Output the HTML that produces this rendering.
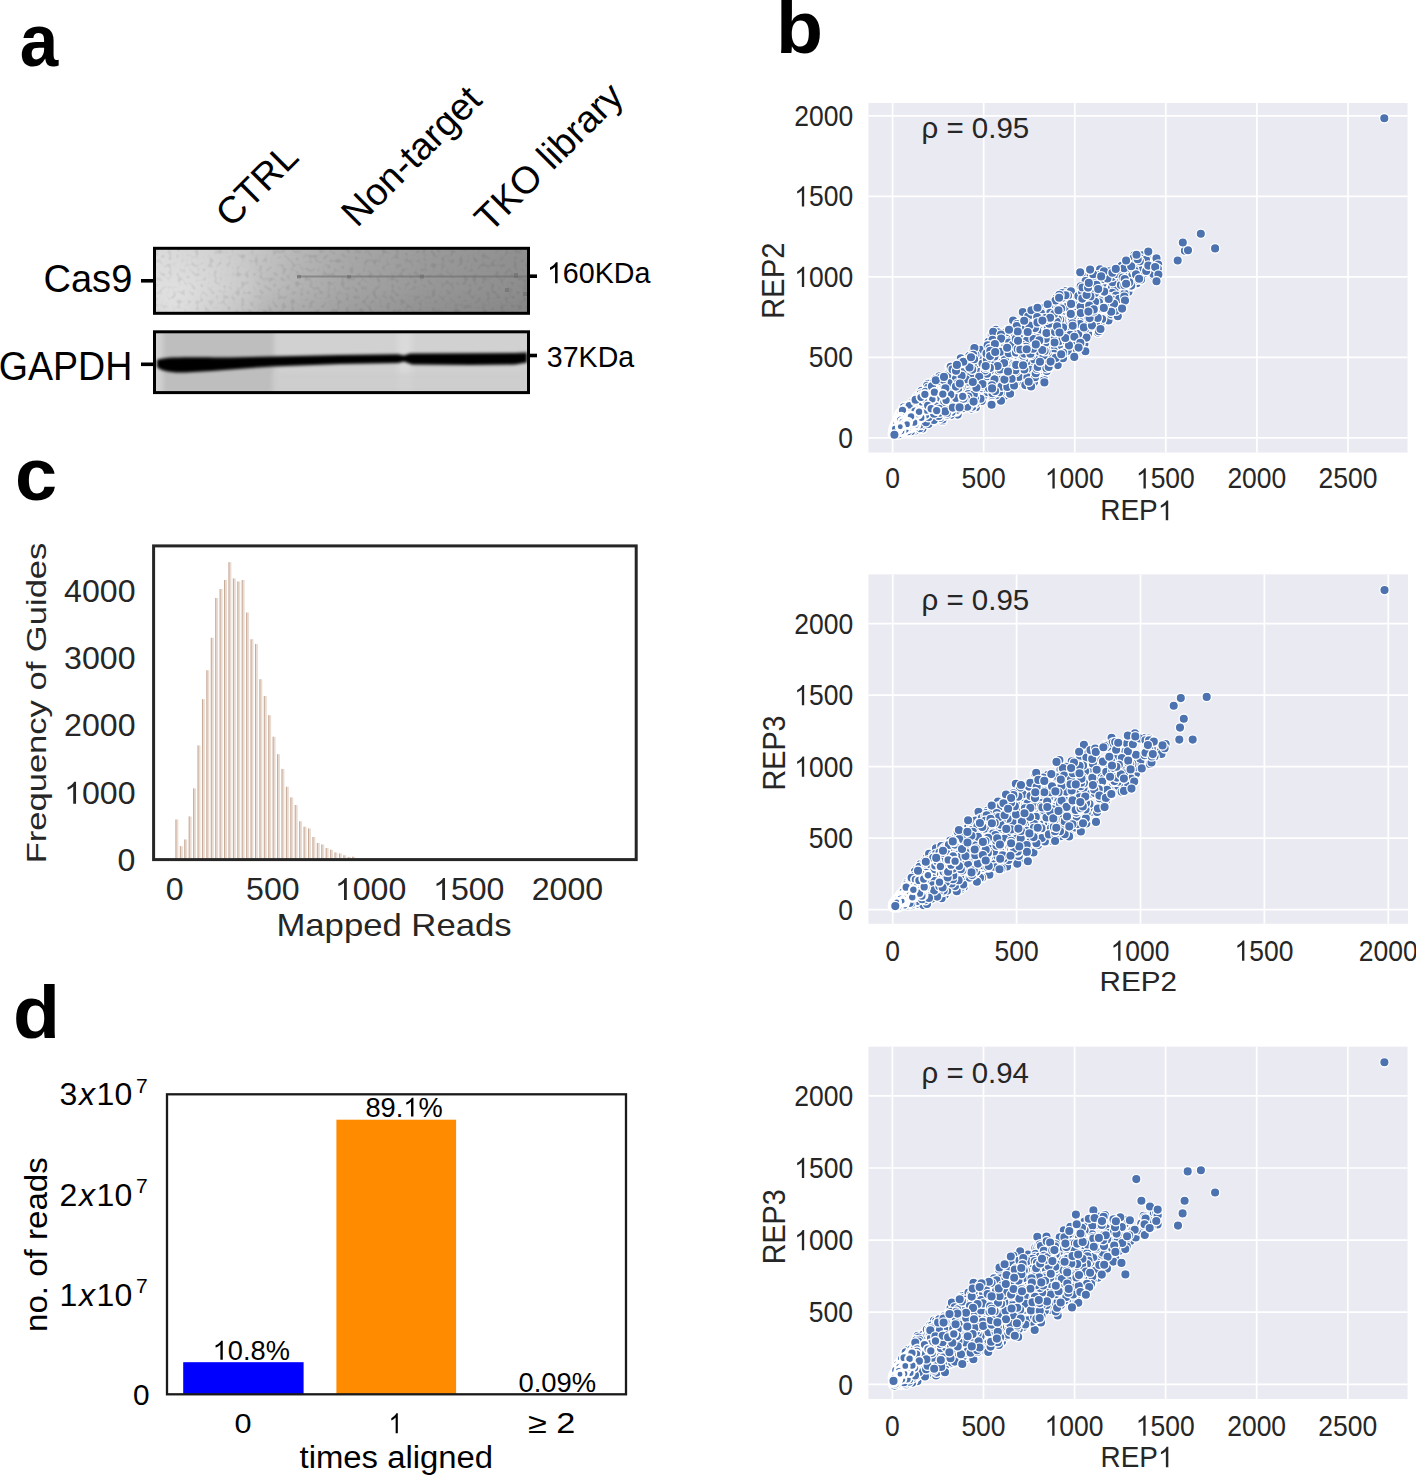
<!DOCTYPE html><html><head><meta charset="utf-8"><style>html,body{margin:0;padding:0;background:#fff;width:1416px;height:1476px;overflow:hidden;}svg{display:block;}text{font-family:"Liberation Sans",sans-serif;}</style></head><body>
<svg width="1416" height="1476" viewBox="0 0 1416 1476" font-family="Liberation Sans, sans-serif">
<rect width="1416" height="1476" fill="#fff"/>
<defs>
<marker id="dot" markerUnits="userSpaceOnUse" markerWidth="12" markerHeight="12" refX="6" refY="6" viewBox="0 0 12 12" overflow="visible"><circle cx="6" cy="6" r="4.700" fill="#4c72b0" stroke="#fff" stroke-width="1.3"/></marker>
<marker id="dot1" markerUnits="userSpaceOnUse" markerWidth="12" markerHeight="12" refX="6" refY="6" viewBox="0 0 12 12" overflow="visible"><circle cx="6" cy="6" r="4.500" fill="#4c72b0" stroke="#fff" stroke-width="1.7"/></marker>
<marker id="dot2" markerUnits="userSpaceOnUse" markerWidth="12" markerHeight="12" refX="6" refY="6" viewBox="0 0 12 12" overflow="visible"><circle cx="6" cy="6" r="4.300" fill="#4c72b0" stroke="#fff" stroke-width="2.1"/></marker>
<marker id="dot3" markerUnits="userSpaceOnUse" markerWidth="12" markerHeight="12" refX="6" refY="6" viewBox="0 0 12 12" overflow="visible"><circle cx="6" cy="6" r="4.100" fill="#4c72b0" stroke="#fff" stroke-width="2.5"/></marker>
<marker id="dot4" markerUnits="userSpaceOnUse" markerWidth="12" markerHeight="12" refX="6" refY="6" viewBox="0 0 12 12" overflow="visible"><circle cx="6" cy="6" r="3.900" fill="#4c72b0" stroke="#fff" stroke-width="2.9"/></marker>
<filter id="blur1" x="-5%" y="-50%" width="110%" height="200%"><feGaussianBlur stdDeviation="1.6"/></filter>
<filter id="blur2" x="-5%" y="-50%" width="110%" height="200%"><feGaussianBlur stdDeviation="3"/></filter>
<linearGradient id="cas9g" x1="0" y1="0" x2="1" y2="0">
 <stop offset="0" stop-color="#d3d3d3"/><stop offset="0.25" stop-color="#c8c8c8"/><stop offset="0.38" stop-color="#b7b7b7"/><stop offset="0.52" stop-color="#a8a8a8"/><stop offset="0.72" stop-color="#9b9b9b"/><stop offset="1" stop-color="#8f8f8f"/>
</linearGradient>
<linearGradient id="cas9v" x1="0" y1="0" x2="0" y2="1"><stop offset="0" stop-color="#000" stop-opacity="0"/><stop offset="0.6" stop-color="#000" stop-opacity="0.02"/><stop offset="1" stop-color="#000" stop-opacity="0.07"/></linearGradient>
<radialGradient id="cas9r" gradientUnits="userSpaceOnUse" cx="175" cy="305" r="90"><stop offset="0" stop-color="#fff" stop-opacity="0.45"/><stop offset="1" stop-color="#fff" stop-opacity="0"/></radialGradient>
<filter id="noise" x="0" y="0" width="100%" height="100%"><feTurbulence type="fractalNoise" baseFrequency="0.22" numOctaves="1" seed="3"/><feColorMatrix type="matrix" values="0 0 0 0 0  0 0 0 0 0  0 0 0 0 0  1.6 0 0 0 -0.8"/></filter>
<filter id="blurG" filterUnits="userSpaceOnUse" x="100" y="300" width="480" height="130"><feGaussianBlur stdDeviation="2.5"/></filter>
<filter id="blurB" filterUnits="userSpaceOnUse" x="100" y="300" width="480" height="130"><feGaussianBlur stdDeviation="1.5"/></filter>
<clipPath id="cas9clip"><rect x="155" y="248.5" width="373" height="64.5"/></clipPath>
<clipPath id="gapclip"><rect x="155" y="332" width="373" height="60.5"/></clipPath>
</defs>
<text x="19.82" y="65.60" font-size="75.00" textLength="38.52" lengthAdjust="spacingAndGlyphs" font-weight="bold" fill="#000">a</text>
<text x="776.11" y="52.70" font-size="75.00" textLength="47.04" lengthAdjust="spacingAndGlyphs" font-weight="bold" fill="#000">b</text>
<text x="14.97" y="499.60" font-size="75.00" textLength="42.12" lengthAdjust="spacingAndGlyphs" font-weight="bold" fill="#000">c</text>
<text x="13.12" y="1038.45" font-size="75.00" textLength="47.04" lengthAdjust="spacingAndGlyphs" font-weight="bold" fill="#000">d</text>
<text transform="translate(231.16,228.67) rotate(-45)" x="0" y="0" font-size="37.63" fill="#000">CTRL</text>
<text transform="translate(357.00,228.56) rotate(-45)" x="0" y="0" font-size="37.96" fill="#000">Non-target</text>
<text transform="translate(490.23,233.63) rotate(-45)" x="0" y="0" font-size="37.78" fill="#000">TKO library</text>
<text x="43.50" y="291.51" font-size="39.30" textLength="88.80" lengthAdjust="spacingAndGlyphs" fill="#000">Cas9</text>
<text x="-1.28" y="379.50" font-size="39.72" textLength="133.54" lengthAdjust="spacingAndGlyphs" fill="#000">GAPDH</text>
<text x="546.91" y="283.20" font-size="30.28" textLength="103.50" lengthAdjust="spacingAndGlyphs" fill="#000"> 60KDa</text>
<text x="546.86" y="366.80" font-size="30.28" textLength="87.27" lengthAdjust="spacingAndGlyphs" fill="#000">37KDa</text>
<g stroke="#000" stroke-width="3.6"><line x1="141" y1="280.8" x2="154" y2="280.8"/><line x1="141" y1="364.3" x2="154" y2="364.3"/><line x1="529" y1="276.2" x2="537" y2="276.2"/><line x1="529" y1="355.5" x2="537" y2="355.5"/></g>
<g clip-path="url(#cas9clip)">
<rect x="155" y="248" width="374" height="66" fill="url(#cas9g)"/>
<rect x="155" y="248" width="374" height="66" fill="url(#cas9v)"/>
<rect x="155" y="248" width="374" height="66" fill="url(#cas9r)"/>
<rect x="155" y="248" width="374" height="66" filter="url(#noise)" opacity="0.16"/>
<path d="M297 276.6 L527 276.6" stroke="#6a6a6a" stroke-width="2.0" opacity="0.55"/>
<g fill="#666" opacity="0.5"><rect x="297" y="275" width="4" height="3.5"/><rect x="347" y="275" width="4" height="3.5"/><rect x="420" y="274.5" width="4" height="4"/><rect x="514" y="273" width="4" height="5"/><rect x="505" y="288" width="4" height="4"/><rect x="523" y="292" width="4" height="4"/></g>
</g>
<rect x="154.5" y="248.3" width="374" height="65" fill="none" stroke="#000" stroke-width="3"/>
<g clip-path="url(#gapclip)">
<rect x="155" y="331" width="374" height="63" fill="#d1d1d1"/>
<rect x="163" y="331" width="111" height="63" fill="#bebebe" filter="url(#blurG)"/>
<rect x="398" y="331" width="14" height="63" fill="#dadada" filter="url(#blurG)"/>
<rect x="272" y="372" width="255" height="22" fill="#cbcbcb" filter="url(#blurG)" opacity="0.6"/>
<path d="M157 360 C 165 356.5, 185 357, 230 357.5 L 272 356.5 L 340 355 L 398 354.2 L 404 355.5 L 410 353.5 L 470 353.2 L 515 353 L 527 352.5 L 527 362.5 L 515 364.5 L 470 365 L 412 364.5 L 404 361.5 L 398 363 L 340 364 L 272 366.5 C 240 368.5, 210 371.5, 185 372.5 C 168 373, 160 370, 157 367 Z" fill="#000" filter="url(#blurB)"/>
</g>
<rect x="154.5" y="331.8" width="374" height="60.8" fill="none" stroke="#000" stroke-width="3"/>
<rect x="868.5" y="103" width="539.0" height="349.5" fill="#eaeaf2"/>
<path d="M892.6 103V452.5M983.7 103V452.5M1074.8 103V452.5M1165.8 103V452.5M1256.9 103V452.5M1348.0 103V452.5M868.5 437.8H1407.5M868.5 357.3H1407.5M868.5 276.8H1407.5M868.5 196.3H1407.5M868.5 115.8H1407.5" stroke="#fff" stroke-width="1.7" fill="none"/>
<svg x="868.5" y="103" width="539.0" height="349.5" viewBox="868.5 103 539.0 349.5" overflow="hidden">
<polyline fill="none" stroke="none" marker-start="url(#dot)" marker-mid="url(#dot)" marker-end="url(#dot)" points="1017.9,375.3 1054.5,347.3 947.6,388.7 967.9,400.0 1058.8,345.7 998.8,341.5 973.9,375.2 916.3,400.9 985.3,351.3 1024.8,320.7 945.4,404.2 924.5,424.7 944.3,413.4 1045.2,345.5 999.9,377.4 1020.8,351.1 1028.0,357.7 990.8,395.4 963.5,394.5 945.0,406.9 1005.6,356.3 1060.2,359.8 936.2,384.6 1112.6,288.3 1024.5,341.8 959.5,371.6 933.7,383.2 922.8,424.9 984.0,385.1 965.8,400.2 1111.7,298.9 925.1,392.2 1005.8,367.4 972.1,401.1 1042.2,372.9 955.9,399.0 1031.3,335.7 1083.5,291.0 974.0,370.9 1139.0,280.1 1044.6,348.4 974.1,401.3 1068.9,329.3 970.5,362.7 986.4,383.3 964.5,392.0 1051.4,358.3 1011.1,383.6 1003.4,385.8 969.3,387.0 1029.1,315.5 1061.8,331.0 973.7,393.9 1001.7,340.8 955.5,379.5 1058.6,359.5 940.6,408.8 1010.4,351.8 1051.3,329.6 937.2,405.5"/>
<polyline fill="none" stroke="none" marker-start="url(#dot1)" marker-mid="url(#dot1)" marker-end="url(#dot1)" points="943.0,403.7 935.2,406.6 931.7,414.6 932.9,393.6 935.7,398.4 937.2,388.6 907.5,410.7 932.9,402.1 930.5,408.0 920.7,415.1 910.4,409.5 951.1,398.5 936.5,407.8 898.7,417.9 905.6,410.8 918.3,404.4 903.9,411.2 938.3,393.8 941.4,398.7"/>
<polyline fill="none" stroke="none" marker-start="url(#dot2)" marker-mid="url(#dot2)" marker-end="url(#dot2)" points="893.8,428.0 928.3,402.8 924.1,399.9 908.1,417.6 922.9,402.9 894.5,429.3"/>
<polyline fill="none" stroke="none" marker-start="url(#dot3)" marker-mid="url(#dot3)" marker-end="url(#dot3)" points="903.3,425.9 903.3,425.9"/>
<polyline fill="none" stroke="none" marker-start="url(#dot)" marker-mid="url(#dot)" marker-end="url(#dot)" points="925.4,423.4 977.7,357.6 1072.7,340.2 988.5,384.3 974.2,407.7 1011.8,387.1 1098.3,305.0 975.2,368.0 973.2,393.4 944.2,383.2 967.9,398.7 982.8,351.1 1072.1,325.6 1086.8,289.3 1025.0,356.7 1026.3,336.8 960.3,403.5 978.7,383.0 955.5,390.2 982.1,382.0 990.6,403.0 1029.9,336.6 960.5,363.5 974.4,376.5 974.4,357.6 976.4,352.2 1062.8,317.9 1039.7,325.9 1011.0,364.9 1080.2,299.2 1002.7,379.7 957.7,376.0 942.6,421.0 966.7,373.0 1028.5,314.1 1075.6,344.7 1072.7,334.5 977.6,360.2 1105.7,308.7 998.5,365.3 980.7,387.3 1037.7,337.4 1067.9,326.0 948.1,401.5 992.8,361.6 924.3,392.9 1015.9,362.7 1034.7,341.8 1029.8,328.7 1031.2,350.5 976.8,370.8 982.6,357.9 949.4,403.5 924.8,420.2 1095.7,308.6 971.9,364.8 960.9,391.6 1004.4,351.9 996.2,339.3 1000.0,381.0 1094.9,305.8 920.7,395.6 949.1,401.7 998.7,385.3 1019.9,340.1 1010.3,369.9 1028.1,354.1 1044.7,353.1 1015.1,380.5 1031.9,319.9 927.3,390.4"/>
<polyline fill="none" stroke="none" marker-start="url(#dot1)" marker-mid="url(#dot1)" marker-end="url(#dot1)" points="935.2,402.0 893.1,433.4 918.9,422.7 912.2,406.8 894.2,432.8 924.3,414.1 915.3,404.9 931.3,415.7"/>
<polyline fill="none" stroke="none" marker-start="url(#dot2)" marker-mid="url(#dot2)" marker-end="url(#dot2)" points="923.3,401.8 894.5,430.4 917.9,419.0 913.0,420.0 920.4,417.3"/>
<polyline fill="none" stroke="none" marker-start="url(#dot3)" marker-mid="url(#dot3)" marker-end="url(#dot3)" points="908.5,419.9 905.2,423.2"/>
<polyline fill="none" stroke="none" marker-start="url(#dot4)" marker-mid="url(#dot4)" marker-end="url(#dot4)" points="897.5,426.6 897.5,426.6"/>
<polyline fill="none" stroke="none" marker-start="url(#dot)" marker-mid="url(#dot)" marker-end="url(#dot)" points="977.1,356.0 1046.7,309.4 1029.4,372.1 1037.5,310.3 940.5,402.9 1037.3,378.0 1043.2,327.7 935.1,379.4 1059.9,302.0 1015.9,360.3 962.3,402.4 1061.4,341.0 1008.5,347.9 965.3,387.7 993.8,347.8 980.6,356.7 986.6,374.8 1084.5,320.4 1079.0,314.9 936.1,386.1 949.2,380.8 1009.9,355.8 955.1,372.1 990.8,373.2 981.9,391.7 954.2,394.9 1083.5,294.1 998.3,346.1 1068.1,302.7 977.0,382.1 1074.7,324.1 963.3,378.9 1108.5,320.4 955.7,367.4 1012.9,362.8 1007.7,352.3 960.1,403.0 1026.1,320.2 962.1,391.3 1074.7,343.8 947.1,378.7 1101.7,284.3 949.5,367.3 1005.8,376.0 1111.3,314.3 1047.2,339.8 1102.4,298.3 911.6,404.0 1019.5,323.1 937.0,386.0 1069.2,329.1 1024.7,336.0 966.0,383.9"/>
<polyline fill="none" stroke="none" marker-start="url(#dot1)" marker-mid="url(#dot1)" marker-end="url(#dot1)" points="913.2,426.4 935.1,388.4 935.2,401.3 925.3,416.0 919.7,404.0 905.2,429.6 941.5,400.1 941.7,400.0 944.0,395.5"/>
<polyline fill="none" stroke="none" marker-start="url(#dot2)" marker-mid="url(#dot2)" marker-end="url(#dot2)" points="908.7,416.0 912.9,422.5 919.9,413.6 933.2,396.3 893.7,430.6 925.8,399.1 899.3,418.9 916.7,420.2 910.3,416.7 904.8,426.9 923.0,414.5 902.5,416.2 910.3,417.0 894.3,429.6 895.2,426.3"/>
<polyline fill="none" stroke="none" marker-start="url(#dot3)" marker-mid="url(#dot3)" marker-end="url(#dot3)" points="897.3,431.6 904.1,416.7 897.2,426.2 894.9,427.9 904.9,422.6 901.5,420.0 905.0,424.2 908.4,422.7 895.8,429.9 905.9,420.8"/>
<polyline fill="none" stroke="none" marker-start="url(#dot)" marker-mid="url(#dot)" marker-end="url(#dot)" points="1047.6,304.8 1107.1,293.6 968.6,394.4 970.9,388.2 1031.9,352.4 1029.4,335.6 982.8,364.7 964.5,407.2 946.3,404.1 917.7,398.5 978.4,372.8 999.8,374.0 950.9,372.6 1013.4,345.1 969.9,376.4 1013.9,384.4 933.2,409.7 999.6,345.8 967.7,371.5 1032.6,348.2 1037.0,331.9 989.8,366.7 1124.9,287.9 1022.0,381.4 1100.0,284.3 911.9,404.1 994.6,391.9 991.2,354.6 972.0,369.2 927.8,389.2 1100.2,297.3 1068.6,328.3 1078.8,296.8 982.8,365.7 1039.9,339.2 994.3,357.0 949.2,396.4 972.7,376.6 1115.4,313.3 1092.5,288.4 1059.8,338.1 948.7,394.1 1137.0,274.6 952.3,408.1 936.1,413.1 1071.6,352.6 928.2,415.0 951.8,371.5 1045.9,312.6 1009.5,329.6 958.3,385.6 993.1,362.4 1015.8,339.6 938.0,414.1 1098.2,296.7 989.9,353.5 950.6,411.8 939.0,416.3 912.0,428.1 1054.4,354.4 1076.1,336.2"/>
<polyline fill="none" stroke="none" marker-start="url(#dot1)" marker-mid="url(#dot1)" marker-end="url(#dot1)" points="912.5,426.9 933.7,410.7 932.4,407.3 893.2,433.2 969.0,399.9 920.1,422.2 922.0,410.3 937.2,397.5 933.7,392.1 914.3,409.6 947.1,384.8 947.4,384.3 935.1,403.8 921.4,417.6 925.1,407.7"/>
<polyline fill="none" stroke="none" marker-start="url(#dot2)" marker-mid="url(#dot2)" marker-end="url(#dot2)" points="927.8,397.5 906.6,412.0 906.5,413.6 894.4,429.0 917.2,422.1 925.8,402.2"/>
<polyline fill="none" stroke="none" marker-start="url(#dot3)" marker-mid="url(#dot3)" marker-end="url(#dot3)" points="914.5,416.8 894.8,427.8 897.5,427.6 895.3,428.8"/>
<polyline fill="none" stroke="none" marker-start="url(#dot)" marker-mid="url(#dot)" marker-end="url(#dot)" points="928.2,383.7 1035.1,311.4 1026.7,337.1 1040.1,338.2 960.0,383.4 979.2,353.3 1007.5,329.9 1039.3,361.2 997.5,338.4 1022.5,347.0 960.9,366.8 981.6,363.3 987.6,359.5 965.9,388.2 1000.3,356.1 1063.3,295.5 1016.2,349.2 1034.5,376.4 948.3,402.4 1016.4,371.0 963.2,387.1 965.9,375.5 1056.3,355.7 1039.8,378.5 962.8,374.0 952.0,403.6 1132.1,285.4 981.4,397.5 1077.3,296.7 944.9,383.0 1045.2,306.3 956.9,385.3 1007.5,330.4 1042.4,312.1 1037.3,365.4 976.5,386.3 954.4,388.8 1107.2,308.1 926.7,391.7 961.0,393.5 962.4,391.5 941.1,391.0 1011.2,373.0 935.9,415.9 948.3,382.0 1052.9,326.4 1004.7,383.2 917.2,400.3 1010.8,364.3 1032.5,364.9 1136.8,283.3 1072.7,329.7 980.2,365.3 963.6,399.4 1126.8,262.1 945.5,379.3 915.3,430.5 1040.3,370.1 951.9,377.5 1048.7,333.3 984.3,355.1 932.1,421.5 993.8,389.8 937.0,413.8"/>
<polyline fill="none" stroke="none" marker-start="url(#dot1)" marker-mid="url(#dot1)" marker-end="url(#dot1)" points="938.9,387.5 893.1,433.4 945.5,397.7 921.8,404.7 919.5,423.1 934.1,397.0 924.4,394.4 926.9,395.9 927.4,394.3 932.1,390.9 937.3,388.7 899.0,415.7 899.9,413.9"/>
<polyline fill="none" stroke="none" marker-start="url(#dot2)" marker-mid="url(#dot2)" marker-end="url(#dot2)" points="898.9,422.0 906.9,414.5 909.6,410.4 913.5,420.4 913.1,412.5"/>
<polyline fill="none" stroke="none" marker-start="url(#dot3)" marker-mid="url(#dot3)" marker-end="url(#dot3)" points="899.3,425.4 901.2,428.0 906.8,421.5 896.6,426.1 897.2,430.2"/>
<polyline fill="none" stroke="none" marker-start="url(#dot)" marker-mid="url(#dot)" marker-end="url(#dot)" points="978.0,395.4 956.4,367.9 1029.8,313.2 1066.1,291.1 1033.8,327.0 1043.7,330.5 975.9,407.3 1045.1,336.3 1005.2,386.6 985.1,396.8 990.4,348.7 1056.1,339.8 989.1,371.6 966.0,403.7 1147.2,257.1 994.5,333.7 982.9,350.4 945.8,384.9 923.0,394.4 966.1,400.7 1070.6,338.0 1087.5,313.3 952.4,407.4 954.6,398.1 958.6,374.3 979.2,398.4 1005.9,362.2 982.1,371.2 908.8,431.6 957.7,414.6 978.9,386.7 969.2,405.7 930.3,414.7 950.7,393.9 920.7,425.3 962.5,381.9 985.5,381.2 998.9,376.7 1012.3,341.5 966.4,359.6 993.8,349.2 1102.4,284.0 1040.1,329.2 1058.0,344.6 919.2,396.9 1143.7,273.2 945.0,378.8 1012.3,354.0 1038.1,352.8 970.0,381.2 1126.8,290.0 1003.7,395.4 954.0,375.4"/>
<polyline fill="none" stroke="none" marker-start="url(#dot1)" marker-mid="url(#dot1)" marker-end="url(#dot1)" points="906.5,411.1 925.4,407.0 937.7,397.2 941.6,398.4 939.7,394.3 908.1,407.3 933.6,392.8 937.7,392.4 948.8,384.8 934.9,405.1 933.6,401.7 931.3,393.5 906.5,410.7 933.3,411.4 932.3,407.3 936.1,400.2 935.2,396.5 934.8,391.3 931.5,402.1"/>
<polyline fill="none" stroke="none" marker-start="url(#dot2)" marker-mid="url(#dot2)" marker-end="url(#dot2)" points="925.0,404.4 908.5,410.6 928.0,404.4 902.0,417.9 929.0,403.1 895.3,431.1 898.1,422.0 926.6,403.0 912.8,424.3 894.0,431.0 921.6,410.9"/>
<polyline fill="none" stroke="none" marker-start="url(#dot3)" marker-mid="url(#dot3)" marker-end="url(#dot3)" points="894.8,428.1 905.2,422.8 896.5,425.3 895.7,426.8"/>
<polyline fill="none" stroke="none" marker-start="url(#dot)" marker-mid="url(#dot)" marker-end="url(#dot)" points="949.9,394.7 1026.0,344.5 1015.1,379.1 950.6,389.1 967.5,373.3 1046.7,347.7 1101.2,278.8 1009.9,365.1 1034.6,332.9 1017.3,362.3 992.0,390.6 1020.8,372.3 942.4,402.6 1000.7,398.6 947.2,395.8 953.1,386.3 962.8,364.3 973.8,382.9 1052.1,330.0 991.3,371.2 913.5,401.8 1119.8,282.9 1006.2,369.5 1124.7,272.7 1010.2,330.6 1047.4,355.2 955.2,384.6 977.8,376.7 952.9,411.3 1033.6,327.6 970.3,366.1 1010.6,380.3 1044.4,349.0 913.4,402.7 913.7,429.4 1036.2,362.6 1027.4,354.6 1039.9,353.6 921.1,424.5 957.5,377.9 1077.5,323.2 987.7,396.3 922.5,428.6 949.0,375.0 1093.4,317.2 966.6,401.8 1005.5,334.8 1005.6,345.6 963.5,401.3 964.8,368.9 1060.3,333.0 1038.7,336.2 960.2,393.3 1050.7,344.0 1100.5,323.5"/>
<polyline fill="none" stroke="none" marker-start="url(#dot1)" marker-mid="url(#dot1)" marker-end="url(#dot1)" points="926.5,396.5 944.5,398.9 937.2,388.5 938.8,396.3 923.8,394.6 939.9,391.2 918.1,423.5 915.3,409.5 924.5,408.0 936.1,399.8 917.2,425.0"/>
<polyline fill="none" stroke="none" marker-start="url(#dot2)" marker-mid="url(#dot2)" marker-end="url(#dot2)" points="928.6,402.6 912.8,412.1 913.6,415.6 905.5,428.2 897.7,424.1 929.8,402.7 928.5,401.8 907.2,417.1 908.3,411.8 896.2,422.9 919.0,416.4"/>
<polyline fill="none" stroke="none" marker-start="url(#dot3)" marker-mid="url(#dot3)" marker-end="url(#dot3)" points="895.1,427.5 902.3,425.4 902.1,426.1 903.9,417.4 909.2,420.0 900.4,429.4 896.1,426.7 900.4,420.7"/>
<polyline fill="none" stroke="none" marker-start="url(#dot4)" marker-mid="url(#dot4)" marker-end="url(#dot4)" points="897.8,428.2 897.8,428.2"/>
<polyline fill="none" stroke="none" marker-start="url(#dot)" marker-mid="url(#dot)" marker-end="url(#dot)" points="1068.0,353.5 965.1,371.5 1088.1,333.7 1087.2,299.4 1017.0,355.6 966.2,404.4 1005.5,349.5 974.1,369.3 968.1,372.1 1000.4,339.9 972.8,395.7 1012.1,367.9 979.3,353.8 1013.6,382.2 1112.9,303.7 974.4,374.8 1052.9,330.9 950.6,412.7 1031.2,378.5 1118.7,298.6 950.3,367.3 953.7,377.7 1112.0,287.5 1014.5,374.4 911.7,402.7 944.5,412.0 1001.6,333.3 994.7,371.5 1005.2,361.3 965.2,364.6 1092.9,313.0 1004.6,369.5 1124.1,283.6 1004.5,395.8 952.5,395.1 1002.1,353.7 966.6,393.5 1100.1,269.3 1046.9,333.7 1039.0,325.3 1004.8,366.4 948.2,405.0 1108.3,273.4 1003.2,362.5 1064.1,343.5 1016.3,332.3 959.6,379.3 1108.8,296.8 1042.6,323.2 978.7,366.1 1018.8,329.7 961.4,374.3 945.3,377.6 1060.9,346.0 962.0,400.4 1149.1,268.3 1026.8,331.4"/>
<polyline fill="none" stroke="none" marker-start="url(#dot1)" marker-mid="url(#dot1)" marker-end="url(#dot1)" points="894.3,433.2 922.7,417.1 939.2,395.8 935.7,396.0 923.9,419.4 919.2,403.8 901.3,413.8 895.4,433.6 926.5,406.1 929.7,401.4 927.6,415.5"/>
<polyline fill="none" stroke="none" marker-start="url(#dot2)" marker-mid="url(#dot2)" marker-end="url(#dot2)" points="896.9,423.6 928.0,399.2 914.8,420.7 898.2,420.8 900.1,419.7 916.7,417.7 918.8,412.8 907.6,424.9 933.4,396.5 927.2,398.2 920.3,413.0 897.2,423.7 901.8,429.2"/>
<polyline fill="none" stroke="none" marker-start="url(#dot3)" marker-mid="url(#dot3)" marker-end="url(#dot3)" points="903.0,420.4 899.0,431.1 899.8,424.8 904.1,425.7 905.8,420.5"/>
<polyline fill="none" stroke="none" marker-start="url(#dot4)" marker-mid="url(#dot4)" marker-end="url(#dot4)" points="903.4,421.0 903.4,421.0"/>
<polyline fill="none" stroke="none" marker-start="url(#dot)" marker-mid="url(#dot)" marker-end="url(#dot)" points="946.5,407.5 1094.0,302.8 1110.8,305.7 986.5,382.9 971.1,403.0 947.0,387.1 954.9,406.7 1151.5,266.5 1045.3,359.3 959.9,396.3 961.0,375.7 1008.9,358.5 1116.0,293.4 959.2,376.7 1013.2,368.6 946.1,394.3 988.4,368.0 965.1,383.8 1076.1,310.7 1109.0,305.7 972.5,402.3 1056.1,306.6 1065.3,330.5 969.8,399.1 1033.1,324.4 971.1,379.9 923.4,421.9 1016.9,357.8 953.6,369.4 990.8,392.0 1134.3,255.1 1096.5,315.3 1128.1,268.0 1027.6,358.8 972.3,382.0 920.4,395.7 985.5,395.8 1058.0,303.0 962.4,373.4 1035.3,326.1 1056.6,298.1 1091.1,326.4 991.4,335.2 989.5,355.7 1019.0,348.1 943.7,410.0 978.8,362.4 971.4,378.2 934.3,385.8 1093.1,295.1 970.4,364.3 1114.9,288.3 967.9,397.7 994.1,345.8 980.0,378.5 911.0,431.3 929.7,388.2 991.6,404.7 958.6,391.7"/>
<polyline fill="none" stroke="none" marker-start="url(#dot1)" marker-mid="url(#dot1)" marker-end="url(#dot1)" points="922.6,406.1 925.7,407.4 903.0,430.3 922.4,408.8 940.3,388.9 927.9,393.6 898.9,416.2 922.7,408.2 929.3,393.2 931.5,410.8 926.1,408.2 931.3,408.3 944.9,398.3 936.0,395.4 895.4,424.2 913.5,410.0 928.0,411.6"/>
<polyline fill="none" stroke="none" marker-start="url(#dot2)" marker-mid="url(#dot2)" marker-end="url(#dot2)" points="917.5,419.6 930.2,399.4 904.3,427.3 895.6,430.7 913.1,420.6 929.7,403.1 915.0,418.1"/>
<polyline fill="none" stroke="none" marker-start="url(#dot3)" marker-mid="url(#dot3)" marker-end="url(#dot3)" points="895.5,427.8 902.4,426.8 903.3,425.6 909.3,421.0"/>
<polyline fill="none" stroke="none" marker-start="url(#dot)" marker-mid="url(#dot)" marker-end="url(#dot)" points="1118.4,310.4 1087.5,279.3 971.9,368.6 1015.3,329.5 959.1,395.9 972.4,378.8 957.2,392.2 955.9,396.6 1087.1,276.8 976.1,372.9 956.4,403.5 1005.6,382.7 950.1,411.9 1014.8,381.3 1101.3,318.8 1133.7,257.9 959.6,406.9 1153.6,276.0 976.4,351.4 1106.6,303.2 1035.4,325.2 945.3,381.8 1021.2,364.3 976.2,396.9 949.2,393.6 963.2,408.2 929.9,418.2 1013.2,342.8 944.3,415.5 1029.2,324.2 1021.5,350.5 1009.6,339.0 1041.5,348.4 1028.0,353.1 953.6,388.1 1145.4,260.1 1012.1,358.0 973.4,360.6 936.8,415.0 918.3,426.2 981.4,369.6 935.0,415.9 1065.3,353.6 1039.9,344.7 995.1,343.9 966.7,370.6 983.3,390.4 1080.1,336.1 1082.4,292.6 1041.8,353.9 976.7,374.6 1014.7,371.1 985.7,375.6 940.4,382.7 942.6,419.5 937.7,414.9 994.3,370.9 989.3,384.9 1026.3,329.5 1109.1,299.7"/>
<polyline fill="none" stroke="none" marker-start="url(#dot1)" marker-mid="url(#dot1)" marker-end="url(#dot1)" points="935.5,399.4 931.9,414.7 923.6,406.4 931.8,390.6 916.4,425.3 904.2,430.4 948.8,389.1 926.2,405.3 918.5,407.9 921.2,414.7 907.0,406.4 927.1,412.2"/>
<polyline fill="none" stroke="none" marker-start="url(#dot2)" marker-mid="url(#dot2)" marker-end="url(#dot2)" points="920.7,411.5 895.7,425.4 899.5,420.5 902.8,427.9 906.9,411.8 929.0,402.8 916.9,415.2 906.1,425.3 928.3,402.1 925.6,404.8"/>
<polyline fill="none" stroke="none" marker-start="url(#dot3)" marker-mid="url(#dot3)" marker-end="url(#dot3)" points="903.5,422.4 902.0,421.2 903.4,417.6 905.6,424.4"/>
<polyline fill="none" stroke="none" marker-start="url(#dot)" marker-mid="url(#dot)" marker-end="url(#dot)" points="993.2,370.5 1020.4,329.6 1126.2,269.4 1014.0,384.9 1049.1,326.1 989.0,353.2 987.1,359.1 990.1,379.6 1052.1,322.8 1036.9,351.2 909.7,405.4 950.0,411.4 1009.0,389.1 1011.3,348.3 959.0,393.6 994.6,388.3 1062.8,297.6 943.5,413.9 1055.9,339.3 981.4,395.2 1033.3,335.3 1022.8,312.0 994.4,395.3 915.4,426.3 988.3,365.3 985.4,373.9 1003.0,366.3 974.2,386.8 1011.6,381.1 1043.4,308.0 990.6,371.6 954.9,390.0 1023.0,361.9 976.6,399.9 955.0,399.9 951.3,408.2 912.5,427.5 1037.2,333.7 1081.2,308.0 1019.5,337.7 1006.2,355.9 976.2,376.9 964.8,380.6 978.5,400.9 1054.2,319.5 1098.9,287.7 957.6,373.0 1085.3,328.8 1010.1,345.9 995.7,351.9 1073.6,320.4 1063.9,320.3 972.2,360.9 956.2,401.9 956.3,411.5 1001.8,347.3 959.9,374.8 1039.4,357.9 935.4,385.5 1102.1,319.1 975.9,356.9"/>
<polyline fill="none" stroke="none" marker-start="url(#dot1)" marker-mid="url(#dot1)" marker-end="url(#dot1)" points="895.6,424.0 909.6,426.9 903.4,411.1 940.5,399.0 922.9,405.6 901.3,430.8 938.4,388.9 924.8,414.0 920.2,421.7 933.2,413.3 941.2,396.3 924.0,416.4"/>
<polyline fill="none" stroke="none" marker-start="url(#dot2)" marker-mid="url(#dot2)" marker-end="url(#dot2)" points="920.2,416.2 894.4,430.0 914.4,419.5 906.7,413.3 905.1,411.6 927.4,398.5 913.8,421.7 897.3,432.9 926.1,403.7"/>
<polyline fill="none" stroke="none" marker-start="url(#dot3)" marker-mid="url(#dot3)" marker-end="url(#dot3)" points="897.2,428.2 897.1,426.9 905.7,422.7 909.6,422.1 895.2,429.6"/>
<polyline fill="none" stroke="none" marker-start="url(#dot)" marker-mid="url(#dot)" marker-end="url(#dot)" points="971.9,357.4 933.9,408.2 908.4,406.6 986.7,349.3 1025.3,347.1 995.9,373.6 971.5,382.9 1109.5,294.4 1017.9,366.1 1103.8,279.1 996.0,386.3 989.1,367.0 963.9,385.8 928.4,418.7 994.4,367.0 924.2,421.1 947.9,390.7 1042.6,338.7 958.2,364.1 960.8,394.0 979.8,352.4 936.6,417.8 992.1,350.2 1075.8,328.9 1112.5,292.9 1030.5,352.5 946.2,403.7 966.9,400.7 1042.9,343.0 1108.9,271.3 996.8,391.1 952.2,396.8 958.7,399.6 1010.2,366.5 926.3,390.1 997.4,357.9 1025.7,323.8 1076.1,308.1 991.5,367.8 1016.0,335.3 977.7,372.7 1081.3,309.8 946.3,401.8 1004.7,339.0 1008.3,344.7 905.0,406.7 970.7,395.8 963.2,401.3 964.1,381.8 945.9,384.9 948.4,385.4 1116.6,270.2 1031.7,351.7 976.5,380.4 1001.5,380.3 1112.3,275.5 972.2,388.0 1058.7,327.0 999.2,389.0 1110.4,297.3 1066.7,348.7 989.9,392.1 961.5,394.7 1024.3,371.1 961.3,398.1 972.2,403.2 962.4,369.1 1013.6,362.4 976.6,381.2 965.7,383.8 1011.6,349.7 973.5,382.3 1076.4,336.0"/>
<polyline fill="none" stroke="none" marker-start="url(#dot1)" marker-mid="url(#dot1)" marker-end="url(#dot1)" points="934.1,390.7 900.0,413.3 920.5,418.7 929.1,395.1 918.0,410.0"/>
<polyline fill="none" stroke="none" marker-start="url(#dot2)" marker-mid="url(#dot2)" marker-end="url(#dot2)" points="923.6,414.9 895.6,425.2 898.4,432.1 905.5,427.4 924.4,405.7 914.0,421.6 904.8,426.8"/>
<polyline fill="none" stroke="none" marker-start="url(#dot3)" marker-mid="url(#dot3)" marker-end="url(#dot3)" points="907.4,419.9 905.8,423.6"/>
<polyline fill="none" stroke="none" marker-start="url(#dot)" marker-mid="url(#dot)" marker-end="url(#dot)" points="982.4,377.7 1098.0,332.6 995.4,389.7 1071.5,322.6 1041.2,311.8 984.9,383.2 955.9,394.7 955.9,396.0 978.8,388.9 1094.1,318.8 978.7,400.2 945.9,409.0 913.0,404.4 954.0,389.5 1138.2,268.1 982.3,392.7 988.3,393.3 924.5,421.0 941.8,413.5 1152.6,272.1 989.1,368.4 955.1,386.0 1015.3,361.1 966.2,371.0 1019.7,338.5 999.5,361.5 1049.1,316.6 990.7,370.4 1053.1,337.6 985.3,365.2 1001.8,364.0 1080.2,272.2 1011.6,354.3 1014.1,326.4 951.7,403.6 972.1,400.7 916.4,400.4 921.6,390.8 1032.8,330.2 1026.2,366.4 1084.2,287.2 1074.3,315.0 1128.5,291.7 953.1,381.9 974.4,376.9 1016.5,353.2 1006.3,349.8 1006.7,364.7 1042.2,342.0 1044.1,379.9 938.9,383.0 1002.3,338.1 943.9,408.5 970.1,382.3 1027.9,338.9 1006.4,345.0 1119.4,281.3 1018.6,325.3 980.2,351.6 971.5,381.8 941.4,404.1 976.9,394.7 1078.2,301.7 965.3,362.2 1022.3,367.8 1068.7,304.8 975.5,394.9"/>
<polyline fill="none" stroke="none" marker-start="url(#dot1)" marker-mid="url(#dot1)" marker-end="url(#dot1)" points="934.2,398.9 915.8,411.6 906.8,410.0 925.0,419.2 926.1,409.9 899.1,418.0 921.8,416.4 917.4,409.6 923.7,416.6 943.8,402.9 928.0,411.9 940.1,404.3 916.6,404.5"/>
<polyline fill="none" stroke="none" marker-start="url(#dot2)" marker-mid="url(#dot2)" marker-end="url(#dot2)" points="902.6,416.8 905.7,426.2 905.2,412.9 904.9,413.9"/>
<polyline fill="none" stroke="none" marker-start="url(#dot3)" marker-mid="url(#dot3)" marker-end="url(#dot3)" points="905.9,419.2 900.0,424.7"/>
<polyline fill="none" stroke="none" marker-start="url(#dot)" marker-mid="url(#dot)" marker-end="url(#dot)" points="1014.1,372.5 962.7,368.3 958.9,383.5 968.4,383.6 1105.5,298.9 1004.9,372.4 963.6,373.2 1090.7,275.2 974.4,392.4 980.6,388.2 1054.0,335.8 995.6,329.7 940.5,382.9 946.3,412.8 1067.1,326.5 994.4,354.5 1029.3,335.2 946.8,406.4 952.2,386.4 973.5,350.5 950.9,376.6 959.8,389.1 948.7,400.6 946.5,408.0 939.2,403.9 1045.6,332.3 1030.7,364.5 962.1,366.1 953.2,395.1 969.4,383.3 1044.3,330.3 1142.2,255.4 996.9,356.9 1131.3,286.5 963.4,390.8 949.0,386.5 956.3,383.3 1031.8,344.7 979.9,363.1 1026.0,331.4 989.6,386.3 949.4,373.0 1039.0,340.9 1063.3,354.1 1058.0,358.4 967.4,390.9 944.0,387.8 1017.5,365.5 955.3,400.2 916.8,396.7 967.2,369.7 939.8,408.0 1136.5,279.6 983.1,398.7 1067.6,292.5 1037.7,369.1 1088.4,319.8 976.1,369.5 1003.8,354.8 918.9,397.3 1002.2,342.7 993.8,363.9 961.2,406.7 960.8,358.4 936.3,406.6"/>
<polyline fill="none" stroke="none" marker-start="url(#dot1)" marker-mid="url(#dot1)" marker-end="url(#dot1)" points="916.1,409.9 928.4,414.4 936.0,391.0 925.4,414.8 928.0,393.1 937.7,397.4 931.4,393.7 912.7,410.8 924.0,412.8 938.8,398.8"/>
<polyline fill="none" stroke="none" marker-start="url(#dot2)" marker-mid="url(#dot2)" marker-end="url(#dot2)" points="909.1,417.6 926.8,398.4 922.6,401.5 912.8,414.5 924.3,403.4 912.8,419.6 910.4,410.7 896.0,431.9 897.4,424.0 910.9,416.6"/>
<polyline fill="none" stroke="none" marker-start="url(#dot3)" marker-mid="url(#dot3)" marker-end="url(#dot3)" points="898.6,431.2 905.8,421.0"/>
<polyline fill="none" stroke="none" marker-start="url(#dot)" marker-mid="url(#dot)" marker-end="url(#dot)" points="1112.9,297.6 954.0,384.3 1058.1,318.3 1112.5,282.2 1058.1,322.6 994.6,352.2 969.8,376.5 1084.4,344.1 983.0,368.6 941.2,388.6 1066.6,311.5 948.3,412.8 1023.8,367.7 977.8,356.6 1059.2,356.8 965.7,378.7 981.8,350.7 984.0,394.4 920.7,393.7 957.8,366.6 935.9,413.4 1013.1,320.5 972.2,373.3 951.8,369.9 1025.7,331.7 1070.9,291.3 1080.1,344.3 977.7,371.3 1018.4,359.8 1003.5,345.2 988.1,372.7 981.8,372.8 983.8,387.1 1002.9,340.2 1022.7,370.3 1022.0,358.9 1008.1,392.6 1035.9,347.5 952.6,370.2 998.2,343.7 960.7,388.2 1023.0,365.9 1015.6,357.6 1123.4,275.9 1032.7,366.7 941.1,407.3 919.0,397.3 1001.0,343.1 950.6,393.0 1005.0,337.5 940.1,405.8 953.0,396.8 1052.9,340.4 978.9,397.7 1083.3,291.0 980.4,392.2 948.1,389.7 957.8,370.8 1052.9,328.6 1091.7,325.2 1036.5,314.2 956.8,408.6 1012.9,344.3 1007.1,343.6 970.4,386.4"/>
<polyline fill="none" stroke="none" marker-start="url(#dot1)" marker-mid="url(#dot1)" marker-end="url(#dot1)" points="917.0,403.6 963.1,396.5 924.2,397.9 894.4,433.3 893.0,434.1 902.2,413.2 932.1,400.9 938.0,395.8 917.6,400.7"/>
<polyline fill="none" stroke="none" marker-start="url(#dot2)" marker-mid="url(#dot2)" marker-end="url(#dot2)" points="914.5,420.0 918.9,413.7 907.3,426.0 914.4,413.1 911.0,418.7 928.3,399.4 911.2,414.1 902.3,416.0 905.6,425.9"/>
<polyline fill="none" stroke="none" marker-start="url(#dot3)" marker-mid="url(#dot3)" marker-end="url(#dot3)" points="896.1,426.0 906.2,418.3 908.0,423.7 896.4,426.8"/>
<polyline fill="none" stroke="none" marker-start="url(#dot)" marker-mid="url(#dot)" marker-end="url(#dot)" points="947.4,397.7 946.1,411.5 1075.0,334.1 969.2,356.1 982.4,375.3 945.6,391.9 972.8,365.6 954.1,375.8 966.5,404.9 1092.3,305.8 999.7,382.5 1034.0,365.6 959.3,389.3 1041.3,371.6 1121.9,302.7 1026.5,333.4 1086.7,320.4 979.4,397.2 956.9,385.3 927.2,390.1 965.3,370.2 1019.3,367.4 1008.8,350.3 1054.5,320.3 967.2,365.6 1010.8,347.6 968.7,376.6 981.7,376.5 1115.8,303.0 1013.4,369.4 944.5,394.3 988.1,365.2 996.6,375.2 1002.8,378.5 986.5,366.2 1080.2,322.2 949.6,414.4 943.4,408.4 934.5,407.2 1021.1,337.4 1087.3,296.3 982.8,384.6 933.3,410.8 1028.1,316.6 1073.0,304.1 994.5,394.1 1096.5,321.3 1017.6,376.4 1013.6,337.6 996.3,353.7 973.5,379.4 996.9,342.7 955.1,410.9 957.8,398.2 990.3,352.2 1079.8,321.9 1008.9,356.2 1009.4,343.3 1085.4,351.2 1060.2,319.7"/>
<polyline fill="none" stroke="none" marker-start="url(#dot1)" marker-mid="url(#dot1)" marker-end="url(#dot1)" points="922.6,398.3 919.3,402.1 900.8,415.1 969.0,400.1 959.8,396.6 971.7,397.8 936.3,386.9 925.3,393.4 907.6,409.9 935.8,397.1 934.4,394.9 931.8,388.4 921.4,401.9 941.5,399.3"/>
<polyline fill="none" stroke="none" marker-start="url(#dot2)" marker-mid="url(#dot2)" marker-end="url(#dot2)" points="894.1,428.8 917.9,414.3 909.1,416.2 918.2,420.4 921.2,418.0 912.1,421.1 898.4,421.8 928.9,400.8 909.5,415.1"/>
<polyline fill="none" stroke="none" marker-start="url(#dot3)" marker-mid="url(#dot3)" marker-end="url(#dot3)" points="900.4,422.5 907.9,424.0 903.9,417.6"/>
<polyline fill="none" stroke="none" marker-start="url(#dot)" marker-mid="url(#dot)" marker-end="url(#dot)" points="965.7,363.2 969.7,367.6 992.8,349.0 957.8,366.0 990.4,346.8 1044.4,382.4 1058.4,307.6 949.1,378.8 1077.7,339.3 949.5,412.3 992.1,353.0 906.2,407.9 1040.9,343.7 962.5,400.5 978.0,382.3 1074.8,319.1 990.8,389.3 1073.2,316.2 929.7,418.3 950.2,410.9 1005.7,334.7 956.8,396.2 939.5,376.3 959.7,365.7 990.8,380.2 955.4,410.0 1048.1,336.4 962.2,380.7 978.0,377.7 1057.8,319.3 1052.4,335.5 958.0,369.2 957.5,392.6 931.6,387.4 966.5,374.8 1080.6,306.9 1065.3,337.2 1112.0,277.0 934.8,410.6 977.8,394.7 975.1,396.6 1029.9,362.2 981.0,356.8 1029.1,357.7 951.2,379.8 1053.1,320.3 1140.3,258.3 969.9,402.7 1015.0,338.5 980.6,386.9 1079.9,324.1 1022.3,376.8 1119.0,304.7 973.9,373.8 1014.2,360.0 988.2,386.5 961.6,365.7"/>
<polyline fill="none" stroke="none" marker-start="url(#dot1)" marker-mid="url(#dot1)" marker-end="url(#dot1)" points="900.6,431.4 895.5,433.4 927.6,405.1 914.8,404.3 936.0,400.6 901.8,412.5 923.4,408.1 929.2,392.9 921.3,404.3 904.9,409.9"/>
<polyline fill="none" stroke="none" marker-start="url(#dot2)" marker-mid="url(#dot2)" marker-end="url(#dot2)" points="929.2,403.7 915.1,416.7 913.7,419.8 923.6,402.1 911.2,415.8 899.7,418.7 909.3,416.6 926.7,402.6 904.2,413.9 896.2,432.2 906.2,414.3"/>
<polyline fill="none" stroke="none" marker-start="url(#dot3)" marker-mid="url(#dot3)" marker-end="url(#dot3)" points="903.5,419.7 901.1,426.5 905.5,415.7 911.3,419.6 903.4,415.3 904.1,426.0 902.1,424.2 902.0,423.7 896.8,431.2"/>
<polyline fill="none" stroke="none" marker-start="url(#dot)" marker-mid="url(#dot)" marker-end="url(#dot)" points="1033.0,372.2 915.6,402.0 959.5,369.7 1153.4,274.0 950.2,405.8 1057.9,331.9 1092.6,321.9 991.6,357.7 959.3,381.6 1006.3,365.4 967.6,359.5 1058.9,345.9 1053.5,350.1 1097.9,325.3 1076.3,344.7 1015.2,348.0 922.5,428.6 956.4,410.7 950.7,377.3 968.5,398.1 945.9,389.3 1043.5,354.2 1017.6,361.7 974.3,370.7 1131.2,269.1 940.9,406.5 944.9,376.9 964.1,366.6 944.2,400.4 985.1,353.6 977.6,392.6 1009.6,363.3 1020.6,347.3 988.6,341.9 997.8,332.4 919.0,398.1 1086.5,337.6 1096.0,297.0 1005.7,347.3 988.0,350.7 952.4,395.4 1048.2,360.6 1012.6,358.4 964.5,406.1 928.1,423.2 982.9,379.9 968.3,395.2 981.7,401.0 968.6,365.4 971.2,375.1 928.7,419.3 1015.3,379.9 1022.2,360.3 1007.9,338.9 975.7,399.1 1120.9,285.0 1053.6,350.5 972.8,394.0 1066.9,308.2"/>
<polyline fill="none" stroke="none" marker-start="url(#dot1)" marker-mid="url(#dot1)" marker-end="url(#dot1)" points="940.9,398.8 905.8,408.4 935.1,406.3 945.9,399.8 946.4,397.2 943.2,387.0 971.4,398.0 929.8,401.0 930.4,397.1 915.8,409.2 932.0,414.8 912.5,425.8 913.2,425.6 917.4,422.3 932.4,399.4 917.7,424.8 913.8,412.3 893.6,433.3 930.7,389.9"/>
<polyline fill="none" stroke="none" marker-start="url(#dot2)" marker-mid="url(#dot2)" marker-end="url(#dot2)" points="917.2,417.1 914.5,418.5 907.2,411.3 911.0,424.5 893.5,430.4"/>
<polyline fill="none" stroke="none" marker-start="url(#dot3)" marker-mid="url(#dot3)" marker-end="url(#dot3)" points="909.7,416.2 896.0,428.2 915.8,416.7 910.6,421.1"/>
<polyline fill="none" stroke="none" marker-start="url(#dot)" marker-mid="url(#dot)" marker-end="url(#dot)" points="1051.5,314.4 952.5,384.6 1062.4,334.0 1026.7,322.6 1067.7,351.0 950.6,391.6 957.2,401.4 1091.0,318.4 1018.4,344.4 1041.1,344.2 933.2,411.6 1060.7,354.3 963.6,361.0 949.9,394.4 963.0,386.7 1034.2,309.1 968.8,387.3 1005.1,354.7 1051.5,327.9 986.4,387.1 1074.3,356.9 987.8,370.5 1030.5,377.4 948.1,409.4 983.4,381.6 945.7,383.3 939.7,387.1 965.8,397.6 971.5,408.6 1121.6,265.8 1001.3,375.1 1095.4,299.1 1063.9,340.4 912.4,404.3 943.8,391.3 968.3,404.7 956.9,368.3 972.9,387.8 937.6,384.9 1009.4,363.4 975.9,383.9 1099.6,274.8 1028.7,364.2 1006.1,332.3 990.0,390.2 977.8,368.5 1031.0,348.5 1033.8,362.0 955.5,410.1 982.5,365.2 984.2,395.0 1000.9,357.6 970.2,373.8 995.8,363.9 980.7,349.8 1005.4,378.4"/>
<polyline fill="none" stroke="none" marker-start="url(#dot1)" marker-mid="url(#dot1)" marker-end="url(#dot1)" points="931.7,412.3 922.4,396.5 930.3,403.7 938.8,394.1 919.5,402.4 928.3,392.5 932.2,400.1 929.4,413.6 929.7,411.5 923.5,398.2 934.1,411.5 924.7,396.9 948.0,384.8 894.9,433.7 927.2,411.1 914.7,424.5"/>
<polyline fill="none" stroke="none" marker-start="url(#dot2)" marker-mid="url(#dot2)" marker-end="url(#dot2)" points="908.6,416.0 915.4,422.9 911.2,424.5 909.1,426.3 924.1,404.2 923.1,402.2 916.4,422.6 913.8,415.3 900.7,418.8"/>
<polyline fill="none" stroke="none" marker-start="url(#dot3)" marker-mid="url(#dot3)" marker-end="url(#dot3)" points="896.9,431.0 897.5,429.9 895.0,429.4 902.9,421.0 905.4,424.4"/>
<polyline fill="none" stroke="none" marker-start="url(#dot)" marker-mid="url(#dot)" marker-end="url(#dot)" points="935.0,417.9 1085.6,281.0 1029.5,369.6 972.4,374.3 995.6,395.7 1107.4,278.4 1039.4,370.9 1018.8,376.9 927.3,388.8 1074.1,340.7 982.0,390.4 988.8,375.5 1024.8,326.6 1008.0,346.4 904.9,432.3 1059.3,341.1 938.3,405.6 1093.5,305.1 983.2,387.6 936.3,381.9 1134.9,264.0 1016.0,371.8 929.8,388.1 1065.7,339.0 1131.2,285.6 948.2,395.9 995.4,350.7 1012.8,363.0 1061.8,293.1 942.5,403.9 921.6,395.9 1068.0,295.8 1031.2,341.1 965.2,391.5 974.8,400.6 1041.3,356.8 1004.7,377.7 949.2,385.5 953.5,378.2 962.8,376.4 916.6,398.2 985.9,381.4 1078.4,296.1 941.0,416.0 1038.7,322.1 996.0,367.3 1087.8,296.9 910.4,405.6 1044.5,331.2 978.4,387.1 1004.8,354.1 1078.2,334.0 934.6,419.5 917.8,398.8 1014.8,346.1 1036.0,326.1 978.9,397.6 1056.6,321.7 919.7,428.3 1127.7,283.6 970.1,360.5 1040.6,330.6"/>
<polyline fill="none" stroke="none" marker-start="url(#dot1)" marker-mid="url(#dot1)" marker-end="url(#dot1)" points="902.8,432.0 945.2,398.6 920.7,419.1 903.2,431.1 919.8,405.8 916.8,413.5 951.2,398.9 927.8,395.1 908.7,408.5 922.2,398.4 936.2,393.0 935.2,390.0 945.3,399.6 949.3,398.3 935.6,395.1 933.7,389.6"/>
<polyline fill="none" stroke="none" marker-start="url(#dot2)" marker-mid="url(#dot2)" marker-end="url(#dot2)" points="912.2,418.9 908.5,412.2 900.3,420.3 923.4,400.4"/>
<polyline fill="none" stroke="none" marker-start="url(#dot3)" marker-mid="url(#dot3)" marker-end="url(#dot3)" points="902.1,425.9 896.8,429.4 909.8,420.3 911.9,420.0"/>
<polyline fill="none" stroke="none" marker-start="url(#dot4)" marker-mid="url(#dot4)" marker-end="url(#dot4)" points="899.8,427.4 899.8,427.4"/>
<polyline fill="none" stroke="none" marker-start="url(#dot)" marker-mid="url(#dot)" marker-end="url(#dot)" points="1034.4,374.9 979.5,383.1 1035.7,354.7 962.3,391.8 1057.7,365.1 978.0,366.2 982.9,383.8 954.6,374.6 959.7,404.8 979.6,392.5 1045.0,344.2 1001.0,400.7 1070.7,317.8 1006.3,367.7 1010.1,393.8 1065.5,295.2 1031.4,310.3 1146.0,259.9 1036.3,372.6 967.2,399.4 974.2,402.6 994.2,346.1 962.5,367.1 950.1,402.1 993.3,391.3 1083.9,327.4 1000.5,369.0 1053.9,330.3 983.9,381.2 956.9,409.8 1031.1,329.7 1021.7,358.4 948.4,401.4 978.3,392.3 938.5,380.1 940.1,414.2 1049.9,341.6 1041.8,354.3 1041.0,313.2 957.8,377.7 988.7,347.4 996.1,395.3 947.8,374.5 996.0,379.2 964.5,388.9 975.5,403.4 976.4,389.6 923.2,392.9 1013.0,348.2 920.5,396.6 962.4,394.0 1037.3,360.2 993.0,385.1 960.1,384.3 949.7,397.6 976.3,366.8 1099.8,300.5 1072.6,333.5 995.6,376.1 1055.5,300.5 933.6,418.9 966.2,405.9 1022.2,337.0 999.3,374.6 985.6,370.4 1004.1,381.5 937.7,413.2 970.5,385.8 941.7,385.4 1091.2,306.1"/>
<polyline fill="none" stroke="none" marker-start="url(#dot1)" marker-mid="url(#dot1)" marker-end="url(#dot1)" points="919.0,403.7 920.6,402.7 914.3,411.1 914.9,410.9 940.2,396.6 927.1,412.9 926.1,407.1"/>
<polyline fill="none" stroke="none" marker-start="url(#dot2)" marker-mid="url(#dot2)" marker-end="url(#dot2)" points="918.1,414.7 894.3,430.3 915.2,415.5 894.9,427.1 910.0,415.6 916.2,420.0"/>
<polyline fill="none" stroke="none" marker-start="url(#dot3)" marker-mid="url(#dot3)" marker-end="url(#dot3)" points="904.4,422.7 900.2,429.7 903.3,426.8 907.5,421.4"/>
<polyline fill="none" stroke="none" marker-start="url(#dot)" marker-mid="url(#dot)" marker-end="url(#dot)" points="1006.6,352.3 1028.9,335.2 1067.9,340.7 949.9,396.3 973.2,401.8 970.7,371.7 973.7,378.6 910.7,404.7 1046.9,321.9 955.4,373.1 972.2,406.8 1099.0,302.4 1002.3,384.9 982.3,358.4 992.5,335.0 974.1,398.9 947.8,386.1 979.5,374.6 937.7,384.7 991.7,374.5 1111.8,303.3 943.4,391.3 950.5,386.4 976.2,379.9 1004.9,352.8 976.9,394.3 1005.2,344.0 958.1,377.0 963.9,399.4 1018.9,337.6 1116.8,274.0 944.0,389.9 1046.6,330.5 939.4,412.6 1104.0,271.3 1032.2,357.4 1046.4,362.7 1096.0,324.4 1011.3,348.1 1000.0,352.4 1022.3,359.8 1013.1,364.0 993.6,368.5 1037.3,330.9 1026.3,340.7 922.2,423.9 988.9,351.3 1015.0,334.7 1066.9,341.5 1027.0,340.6 1069.0,345.4 993.2,331.9 958.3,369.0 969.6,368.8 987.8,371.6 940.1,389.1 989.1,390.2 1038.0,319.9"/>
<polyline fill="none" stroke="none" marker-start="url(#dot1)" marker-mid="url(#dot1)" marker-end="url(#dot1)" points="896.0,433.7 935.4,401.7 898.7,418.3 940.2,393.1 964.1,396.7 902.0,431.3 939.4,391.3 947.8,384.7 933.7,394.5 927.7,408.1 922.1,414.4 900.3,413.2 926.7,414.3 921.0,410.5"/>
<polyline fill="none" stroke="none" marker-start="url(#dot2)" marker-mid="url(#dot2)" marker-end="url(#dot2)" points="895.1,432.0 930.7,398.7 931.3,398.0 894.6,431.8 916.7,421.5 899.8,420.9 908.5,417.7"/>
<polyline fill="none" stroke="none" marker-start="url(#dot3)" marker-mid="url(#dot3)" marker-end="url(#dot3)" points="899.5,424.0 896.6,426.2 907.7,423.4 897.7,431.5 902.6,419.0 904.0,424.8 911.4,419.9"/>
<polyline fill="none" stroke="none" marker-start="url(#dot)" marker-mid="url(#dot)" marker-end="url(#dot)" points="1045.5,323.1 950.7,414.9 998.6,386.0 996.9,350.6 943.9,414.0 950.2,384.4 1080.7,286.3 1027.4,377.2 1016.9,329.0 1014.8,352.8 1042.7,369.8 950.1,387.3 969.6,393.5 968.0,362.3 963.3,374.4 1093.4,276.6 1116.1,295.6 995.5,367.7 1002.8,339.5 980.7,386.7 982.8,370.9 1113.1,299.7 1026.7,361.5 1053.5,340.4 976.9,363.3 1054.5,342.5 981.5,368.7 1072.0,319.8 1023.8,360.3 978.8,369.8 1022.0,344.7 1003.0,366.6 964.4,392.8 1002.6,354.0 962.7,402.6 1091.9,316.1 968.0,374.7 944.5,380.5 968.3,388.8 1069.8,313.5 983.7,380.4 1047.1,331.4 1026.0,346.8 992.5,339.8 977.0,391.8 907.9,431.3 1046.2,349.3 967.7,397.7 1004.3,355.5 961.4,362.6 1053.8,353.9 1070.4,334.9 998.2,391.4 968.6,369.5 951.6,412.0 1035.2,357.2"/>
<polyline fill="none" stroke="none" marker-start="url(#dot1)" marker-mid="url(#dot1)" marker-end="url(#dot1)" points="911.9,427.1 946.7,397.4 920.9,397.7 938.2,388.5 936.4,386.8 928.5,393.9 916.2,408.1 922.2,406.7 945.2,395.8 900.0,414.5 924.3,419.6 933.4,391.9"/>
<polyline fill="none" stroke="none" marker-start="url(#dot2)" marker-mid="url(#dot2)" marker-end="url(#dot2)" points="903.8,413.9 893.9,430.5 927.8,403.0 918.9,416.9 897.3,422.7 920.5,413.6 905.0,426.7 898.4,422.3 911.0,418.3 912.2,423.8 924.1,402.5 893.8,430.1"/>
<polyline fill="none" stroke="none" marker-start="url(#dot3)" marker-mid="url(#dot3)" marker-end="url(#dot3)" points="910.1,422.5 900.0,424.6 905.5,417.6 901.8,423.1 897.1,426.7 895.1,428.2 907.0,423.6"/>
<polyline fill="none" stroke="none" marker-start="url(#dot)" marker-mid="url(#dot)" marker-end="url(#dot)" points="995.6,365.0 996.5,376.1 947.3,405.5 995.2,364.6 984.1,371.1 1066.5,307.1 947.9,386.7 983.8,372.6 1042.6,368.0 988.5,374.9 1024.3,369.5 945.2,384.2 936.4,382.6 1025.3,385.1 964.9,378.2 1045.2,343.0 998.0,387.0 1034.0,381.9 994.1,344.2 996.1,348.8 960.5,392.1 1095.0,292.9 968.9,361.9 921.8,425.0 975.6,386.7 999.6,379.3 1046.8,371.1 936.3,413.1 974.1,367.8 1102.4,308.4 1021.4,348.5 960.1,401.8 1047.7,304.3 979.5,383.7 1012.2,342.5 1035.0,328.1 1045.7,338.7 1005.8,352.5 957.9,395.1 992.2,394.9 962.4,391.1 971.9,392.1 1050.3,312.9 977.2,394.9 991.9,379.5 923.4,421.9 942.7,408.8 991.5,346.2 980.5,398.7 1132.4,275.4 1124.5,293.6 1049.3,367.5"/>
<polyline fill="none" stroke="none" marker-start="url(#dot1)" marker-mid="url(#dot1)" marker-end="url(#dot1)" points="932.2,401.5 919.1,423.4 928.7,402.2 924.3,418.0 925.0,393.2 905.7,409.0 932.7,404.3 938.5,399.5 931.6,408.2 925.0,415.2 923.2,409.4 913.6,408.6 937.7,402.6 932.6,389.0 939.5,389.3 893.2,432.8 936.2,402.2 933.8,403.8 902.4,431.1 898.3,418.2 929.4,393.1 936.1,393.4 919.2,402.8"/>
<polyline fill="none" stroke="none" marker-start="url(#dot2)" marker-mid="url(#dot2)" marker-end="url(#dot2)" points="895.9,431.3 910.5,417.5 927.2,406.4 915.3,422.0 912.5,421.2 918.6,417.9 920.2,416.4 918.1,413.6 911.8,419.7"/>
<polyline fill="none" stroke="none" marker-start="url(#dot3)" marker-mid="url(#dot3)" marker-end="url(#dot3)" points="901.9,422.6 901.7,422.6 899.4,423.8"/>
<polyline fill="none" stroke="none" marker-start="url(#dot)" marker-mid="url(#dot)" marker-end="url(#dot)" points="939.2,384.5 948.6,404.9 1035.0,377.3 990.8,358.3 976.2,390.7 946.6,380.7 1082.1,292.1 928.4,423.9 1035.7,373.2 911.4,405.1 975.4,354.9 1134.5,270.5 981.7,388.2 1122.7,277.5 1047.9,328.8 1053.2,357.3 988.1,392.3 1136.0,274.4 1001.0,334.5 1065.3,338.0 991.6,356.0 936.8,404.6 968.6,397.8 929.5,386.8 967.2,392.4 1039.3,367.7 987.5,364.1 939.4,409.9 903.7,407.4 950.9,386.6 1001.2,338.6 1097.7,317.9 1013.7,346.4 955.9,376.8 954.7,392.9 945.3,379.3 1129.3,282.2 1092.0,325.5 992.4,393.2 1046.5,333.1 1063.0,358.2 958.0,384.6 1039.0,341.7 1037.6,338.2 927.0,385.9 922.4,395.6 1005.2,358.0 963.2,408.1 1098.9,331.2 1041.2,318.3 1082.3,298.6 948.0,388.9 942.6,414.3 1033.6,339.0 1049.7,357.3 972.2,358.6 948.4,380.4 1072.5,323.3 1010.0,328.8 1037.5,354.3"/>
<polyline fill="none" stroke="none" marker-start="url(#dot1)" marker-mid="url(#dot1)" marker-end="url(#dot1)" points="920.8,408.6 902.8,431.3 936.3,392.2 927.2,409.2 899.4,417.1 920.1,402.1 941.5,401.3 927.8,412.0 898.8,434.5 943.3,397.1 912.5,408.5 924.6,406.8 909.1,427.9 909.4,428.0 924.9,414.3"/>
<polyline fill="none" stroke="none" marker-start="url(#dot2)" marker-mid="url(#dot2)" marker-end="url(#dot2)" points="906.4,412.6 906.6,416.0 907.0,427.1 899.5,419.2 913.4,413.2 918.2,412.6"/>
<polyline fill="none" stroke="none" marker-start="url(#dot3)" marker-mid="url(#dot3)" marker-end="url(#dot3)" points="905.0,421.1 905.3,419.8 903.9,422.8 904.8,415.1 906.2,419.4"/>
<polyline fill="none" stroke="none" marker-start="url(#dot)" marker-mid="url(#dot)" marker-end="url(#dot)" points="1034.3,359.4 1046.4,351.8 967.5,394.5 1040.8,363.1 963.1,405.0 928.0,387.9 1012.0,383.6 1007.6,368.3 1117.8,316.3 1049.2,323.7 986.9,376.2 999.2,392.2 966.4,379.6 932.8,386.0 995.6,349.0 1093.2,274.3 973.6,396.0 997.9,353.2 1036.7,368.8 1074.4,336.8 935.3,415.5 1046.1,319.7 973.4,380.1 951.9,382.5 1037.7,367.0 986.8,388.2 1046.4,368.2 994.5,370.9 1119.3,298.9 944.7,381.0 1156.5,258.3 943.7,382.4 940.7,377.9 1089.6,318.1 1029.4,325.6 1031.2,354.9 1124.3,296.6 1124.7,279.1 986.5,367.2 1009.2,342.6 1016.3,350.7 974.4,348.0 1082.5,287.5 943.9,415.8 956.8,400.5 993.1,365.2 962.8,379.2 968.9,406.1 1017.1,324.0 915.3,426.9 974.3,402.1 1006.8,371.7 1072.7,325.8 932.8,418.3 1039.3,340.4 940.1,418.0 991.9,355.3 988.7,346.5 991.1,351.7 981.5,386.0 990.8,368.6 1125.0,300.6 964.1,374.0 1096.5,284.7 994.7,354.5"/>
<polyline fill="none" stroke="none" marker-start="url(#dot1)" marker-mid="url(#dot1)" marker-end="url(#dot1)" points="928.9,396.1 908.6,428.5 923.8,416.3 923.1,409.6 901.4,412.9 920.4,407.7 936.9,392.4 915.3,412.9 926.4,414.0 921.4,420.2 905.4,429.8 900.1,413.6"/>
<polyline fill="none" stroke="none" marker-start="url(#dot2)" marker-mid="url(#dot2)" marker-end="url(#dot2)" points="913.2,422.3 913.8,420.1 933.4,395.7 917.5,421.7 918.3,414.2 928.2,403.8 927.2,400.4 903.5,414.0 932.5,399.0"/>
<polyline fill="none" stroke="none" marker-start="url(#dot3)" marker-mid="url(#dot3)" marker-end="url(#dot3)" points="903.3,422.4 903.3,422.4"/>
<polyline fill="none" stroke="none" marker-start="url(#dot)" marker-mid="url(#dot)" marker-end="url(#dot)" points="1071.1,303.9 950.9,408.9 946.3,394.7 1020.6,348.7 1063.1,327.5 1124.4,285.3 986.0,363.9 971.1,376.5 1063.1,352.9 975.0,397.5 1001.5,386.6 970.8,400.8 979.6,369.9 1141.1,279.6 1116.1,310.6 982.0,385.5 944.5,376.8 1007.3,386.9 994.5,379.2 959.1,401.2 987.7,345.2 1059.4,294.9 1014.7,364.8 989.0,388.2 1095.1,301.8 1027.7,332.0 1043.5,356.0 957.6,402.6 1114.0,303.8 1111.2,311.7 1080.3,342.9 980.7,371.5 1031.1,386.4 982.5,363.5 967.3,406.7 1090.4,296.4 953.3,395.1 968.5,394.0 973.2,354.8 969.7,397.0 950.4,403.6 973.8,394.5 995.1,356.3 970.4,375.1 1055.1,331.9 945.5,383.3 941.0,407.7 970.1,362.1 957.8,380.5 941.0,392.1 1014.1,370.7 1103.8,307.9 1054.1,314.0 1015.3,370.3 911.4,406.2 939.8,415.9 1000.3,351.7"/>
<polyline fill="none" stroke="none" marker-start="url(#dot1)" marker-mid="url(#dot1)" marker-end="url(#dot1)" points="893.6,432.3 905.4,429.6 905.9,408.3 916.9,408.5 912.3,406.7 916.8,406.3 908.4,427.6 938.7,393.2 937.9,392.2 899.0,417.5 929.5,413.8 933.0,388.7 916.5,405.9 932.7,390.6 914.5,425.8 922.7,418.4 934.7,387.6 915.5,410.6"/>
<polyline fill="none" stroke="none" marker-start="url(#dot2)" marker-mid="url(#dot2)" marker-end="url(#dot2)" points="908.0,412.1 915.8,414.8 931.0,399.8 915.1,413.5 897.4,432.5 902.3,414.4 894.1,430.4"/>
<polyline fill="none" stroke="none" marker-start="url(#dot3)" marker-mid="url(#dot3)" marker-end="url(#dot3)" points="910.9,421.3 898.5,431.6 907.7,424.2 899.2,424.7"/>
<polyline fill="none" stroke="none" marker-start="url(#dot4)" marker-mid="url(#dot4)" marker-end="url(#dot4)" points="903.8,421.0 903.8,421.0"/>
<polyline fill="none" stroke="none" marker-start="url(#dot)" marker-mid="url(#dot)" marker-end="url(#dot)" points="947.3,376.3 919.8,424.4 1021.6,355.1 1008.8,353.3 988.7,365.3 1037.5,307.7 1078.6,347.6 951.9,388.6 962.4,372.2 968.4,396.6 1004.9,369.3 990.6,370.5 953.1,368.4 945.1,384.4 1016.0,352.5 933.8,420.0 1055.7,357.9 986.6,355.6 998.6,370.6 1020.3,349.2 1093.7,311.4 989.6,348.2 1013.4,329.4 1061.2,354.2 955.9,378.7 1158.2,264.6 1048.6,363.5 932.6,408.3 977.9,385.2 1012.8,344.7 926.0,422.2 1037.2,317.0 1023.3,355.8 1108.7,299.0 952.0,404.9 1007.1,347.7 992.3,360.8 1024.2,353.6 1057.1,326.4 1101.2,276.4 960.2,387.0 1015.8,338.9 989.9,370.7 950.7,366.7 1146.2,271.0 1000.2,369.5 961.6,401.5 938.6,416.0 1080.8,313.1 1004.1,363.0 967.8,381.8 1104.2,291.6 969.0,366.7 952.5,369.4 1089.2,305.6 1048.7,367.0 964.4,361.8 965.9,379.3 959.9,401.4 948.7,383.1 1124.1,268.2"/>
<polyline fill="none" stroke="none" marker-start="url(#dot1)" marker-mid="url(#dot1)" marker-end="url(#dot1)" points="921.5,412.7 932.9,401.0 912.4,407.2 905.0,409.5 914.6,409.4 901.0,413.4 930.6,414.2 929.5,399.5 901.5,431.8 904.5,411.6 929.7,393.6 905.4,409.2 916.1,425.0 922.4,416.9 902.7,410.9 934.3,403.4"/>
<polyline fill="none" stroke="none" marker-start="url(#dot2)" marker-mid="url(#dot2)" marker-end="url(#dot2)" points="917.5,415.3 912.2,418.3 907.3,411.2 894.4,430.8"/>
<polyline fill="none" stroke="none" marker-start="url(#dot3)" marker-mid="url(#dot3)" marker-end="url(#dot3)" points="907.3,419.2 898.1,431.8 899.1,425.8 903.3,420.7 897.9,430.7"/>
<polyline fill="none" stroke="none" marker-start="url(#dot)" marker-mid="url(#dot)" marker-end="url(#dot)" points="1017.7,349.1 992.8,362.1 987.0,373.8 972.2,369.6 956.5,400.8 1050.3,318.3 1016.2,364.9 961.6,375.7 997.6,366.1 1139.8,261.3 1030.4,353.8 947.1,414.6 994.9,344.1 933.7,383.1 1086.6,295.0 989.9,367.9 925.6,391.7 984.9,370.4 988.1,355.5 955.9,405.6 1061.2,308.5 985.6,367.6 1016.7,326.1 1007.6,378.0 956.0,398.0 957.8,383.3 944.9,408.7 994.5,356.5 995.1,391.1 979.2,376.8 1100.5,329.0 1014.1,385.5 1028.7,381.7 1050.6,361.6 1157.8,268.7 1088.1,287.6 1093.8,309.4 986.9,359.7 1131.2,266.3 946.8,413.0 928.7,417.1 942.3,383.0 1122.1,308.6 961.5,386.8 966.2,398.6 982.5,384.0 909.6,406.0 976.4,387.7 969.5,367.4 1045.9,317.9 973.6,401.6 915.5,401.1 1059.1,297.7 974.1,359.2 985.7,366.1"/>
<polyline fill="none" stroke="none" marker-start="url(#dot1)" marker-mid="url(#dot1)" marker-end="url(#dot1)" points="936.8,398.4 948.3,394.6 925.1,398.4 925.8,414.7 943.9,402.4 920.1,407.5 926.6,410.1 931.2,393.2 903.3,410.9 922.2,404.0 922.1,401.1 922.0,401.9 935.6,405.8 905.3,429.0 934.6,390.2 903.4,410.7"/>
<polyline fill="none" stroke="none" marker-start="url(#dot2)" marker-mid="url(#dot2)" marker-end="url(#dot2)" points="918.9,412.7 914.1,413.7 894.3,426.7 898.3,432.3 924.9,400.0 911.0,425.1 932.3,399.2 909.4,413.8 921.2,417.8 896.1,424.5 910.6,416.7 901.1,430.9"/>
<polyline fill="none" stroke="none" marker-start="url(#dot3)" marker-mid="url(#dot3)" marker-end="url(#dot3)" points="906.7,424.5 902.0,419.7 899.3,422.1"/>
<polyline fill="none" stroke="none" marker-start="url(#dot4)" marker-mid="url(#dot4)" marker-end="url(#dot4)" points="898.0,429.6 898.0,429.6"/>
<polyline fill="none" stroke="none" marker-start="url(#dot)" marker-mid="url(#dot)" marker-end="url(#dot)" points="939.1,408.8 938.0,381.1 1020.3,349.5 939.4,412.7 986.5,353.5 931.9,386.2 1088.8,282.9 1112.4,272.7 1088.4,311.6 1059.5,332.5 1040.0,361.8 948.2,393.8 991.9,385.3 945.2,411.4 1037.5,322.4 1033.1,348.7 1050.1,317.7 1006.0,378.5 990.3,350.9 1044.6,351.1 959.7,386.4 942.8,379.6 972.8,382.0 1058.5,310.2 1126.1,283.7 956.0,370.8 958.1,388.4 952.8,407.6 935.8,380.3 1017.7,331.5 1139.1,278.7 1011.6,378.7 1024.2,320.8 1070.8,313.9 1026.7,349.2 963.5,398.8 963.3,361.7 971.0,357.2 950.3,394.6 990.1,356.1 1042.3,350.0 1004.4,379.6 944.0,376.9 1023.1,365.2 915.6,399.7 956.9,364.9 1008.0,371.5 992.1,388.4 995.2,352.0 1018.0,340.8 955.9,386.6 1098.2,289.1 959.8,383.5 959.6,407.4 934.1,413.7 1009.0,329.8 1042.4,320.6 945.4,388.3 1035.8,344.4"/>
<polyline fill="none" stroke="none" marker-start="url(#dot1)" marker-mid="url(#dot1)" marker-end="url(#dot1)" points="921.0,397.3 946.1,400.3 915.0,411.2 902.5,410.4 962.7,396.3 934.4,392.2 924.9,394.3 915.1,424.4 927.7,405.5 931.2,408.7 936.7,410.6 942.8,394.1"/>
<polyline fill="none" stroke="none" marker-start="url(#dot2)" marker-mid="url(#dot2)" marker-end="url(#dot2)" points="901.1,417.0 913.6,420.9 900.1,418.8 914.1,422.6 917.9,414.1 899.4,418.7 900.2,419.7 909.6,415.5 919.0,411.7 911.0,416.4"/>
<polyline fill="none" stroke="none" marker-start="url(#dot3)" marker-mid="url(#dot3)" marker-end="url(#dot3)" points="902.4,421.6 894.9,428.7 907.9,422.1 904.7,423.5 907.0,424.2"/>
<polyline fill="none" stroke="none" marker-start="url(#dot4)" marker-mid="url(#dot4)" marker-end="url(#dot4)" points="900.3,426.8 900.3,426.8"/>
<polyline fill="none" stroke="none" marker-start="url(#dot)" marker-mid="url(#dot)" marker-end="url(#dot)" points="894.4,434.7 1090.1,269.6 1115.8,268.9 1126.1,260.5 1137.7,259.2 1136.5,254.7 1148.3,251.6 1148.3,265.6 1155.2,267.1 1158.4,274.6 1156.5,281.2 1177.7,260.5 1184.9,250.7 1188.0,250.2 1182.8,242.5 1200.8,233.8 1215.1,248.4 1384.3,118.2"/>
</svg>
<text x="885.19" y="488.44" font-size="29.40" textLength="14.72" lengthAdjust="spacingAndGlyphs" fill="#262626">0</text>
<text x="961.59" y="488.44" font-size="29.40" textLength="44.15" lengthAdjust="spacingAndGlyphs" fill="#262626">500</text>
<text x="1044.86" y="488.44" font-size="29.40" textLength="58.87" lengthAdjust="spacingAndGlyphs" fill="#262626"> 000</text>
<text x="1135.94" y="488.44" font-size="29.40" textLength="58.87" lengthAdjust="spacingAndGlyphs" fill="#262626"> 500</text>
<text x="1227.42" y="488.44" font-size="29.40" textLength="58.87" lengthAdjust="spacingAndGlyphs" fill="#262626">2000</text>
<text x="1318.50" y="488.44" font-size="29.40" textLength="58.87" lengthAdjust="spacingAndGlyphs" fill="#262626">2500</text>
<text x="838.24" y="447.94" font-size="29.40" textLength="14.72" lengthAdjust="spacingAndGlyphs" fill="#262626">0</text>
<text x="808.87" y="367.44" font-size="29.40" textLength="44.15" lengthAdjust="spacingAndGlyphs" fill="#262626">500</text>
<text x="794.32" y="286.94" font-size="29.40" textLength="58.87" lengthAdjust="spacingAndGlyphs" fill="#262626"> 000</text>
<text x="794.32" y="206.44" font-size="29.40" textLength="58.87" lengthAdjust="spacingAndGlyphs" fill="#262626"> 500</text>
<text x="794.32" y="125.94" font-size="29.40" textLength="58.87" lengthAdjust="spacingAndGlyphs" fill="#262626">2000</text>
<text x="1100.16" y="520.30" font-size="28.84" textLength="73.21" lengthAdjust="spacingAndGlyphs" fill="#262626">REP </text>
<text transform="rotate(-90)" x="-319.04" y="783.60" font-size="30.57" textLength="76.47" lengthAdjust="spacingAndGlyphs" fill="#262626">REP2</text>
<text x="921.53" y="137.80" font-size="30.0" textLength="107.69" lengthAdjust="spacingAndGlyphs" fill="#262626">ρ = 0.95</text>
<rect x="868.5" y="574.4" width="539.5" height="349.4" fill="#eaeaf2"/>
<path d="M892.7 574.4V923.8M1016.6 574.4V923.8M1140.5 574.4V923.8M1264.4 574.4V923.8M1388.3 574.4V923.8M868.5 909.6H1408M868.5 838.1H1408M868.5 766.6H1408M868.5 695.1H1408M868.5 623.6H1408" stroke="#fff" stroke-width="1.7" fill="none"/>
<svg x="868.5" y="574.4" width="539.5" height="349.4" viewBox="868.5 574.4 539.5 349.4" overflow="hidden">
<polyline fill="none" stroke="none" marker-start="url(#dot)" marker-mid="url(#dot)" marker-end="url(#dot)" points="934.8,895.3 1007.9,810.7 932.1,895.1 1012.6,858.3 1005.2,828.7 929.4,896.3 934.9,876.1 956.3,873.8 920.8,901.0 921.8,865.5 1031.7,837.0 1070.8,830.3 1019.7,805.5 987.0,853.5 937.2,878.3 1035.3,808.7 989.8,853.1 1042.4,829.6 1101.4,779.2 1006.4,811.7 980.7,850.1 1077.7,761.1 1002.1,868.3 964.2,870.0 977.7,849.0 957.6,852.1 1065.4,785.8 1078.9,763.3 921.0,870.3 956.5,870.9 1114.4,768.8 1027.9,789.8 992.3,849.0 987.8,810.6 916.4,874.3 1079.8,788.0 1085.1,805.3 1033.5,785.5 977.4,842.3 994.8,813.6 908.6,906.0 1063.9,801.3 1035.6,829.5 1002.9,846.1 1026.5,834.2 992.4,867.8 991.6,854.4 937.8,875.1 955.0,848.5 969.6,850.9 989.9,832.2 1064.2,796.1 1122.8,769.5 1094.7,765.9 962.7,849.9 947.0,881.9 1010.3,841.4 1013.7,824.6 941.5,876.4 959.4,858.9"/>
<polyline fill="none" stroke="none" marker-start="url(#dot1)" marker-mid="url(#dot1)" marker-end="url(#dot1)" points="922.8,879.0 920.5,882.5 921.5,895.3 930.0,873.4 922.6,896.5 942.4,868.3 933.2,860.2 949.8,855.5 919.1,882.6 953.0,865.6 943.6,866.7 909.6,884.9"/>
<polyline fill="none" stroke="none" marker-start="url(#dot2)" marker-mid="url(#dot2)" marker-end="url(#dot2)" points="902.2,896.6 915.2,891.2 913.4,894.1 893.3,907.0 910.7,894.5"/>
<polyline fill="none" stroke="none" marker-start="url(#dot3)" marker-mid="url(#dot3)" marker-end="url(#dot3)" points="894.0,905.9 893.5,905.3 895.7,906.9 893.4,903.6 893.6,904.7 901.3,897.9"/>
<polyline fill="none" stroke="none" marker-start="url(#dot4)" marker-mid="url(#dot4)" marker-end="url(#dot4)" points="903.2,899.3 901.4,903.0 898.3,905.8"/>
<polyline fill="none" stroke="none" marker-start="url(#dot)" marker-mid="url(#dot)" marker-end="url(#dot)" points="1012.6,822.2 1126.2,756.2 1013.4,795.2 963.8,886.9 988.7,831.2 946.4,869.4 1156.1,751.4 1014.8,832.9 1023.0,811.0 1125.3,751.5 929.1,855.4 1053.4,820.8 979.2,845.0 991.7,829.8 1016.1,790.9 1050.8,827.2 1014.7,847.7 1024.9,827.5 1122.5,787.3 1028.2,801.6 940.6,847.3 979.9,853.8 969.1,876.8 1047.0,841.2 950.1,875.8 1036.0,809.5 922.3,865.2 998.1,823.1 968.7,843.0 967.9,877.9 976.7,853.3 1022.2,788.2 933.0,891.2 1027.7,783.4 1036.8,803.2 916.3,900.1 963.0,871.3 1069.9,830.9 929.7,897.7 986.4,813.1 976.1,872.6 952.0,849.2 1023.9,787.3 990.8,867.5 967.2,847.5 946.4,868.8 929.2,887.8 960.0,843.2 971.4,825.5 955.4,873.7 1060.5,769.6 972.7,858.4 957.6,841.4 953.6,875.0 983.7,843.1 1021.7,813.0 987.3,855.4 1046.4,822.8 957.5,883.2 1000.3,823.9 1013.3,844.2 996.9,859.7 935.8,855.7"/>
<polyline fill="none" stroke="none" marker-start="url(#dot1)" marker-mid="url(#dot1)" marker-end="url(#dot1)" points="937.3,870.0 955.3,861.6 926.6,893.7 931.9,874.2 935.8,866.9 952.7,860.4 951.3,855.2 913.8,897.4 903.1,892.9 920.1,882.1 945.7,859.8 924.1,887.0 935.5,861.9 939.5,870.5 914.5,882.8 908.5,887.0"/>
<polyline fill="none" stroke="none" marker-start="url(#dot2)" marker-mid="url(#dot2)" marker-end="url(#dot2)" points="903.0,894.5 912.4,885.7"/>
<polyline fill="none" stroke="none" marker-start="url(#dot3)" marker-mid="url(#dot3)" marker-end="url(#dot3)" points="904.3,901.8 899.5,899.3"/>
<polyline fill="none" stroke="none" marker-start="url(#dot4)" marker-mid="url(#dot4)" marker-end="url(#dot4)" points="897.7,905.3 896.0,903.1 894.6,902.9 896.7,904.3"/>
<polyline fill="none" stroke="none" marker-start="url(#dot)" marker-mid="url(#dot)" marker-end="url(#dot)" points="975.8,839.2 980.1,830.4 1134.9,733.3 990.9,844.9 981.3,821.1 966.8,856.0 1056.5,822.0 984.2,866.8 928.5,859.4 1022.7,814.4 1066.7,821.7 1020.9,855.3 993.0,822.2 1038.9,798.3 1032.3,797.7 1125.7,782.7 944.6,874.7 977.5,844.2 1006.1,812.8 966.0,832.4 992.9,853.9 970.4,864.3 1020.5,849.0 979.8,837.3 1101.4,791.3 1006.6,808.8 1008.9,815.0 1017.0,837.6 1007.7,809.7 961.6,873.7 915.7,901.5 999.1,836.2 1002.0,845.6 1045.1,811.3 967.9,836.5 990.0,845.4 1104.6,778.7 942.9,874.3 996.2,857.6 1050.4,781.3 990.4,863.0 1010.5,843.1 978.5,811.8 995.4,845.9 1013.1,833.9 1111.6,750.4 972.0,853.7 952.7,854.7 1065.9,800.5 951.7,887.5 936.3,895.5 952.2,881.6 1029.2,833.3 929.3,885.2 1091.6,811.7 1079.0,813.4 1064.9,805.8 952.0,876.9 946.7,866.4 908.4,883.6"/>
<polyline fill="none" stroke="none" marker-start="url(#dot1)" marker-mid="url(#dot1)" marker-end="url(#dot1)" points="934.5,872.1 943.5,883.5 921.2,888.3 937.6,869.7 926.2,871.2 918.0,883.4 954.0,866.4 937.3,883.0 946.7,863.2 918.1,896.0 925.8,895.9 950.4,867.0 914.2,881.8 934.1,861.9"/>
<polyline fill="none" stroke="none" marker-start="url(#dot2)" marker-mid="url(#dot2)" marker-end="url(#dot2)" points="913.7,890.8 908.7,898.7 902.7,904.9 908.5,900.7 912.4,890.0 909.0,887.5"/>
<polyline fill="none" stroke="none" marker-start="url(#dot3)" marker-mid="url(#dot3)" marker-end="url(#dot3)" points="902.2,903.1 894.2,906.6 893.6,906.0 902.1,897.0 901.4,897.2"/>
<polyline fill="none" stroke="none" marker-start="url(#dot4)" marker-mid="url(#dot4)" marker-end="url(#dot4)" points="895.3,903.6 894.7,905.0"/>
<polyline fill="none" stroke="none" marker-start="url(#dot)" marker-mid="url(#dot)" marker-end="url(#dot)" points="961.8,875.8 954.9,866.6 943.2,852.6 1112.4,787.8 1016.6,832.0 951.1,847.7 936.6,882.6 1071.9,810.7 1016.1,815.1 1043.3,798.8 941.5,849.8 959.8,880.2 1113.2,785.7 910.7,904.0 951.9,840.6 970.5,829.6 962.0,878.4 933.5,888.8 1138.1,767.5 1070.2,765.9 1038.1,804.8 963.8,849.4 1056.7,814.7 1086.2,771.0 1112.9,769.9 950.9,888.5 924.7,862.9 993.6,865.1 946.2,866.0 956.6,876.3 1063.8,806.1 1037.8,818.7 962.3,841.0 1150.9,761.9 994.9,808.5 1029.8,783.9 935.9,852.9 1052.5,823.9 966.8,829.5 1012.9,811.0 1004.1,843.7 1069.3,785.2 1003.9,812.8 973.5,834.3 1021.2,818.5 937.3,887.7 979.7,836.0 1001.5,807.9 947.0,866.5 1071.7,761.3 1107.2,747.2 1086.3,812.7 969.9,828.3 943.8,895.1 956.8,880.4 998.3,862.1 1115.4,773.7 1022.0,847.7 993.4,840.7 1041.2,810.2"/>
<polyline fill="none" stroke="none" marker-start="url(#dot1)" marker-mid="url(#dot1)" marker-end="url(#dot1)" points="931.7,862.7 942.4,884.9 920.8,887.8 946.8,859.2 920.6,888.4 926.6,880.9 932.2,869.9 924.8,880.0 951.0,861.5 917.9,895.6 942.2,884.9 915.8,877.2 921.8,881.9 949.6,857.6 925.6,868.0 906.2,904.2 935.4,863.5 936.4,866.8 926.2,867.3 954.6,860.0"/>
<polyline fill="none" stroke="none" marker-start="url(#dot2)" marker-mid="url(#dot2)" marker-end="url(#dot2)" points="912.2,890.7 912.2,890.7"/>
<polyline fill="none" stroke="none" marker-start="url(#dot3)" marker-mid="url(#dot3)" marker-end="url(#dot3)" points="906.5,897.4 901.9,898.1"/>
<polyline fill="none" stroke="none" marker-start="url(#dot4)" marker-mid="url(#dot4)" marker-end="url(#dot4)" points="895.8,903.5 900.3,901.6 896.3,903.7"/>
<polyline fill="none" stroke="none" marker-start="url(#dot)" marker-mid="url(#dot)" marker-end="url(#dot)" points="923.3,900.1 907.3,882.9 1111.5,764.2 995.1,842.4 966.0,873.5 961.1,833.8 1045.1,803.5 1024.2,823.3 962.6,852.1 936.6,875.2 943.5,870.0 1005.9,803.8 965.1,834.5 989.6,868.2 968.6,863.8 1148.2,738.3 1095.6,763.3 1044.8,784.9 934.4,891.5 963.2,852.5 979.9,858.0 934.2,893.8 1093.2,750.7 1106.5,758.9 956.7,881.4 953.5,845.2 1057.0,792.7 953.7,852.2 1131.1,755.1 947.0,852.2 998.0,801.5 984.0,853.6 1036.7,841.3 969.2,878.8 922.9,868.8 1028.3,849.0 1020.7,819.3 985.2,863.5 1018.8,847.0 1116.9,746.0 1024.4,839.9 1034.5,828.3 924.2,866.5 1056.6,800.3 1011.8,804.2 957.9,882.5 1033.9,821.4 983.5,844.2 947.8,883.2 988.3,839.5 980.3,818.3 1004.0,819.8 1013.8,828.3 1024.0,785.4 1007.9,861.6 1036.9,827.1 1139.5,757.8 1033.1,789.7 949.8,877.6"/>
<polyline fill="none" stroke="none" marker-start="url(#dot1)" marker-mid="url(#dot1)" marker-end="url(#dot1)" points="922.8,872.1 933.8,864.1 950.2,856.7 948.8,864.9 925.3,885.1 937.0,861.1 920.5,882.1 928.7,866.9 936.9,860.5 955.3,858.1 918.6,882.8 925.0,888.7 952.0,862.3 925.4,881.3 953.7,866.7"/>
<polyline fill="none" stroke="none" marker-start="url(#dot2)" marker-mid="url(#dot2)" marker-end="url(#dot2)" points="912.4,896.4 904.0,903.4 910.5,896.4"/>
<polyline fill="none" stroke="none" marker-start="url(#dot3)" marker-mid="url(#dot3)" marker-end="url(#dot3)" points="907.6,899.2 909.9,893.4 893.4,905.0 893.0,906.3 898.6,899.1 894.5,906.9 895.6,900.1"/>
<polyline fill="none" stroke="none" marker-start="url(#dot4)" marker-mid="url(#dot4)" marker-end="url(#dot4)" points="898.4,904.1 901.6,902.4 899.1,899.4"/>
<polyline fill="none" stroke="none" marker-start="url(#dot)" marker-mid="url(#dot)" marker-end="url(#dot)" points="966.3,862.9 1019.5,840.3 955.6,866.0 936.5,855.8 1106.2,800.4 1052.0,820.9 944.3,859.5 955.0,852.3 1132.2,770.6 1009.8,830.4 1010.8,856.1 1088.2,753.4 957.8,859.5 1035.0,821.8 1006.3,814.8 974.3,837.7 971.9,833.1 1087.6,785.9 927.2,887.4 1005.8,816.3 1158.7,752.6 1033.1,818.8 941.9,871.6 984.9,842.9 1065.6,795.7 971.9,831.3 1021.0,838.4 1018.6,807.6 957.8,833.9 917.1,874.2 1077.5,776.0 962.5,868.0 1006.4,815.2 1062.9,770.0 953.7,879.6 1018.0,799.3 1073.8,795.0 941.5,886.8 976.1,835.5 982.5,877.7 931.6,879.4 1015.4,808.4 992.9,823.6 943.0,878.0 1072.0,796.0 943.3,865.8 1062.1,821.0 1027.9,810.5 990.4,846.4 974.2,861.7 1017.9,800.8 927.1,863.2 1025.7,834.2 1004.2,844.1 987.9,820.0 942.5,895.9 1147.5,751.5 919.5,898.4 1066.5,818.4 1003.1,816.4 991.5,850.6 1080.4,812.0"/>
<polyline fill="none" stroke="none" marker-start="url(#dot1)" marker-mid="url(#dot1)" marker-end="url(#dot1)" points="942.2,881.8 920.7,876.6 935.0,864.8 914.4,880.8 929.6,871.6 910.3,900.9 951.1,859.5 945.7,854.8 920.6,880.9 930.8,868.8 916.5,881.9 931.8,876.9 909.5,885.5 918.8,877.5 927.1,868.6"/>
<polyline fill="none" stroke="none" marker-start="url(#dot2)" marker-mid="url(#dot2)" marker-end="url(#dot2)" points="911.3,888.8 916.3,890.7 907.5,890.0 910.6,887.3 908.6,895.9"/>
<polyline fill="none" stroke="none" marker-start="url(#dot3)" marker-mid="url(#dot3)" marker-end="url(#dot3)" points="896.2,900.0 903.2,901.4 894.4,905.4 905.8,897.5"/>
<polyline fill="none" stroke="none" marker-start="url(#dot4)" marker-mid="url(#dot4)" marker-end="url(#dot4)" points="901.1,899.6 901.1,899.6"/>
<polyline fill="none" stroke="none" marker-start="url(#dot)" marker-mid="url(#dot)" marker-end="url(#dot)" points="1136.0,773.5 1078.5,761.5 1056.7,803.9 975.5,835.9 1019.6,854.5 983.2,872.9 955.3,867.0 1003.4,807.7 1008.1,808.0 984.3,852.4 1026.0,815.2 1040.8,797.6 975.0,833.5 977.3,822.4 944.1,854.9 946.3,851.1 992.5,833.8 948.0,888.2 1079.1,795.3 991.6,816.6 1098.1,778.4 1027.2,837.0 948.9,871.2 978.2,843.2 1012.9,842.7 1063.9,781.4 1161.5,753.9 926.0,863.8 1066.6,795.0 1140.4,760.9 958.6,853.5 981.7,850.1 959.9,875.3 1101.6,773.6 964.4,856.2 1124.0,783.5 1089.5,804.0 930.0,891.9 1034.9,773.5 1116.8,770.2 1104.0,778.1 919.4,898.1 1065.2,800.7 929.7,888.2 1034.4,803.5 949.9,883.3 1113.0,790.6 953.5,847.9 933.1,854.8 944.0,888.6 961.3,860.1 939.2,871.7 975.8,843.7 948.0,864.3 917.3,903.8 972.8,823.0 1004.5,818.1 1005.6,822.1 955.7,866.6 958.2,855.8"/>
<polyline fill="none" stroke="none" marker-start="url(#dot1)" marker-mid="url(#dot1)" marker-end="url(#dot1)" points="949.5,857.5 915.0,878.5 920.4,883.3 913.2,881.3 946.7,864.3 921.8,886.7 920.0,894.9 925.0,871.4 925.6,894.0 928.3,893.1 929.3,871.1 923.1,879.1 923.0,892.7 943.6,867.8 919.2,889.8 936.8,867.1 954.0,866.6"/>
<polyline fill="none" stroke="none" marker-start="url(#dot2)" marker-mid="url(#dot2)" marker-end="url(#dot2)" points="908.3,900.6 909.3,887.2 905.3,903.8"/>
<polyline fill="none" stroke="none" marker-start="url(#dot3)" marker-mid="url(#dot3)" marker-end="url(#dot3)" points="902.1,899.8 902.8,900.7"/>
<polyline fill="none" stroke="none" marker-start="url(#dot4)" marker-mid="url(#dot4)" marker-end="url(#dot4)" points="897.2,905.7 896.3,905.1 898.9,901.4 903.5,899.6"/>
<polyline fill="none" stroke="none" marker-start="url(#dot)" marker-mid="url(#dot)" marker-end="url(#dot)" points="993.0,810.1 993.8,834.1 967.1,839.8 982.5,861.2 956.1,853.2 981.0,862.0 964.0,850.4 964.1,837.3 981.5,869.0 1010.0,816.9 933.5,881.6 1024.5,801.5 1041.9,827.9 942.2,869.8 988.2,839.0 1008.6,843.0 1064.1,815.4 954.2,882.7 957.2,847.2 948.4,851.3 1129.5,775.4 1004.9,841.7 953.3,870.5 930.7,857.6 1020.8,841.5 1078.9,814.2 978.5,873.0 975.1,870.0 1010.3,843.8 1032.5,822.7 962.0,836.3 939.8,859.0 951.1,852.1 944.2,878.9 1127.0,743.5 969.0,840.4 1041.6,833.9 951.1,877.2 1008.5,840.8 1017.5,845.8 931.2,893.9 973.8,832.5 937.3,885.3 1006.5,807.9 1084.0,805.6 1064.7,780.3 1118.3,786.1 996.9,810.3 980.7,869.1 973.7,832.0 1136.0,754.7 1060.3,797.0 1109.0,762.4 993.1,836.9 982.2,845.2 1091.7,778.5"/>
<polyline fill="none" stroke="none" marker-start="url(#dot1)" marker-mid="url(#dot1)" marker-end="url(#dot1)" points="931.8,863.4 929.0,873.1 934.0,871.3 923.0,887.9 940.0,860.6 929.1,869.9 927.5,871.5 927.6,867.4 925.5,878.4 919.1,897.2 929.3,880.1 933.9,873.3 907.4,903.8 941.9,882.7 938.4,860.9 936.0,865.0"/>
<polyline fill="none" stroke="none" marker-start="url(#dot2)" marker-mid="url(#dot2)" marker-end="url(#dot2)" points="911.2,896.0 914.8,891.6 910.6,895.0 913.5,885.6"/>
<polyline fill="none" stroke="none" marker-start="url(#dot3)" marker-mid="url(#dot3)" marker-end="url(#dot3)" points="894.1,905.5 893.7,905.9 893.9,906.4 900.2,905.7 907.5,896.6"/>
<polyline fill="none" stroke="none" marker-start="url(#dot4)" marker-mid="url(#dot4)" marker-end="url(#dot4)" points="898.6,905.6 898.6,902.1 897.0,902.2 902.2,900.7 894.8,901.7 898.1,904.5"/>
<polyline fill="none" stroke="none" marker-start="url(#dot)" marker-mid="url(#dot)" marker-end="url(#dot)" points="977.5,852.4 1127.9,751.3 1066.5,791.3 986.0,859.6 971.1,834.4 970.3,861.2 1042.8,817.5 990.2,855.9 950.4,851.6 1039.2,840.1 920.8,868.5 948.1,866.9 1067.3,782.7 968.5,863.9 993.1,850.4 948.6,876.3 928.6,894.4 924.2,866.4 1019.0,859.7 973.3,829.8 1034.0,792.6 933.0,889.0 1004.6,834.4 950.4,884.9 1050.0,840.9 1007.6,810.4 1009.2,819.9 949.5,887.0 1024.9,845.5 1033.5,852.5 989.4,874.7 1121.7,791.7 949.0,854.9 963.8,876.5 1037.4,810.8 1148.8,738.5 985.3,851.7 936.3,895.4 930.9,893.6 911.6,905.2 977.8,840.7 979.6,842.3 966.7,855.5 988.2,841.8 969.7,841.4 984.5,856.3 1063.1,771.2 1153.3,741.4 939.0,887.4 966.2,876.8 971.2,858.6 982.5,867.8 1008.4,837.7 1005.4,844.8 1013.3,825.1 980.3,829.5 1096.2,758.6 1053.9,782.3 986.2,815.4 968.6,832.0 992.7,824.2 1045.5,787.2 958.4,882.8 1066.6,783.3 1105.4,744.9"/>
<polyline fill="none" stroke="none" marker-start="url(#dot1)" marker-mid="url(#dot1)" marker-end="url(#dot1)" points="916.2,895.1 926.3,889.7 938.2,881.9 916.6,883.0 908.9,885.3 931.1,870.5 933.5,876.7 953.3,864.2 910.1,881.9 920.6,886.8 937.9,870.4 904.3,889.8 917.9,892.2"/>
<polyline fill="none" stroke="none" marker-start="url(#dot2)" marker-mid="url(#dot2)" marker-end="url(#dot2)" points="908.1,889.9 915.9,885.5 903.7,895.7"/>
<polyline fill="none" stroke="none" marker-start="url(#dot3)" marker-mid="url(#dot3)" marker-end="url(#dot3)" points="893.8,905.6 893.6,906.0 909.6,890.4"/>
<polyline fill="none" stroke="none" marker-start="url(#dot4)" marker-mid="url(#dot4)" marker-end="url(#dot4)" points="896.7,903.0 898.1,901.4 898.5,903.8"/>
<polyline fill="none" stroke="none" marker-start="url(#dot)" marker-mid="url(#dot)" marker-end="url(#dot)" points="976.2,849.0 985.4,816.8 998.9,806.3 1129.8,767.6 1044.3,782.6 1000.9,839.6 1072.4,799.0 1023.2,792.3 1090.7,793.8 970.6,862.8 1014.6,808.6 986.0,844.4 1013.5,801.2 984.7,847.4 960.7,849.8 1037.9,829.8 935.2,895.3 941.1,862.0 950.8,872.9 956.2,837.0 975.1,830.5 1075.6,810.0 956.6,875.4 1084.8,798.1 958.8,883.4 953.6,876.3 1086.3,823.4 932.0,859.4 956.4,844.2 934.1,879.0 1028.4,803.8 990.1,822.1 1047.2,814.6 945.7,854.5 984.3,839.1 975.0,872.0 911.1,880.3 972.2,874.8 957.7,863.7 1052.5,829.0 976.9,843.3 944.7,850.0 1165.6,744.1 1020.9,835.6 1014.8,817.7 972.6,852.5 916.7,901.5 1072.6,772.5 926.8,857.8 1041.4,792.0 966.4,837.7 1111.6,737.8 1053.4,835.0 957.0,865.9 1118.2,757.9 953.7,850.4 976.3,866.2 981.5,846.1 1117.6,743.9 1002.2,834.1 946.5,882.9 983.1,823.9"/>
<polyline fill="none" stroke="none" marker-start="url(#dot1)" marker-mid="url(#dot1)" marker-end="url(#dot1)" points="954.0,871.6 940.5,861.6 951.2,862.4 928.7,872.8 929.5,879.9 922.6,884.8 944.0,881.3 928.2,876.8 941.9,869.3 950.8,860.5 932.6,872.8 899.8,896.2"/>
<polyline fill="none" stroke="none" marker-start="url(#dot2)" marker-mid="url(#dot2)" marker-end="url(#dot2)" points="908.1,900.6 907.4,892.0 928.4,875.6 915.0,891.4 910.4,898.5 916.2,885.0"/>
<polyline fill="none" stroke="none" marker-start="url(#dot3)" marker-mid="url(#dot3)" marker-end="url(#dot3)" points="894.9,907.1 904.5,895.6 907.6,895.0"/>
<polyline fill="none" stroke="none" marker-start="url(#dot4)" marker-mid="url(#dot4)" marker-end="url(#dot4)" points="894.6,902.9 896.1,904.1 901.8,900.6"/>
<polyline fill="none" stroke="none" marker-start="url(#dot)" marker-mid="url(#dot)" marker-end="url(#dot)" points="937.2,894.4 1033.6,832.4 924.0,897.4 1102.2,781.5 988.4,830.8 1064.9,795.1 974.0,825.2 1053.9,787.3 958.5,869.9 945.3,877.2 1052.3,780.8 1095.4,752.4 1037.5,829.5 956.3,871.9 931.1,894.4 947.3,864.9 1039.3,824.1 968.7,835.5 1086.5,784.4 1053.4,788.1 985.9,815.7 946.6,883.1 1077.7,775.0 1084.6,803.4 1143.2,738.0 974.2,851.2 991.9,849.3 1101.4,789.1 958.2,852.0 935.7,858.4 936.0,872.5 1057.4,822.0 1048.8,807.4 960.7,846.7 959.4,852.9 943.5,858.9 1026.9,817.9 1115.8,760.4 1146.8,746.1 1007.3,822.1 958.0,861.6 986.7,845.7 967.8,861.4 961.4,885.2 1043.2,779.1 984.4,849.4 939.8,874.7 1012.0,804.5 949.4,853.6 976.7,865.5 969.0,836.2 949.9,872.5 968.1,827.4 1021.3,785.2 965.0,872.4 994.8,829.2"/>
<polyline fill="none" stroke="none" marker-start="url(#dot1)" marker-mid="url(#dot1)" marker-end="url(#dot1)" points="935.7,864.2 917.3,886.9 922.8,879.1 919.6,890.1 901.3,894.3 956.2,858.1 931.3,878.7 936.1,870.3 954.9,861.5 920.5,874.6 920.3,891.4 947.1,860.3 932.6,861.8 901.9,893.2 931.4,869.2 925.4,891.3 956.1,861.7 904.1,904.1 906.7,889.2 919.8,877.2 908.2,887.3"/>
<polyline fill="none" stroke="none" marker-start="url(#dot2)" marker-mid="url(#dot2)" marker-end="url(#dot2)" points="906.1,893.1 917.3,886.7 917.9,878.1 905.0,903.2 908.2,897.0"/>
<polyline fill="none" stroke="none" marker-start="url(#dot3)" marker-mid="url(#dot3)" marker-end="url(#dot3)" points="903.0,903.3 895.2,905.9 902.6,897.3 907.8,894.6 898.2,898.9"/>
<polyline fill="none" stroke="none" marker-start="url(#dot)" marker-mid="url(#dot)" marker-end="url(#dot)" points="1005.7,808.9 1099.9,798.5 1048.0,774.8 936.7,879.8 951.7,886.2 1069.9,801.0 991.1,849.1 1014.1,826.2 941.1,872.8 931.9,889.2 1065.8,833.1 1164.6,748.3 941.2,858.6 1046.7,796.0 1094.6,753.7 1033.8,795.2 1056.9,837.6 981.6,852.3 1001.2,809.9 1039.1,823.6 1038.9,800.6 1080.3,756.8 1001.3,848.5 996.6,864.2 965.6,857.3 958.1,872.2 953.5,869.2 1031.9,802.1 971.7,855.0 973.6,864.0 965.4,865.4 973.8,845.8 998.6,840.5 999.6,825.0 975.2,821.7 976.8,864.5 955.6,868.0 1086.4,757.5 982.1,877.7 966.6,850.8 1017.6,822.9 1080.7,795.1 942.2,871.0 989.6,819.3 1004.2,835.4 1012.4,829.7 968.2,875.1 1005.7,817.2 953.3,841.7 988.1,867.4 908.5,904.2 1009.1,848.1 1063.5,815.6 975.1,837.1 1116.0,770.1 977.0,860.6 1096.4,790.4 969.2,867.1 1000.8,851.8"/>
<polyline fill="none" stroke="none" marker-start="url(#dot1)" marker-mid="url(#dot1)" marker-end="url(#dot1)" points="929.2,866.6 916.7,883.5 932.8,868.2 930.3,893.4 906.2,888.8 913.1,895.9 918.1,875.0 925.5,896.4 936.6,859.7 923.5,890.8 924.1,873.4 929.4,863.3 915.3,879.6 918.7,894.3 922.7,895.8"/>
<polyline fill="none" stroke="none" marker-start="url(#dot2)" marker-mid="url(#dot2)" marker-end="url(#dot2)" points="907.0,889.9 912.7,892.0 917.8,879.5 910.5,889.7 911.1,889.0"/>
<polyline fill="none" stroke="none" marker-start="url(#dot3)" marker-mid="url(#dot3)" marker-end="url(#dot3)" points="909.4,890.4 894.6,906.5"/>
<polyline fill="none" stroke="none" marker-start="url(#dot4)" marker-mid="url(#dot4)" marker-end="url(#dot4)" points="896.0,905.5 896.1,900.6 895.8,905.4 901.8,902.2 895.0,902.2 897.6,900.7"/>
<polyline fill="none" stroke="none" marker-start="url(#dot)" marker-mid="url(#dot)" marker-end="url(#dot)" points="1132.9,744.3 1009.7,806.7 968.8,851.8 954.6,875.5 1013.3,802.3 1033.2,793.3 985.6,834.9 906.2,885.1 928.5,896.3 969.0,835.0 943.6,877.7 958.1,869.9 971.5,826.0 957.5,879.8 936.1,881.9 1113.7,767.9 936.3,856.0 952.7,844.9 1032.0,797.3 950.3,840.6 940.1,872.6 961.9,833.7 1002.6,839.9 954.9,867.8 930.4,890.2 1092.6,755.7 983.4,843.5 945.2,878.9 976.5,863.4 939.2,891.7 1014.0,827.7 1021.2,830.6 1026.0,814.2 963.4,847.5 1015.3,828.6 1007.2,847.1 946.7,848.0 940.7,872.9 997.0,820.5 989.0,829.2 1040.0,788.0 983.3,851.2 976.3,850.5 969.4,849.8 1034.4,796.1 912.9,902.0 1037.3,826.0 1023.5,813.1 1042.4,837.8 970.3,839.8 1154.5,756.5 981.9,823.0 1027.4,824.2 1080.4,769.8 1090.9,771.9 1019.2,834.8 1057.7,829.7 976.8,873.0 1112.6,742.7 1061.5,808.9 973.8,827.4 1085.4,809.6"/>
<polyline fill="none" stroke="none" marker-start="url(#dot1)" marker-mid="url(#dot1)" marker-end="url(#dot1)" points="929.2,893.0 912.9,880.3 952.2,856.4 906.4,887.9 930.6,878.0 945.4,860.8 915.7,883.0 927.0,878.0 926.7,874.7 952.2,858.8 924.6,895.1 920.5,879.4 927.5,892.2"/>
<polyline fill="none" stroke="none" marker-start="url(#dot2)" marker-mid="url(#dot2)" marker-end="url(#dot2)" points="911.8,886.1 910.1,884.9 904.8,895.0 916.4,886.2 909.5,895.3"/>
<polyline fill="none" stroke="none" marker-start="url(#dot3)" marker-mid="url(#dot3)" marker-end="url(#dot3)" points="907.3,897.8 903.3,897.7 907.6,896.7"/>
<polyline fill="none" stroke="none" marker-start="url(#dot4)" marker-mid="url(#dot4)" marker-end="url(#dot4)" points="895.4,902.0 896.4,900.5 894.6,903.4"/>
<polyline fill="none" stroke="none" marker-start="url(#dot)" marker-mid="url(#dot)" marker-end="url(#dot)" points="1004.1,845.8 964.3,851.5 1000.7,853.8 941.9,851.4 973.9,839.3 1001.3,809.5 950.7,848.2 1036.7,839.4 973.8,864.2 963.5,859.7 1012.5,800.8 997.9,846.6 1035.7,825.4 1126.1,775.7 974.7,861.8 967.0,872.7 1007.7,854.2 1015.4,825.5 1010.0,845.2 1026.1,834.4 971.2,873.6 980.3,865.7 916.6,900.2 945.1,881.8 1105.2,790.1 970.0,855.2 1019.9,825.0 959.0,867.4 1013.5,821.1 1048.1,780.1 1030.0,786.3 1072.6,817.5 978.7,860.3 1067.4,779.2 1073.9,810.6 1077.8,819.1 976.5,841.2 1032.5,835.1 1038.0,845.1 925.0,862.0 958.0,836.6 1021.6,815.4 1107.5,771.6 977.9,864.1 1010.6,836.6 1032.0,829.0 1054.9,795.9 939.3,886.9 1115.2,753.6 980.1,877.8 1043.9,841.2 969.8,855.6 1019.3,846.2 1079.6,781.1 953.4,845.7 1055.1,817.0 1012.9,795.5 954.5,851.1 1022.3,820.7 1027.2,844.3"/>
<polyline fill="none" stroke="none" marker-start="url(#dot1)" marker-mid="url(#dot1)" marker-end="url(#dot1)" points="945.0,862.5 932.2,862.0 935.9,860.6 950.6,861.2 916.6,881.7 950.5,862.5 915.3,877.5 922.4,890.0 942.7,880.9 926.8,869.6 926.5,878.5 906.6,888.8 919.7,889.1 929.1,872.4 929.2,893.5"/>
<polyline fill="none" stroke="none" marker-start="url(#dot2)" marker-mid="url(#dot2)" marker-end="url(#dot2)" points="916.9,884.4 911.1,887.1 910.9,887.6 907.8,901.1 913.4,887.8 910.4,885.0 925.6,877.0 904.6,902.9 912.3,892.6"/>
<polyline fill="none" stroke="none" marker-start="url(#dot3)" marker-mid="url(#dot3)" marker-end="url(#dot3)" points="900.2,905.9 894.4,905.0"/>
<polyline fill="none" stroke="none" marker-start="url(#dot4)" marker-mid="url(#dot4)" marker-end="url(#dot4)" points="898.2,905.3 898.2,905.3"/>
<polyline fill="none" stroke="none" marker-start="url(#dot)" marker-mid="url(#dot)" marker-end="url(#dot)" points="923.0,899.8 991.5,824.2 984.0,826.6 996.8,839.8 1025.6,814.2 1049.9,811.0 953.6,882.7 1069.0,781.9 1007.5,837.0 919.2,870.1 1013.4,810.5 966.9,842.8 939.6,868.8 973.3,826.8 987.2,858.8 944.3,852.6 948.7,844.9 1107.4,758.8 1032.9,784.4 946.9,870.9 1014.1,851.1 1040.9,803.2 990.1,844.8 1030.6,819.6 1027.8,845.9 940.6,884.8 1082.3,769.8 1007.6,808.5 989.0,857.1 1011.9,809.6 944.8,879.2 1091.5,777.8 915.1,874.8 1043.1,777.5 1006.2,832.5 938.3,878.7 1009.7,808.5 1055.4,833.6 959.1,836.5 1037.1,803.2 935.1,878.6 940.7,870.5 988.8,860.1 975.4,872.6 1059.5,776.8 1083.4,809.5 1016.9,821.7 1010.5,839.5 967.6,843.2 1128.7,783.5 1023.5,796.4 1075.3,827.6 983.6,820.5 976.9,881.7 1025.8,795.8 1129.7,764.1 1009.0,840.0 989.0,820.6 1015.8,783.7 1049.1,826.5 1104.6,805.3 960.6,854.6 1086.6,813.2 1028.5,806.5 1078.3,796.2"/>
<polyline fill="none" stroke="none" marker-start="url(#dot1)" marker-mid="url(#dot1)" marker-end="url(#dot1)" points="923.0,873.7 933.0,876.3 928.1,878.5 955.0,858.1 925.6,891.2 940.4,866.8 911.8,881.2 934.4,859.5 923.3,892.8 916.1,877.8 923.1,877.9 927.1,874.5"/>
<polyline fill="none" stroke="none" marker-start="url(#dot2)" marker-mid="url(#dot2)" marker-end="url(#dot2)" points="904.6,894.5 899.4,896.6 915.8,894.6 906.1,901.3"/>
<polyline fill="none" stroke="none" marker-start="url(#dot3)" marker-mid="url(#dot3)" marker-end="url(#dot3)" points="893.6,905.8 904.2,898.6 893.9,906.0 896.6,899.7"/>
<polyline fill="none" stroke="none" marker-start="url(#dot4)" marker-mid="url(#dot4)" marker-end="url(#dot4)" points="898.4,905.3 900.0,903.0"/>
<polyline fill="none" stroke="none" marker-start="url(#dot)" marker-mid="url(#dot)" marker-end="url(#dot)" points="974.0,842.7 980.5,836.5 972.0,841.7 994.9,862.3 1065.5,771.6 994.7,832.6 982.8,824.5 949.8,875.5 1066.3,810.6 989.3,846.0 1002.7,827.7 978.5,824.1 923.1,868.5 929.1,853.7 988.4,862.4 1006.8,835.4 1162.5,745.4 937.7,852.6 947.5,844.7 945.1,885.8 1004.4,829.7 961.9,873.9 956.1,868.1 1063.0,833.6 961.0,856.8 1127.8,735.6 1075.3,787.2 1059.1,776.5 1114.6,781.6 994.0,823.6 964.0,846.0 970.4,852.6 992.0,818.9 968.0,870.8 975.5,847.7 957.5,848.6 1074.6,773.5 1069.1,836.4 995.9,849.2 1063.6,797.9 998.8,814.8 1028.3,787.6 945.0,883.8 952.6,874.2 959.6,880.3 1151.8,748.9 1027.7,832.3 1085.8,783.2 985.6,853.5 1124.7,785.7 963.3,846.4 940.6,871.7 1042.8,795.5 925.1,861.9 960.8,889.3 987.4,860.2 1075.7,811.0 929.7,881.8 940.7,886.0 957.3,851.3 1112.8,774.1 1014.1,796.1 993.3,852.4 1053.2,793.7"/>
<polyline fill="none" stroke="none" marker-start="url(#dot1)" marker-mid="url(#dot1)" marker-end="url(#dot1)" points="931.9,866.7 938.5,862.3 925.0,896.7 930.3,863.6 954.8,866.1 918.5,875.9 933.9,868.9 925.1,870.7 925.1,880.6 912.7,882.1"/>
<polyline fill="none" stroke="none" marker-start="url(#dot2)" marker-mid="url(#dot2)" marker-end="url(#dot2)" points="903.2,893.6 908.6,899.3 907.0,902.6"/>
<polyline fill="none" stroke="none" marker-start="url(#dot3)" marker-mid="url(#dot3)" marker-end="url(#dot3)" points="895.1,906.5 906.4,898.6 906.3,898.1 893.2,906.7 902.1,904.2"/>
<polyline fill="none" stroke="none" marker-start="url(#dot4)" marker-mid="url(#dot4)" marker-end="url(#dot4)" points="898.2,900.6 895.3,904.1 894.3,902.7 896.2,903.7"/>
<polyline fill="none" stroke="none" marker-start="url(#dot)" marker-mid="url(#dot)" marker-end="url(#dot)" points="1012.6,827.5 957.1,854.7 935.6,885.8 1046.7,799.0 943.1,889.4 957.5,838.1 1065.1,821.8 1009.6,830.4 955.5,844.6 1134.5,780.9 922.7,899.5 1023.3,835.0 1094.2,783.8 1003.2,849.3 941.6,847.9 957.7,831.7 1034.2,818.7 967.3,853.8 1051.0,821.3 965.5,842.0 1117.8,781.7 1039.6,779.6 963.6,849.9 981.0,856.6 956.9,885.3 1028.7,784.7 1017.6,847.4 1083.9,744.7 1043.3,799.8 1085.8,818.4 1013.6,845.1 977.9,848.1 991.3,854.5 955.5,878.7 978.1,863.2 959.8,855.2 959.5,856.3 961.5,843.1 1085.2,771.2 1005.8,827.5 1044.1,833.9 1082.3,777.1 1069.4,816.5 977.5,846.7 957.1,854.2 953.8,843.1 974.5,842.8 1073.9,775.0 1010.0,800.1 937.7,881.6 1069.7,789.8 1060.2,780.1 970.5,871.9 1023.8,825.3 1100.8,789.8 934.3,880.6 1045.8,841.9 960.2,856.1 1017.5,812.8 1059.2,803.8 1054.4,796.6 1016.4,821.9 1077.6,767.4 961.3,878.6 993.9,866.8 932.2,879.8 1065.7,766.8 963.6,849.3 986.8,863.9"/>
<polyline fill="none" stroke="none" marker-start="url(#dot1)" marker-mid="url(#dot1)" marker-end="url(#dot1)" points="923.1,885.2 920.9,879.7 930.4,865.2 932.9,876.1 952.8,866.2 952.1,857.7 922.6,891.0 953.8,866.3 935.5,862.4 948.8,878.0"/>
<polyline fill="none" stroke="none" marker-start="url(#dot2)" marker-mid="url(#dot2)" marker-end="url(#dot2)" points="911.8,888.8 916.9,884.9 910.4,895.3 910.3,893.3"/>
<polyline fill="none" stroke="none" marker-start="url(#dot3)" marker-mid="url(#dot3)" marker-end="url(#dot3)" points="903.1,902.5 893.8,906.5"/>
<polyline fill="none" stroke="none" marker-start="url(#dot4)" marker-mid="url(#dot4)" marker-end="url(#dot4)" points="894.7,902.6 897.2,905.7"/>
<polyline fill="none" stroke="none" marker-start="url(#dot)" marker-mid="url(#dot)" marker-end="url(#dot)" points="1041.4,812.7 960.5,887.7 1021.6,797.1 946.8,866.8 1083.1,765.5 1104.7,746.1 1115.2,763.3 949.5,851.3 1083.1,782.5 969.4,877.6 950.0,873.9 1046.2,812.5 979.9,848.3 948.7,847.5 1109.6,791.8 985.1,822.3 952.0,843.2 938.6,855.3 1048.7,821.8 1080.9,831.5 1009.7,797.4 1097.1,812.0 1077.1,824.0 930.6,890.1 961.7,862.5 1092.9,763.7 1065.7,790.8 1030.6,802.3 1024.4,806.6 1103.2,761.4 950.7,884.5 970.7,861.9 1013.6,841.7 957.4,863.8 962.8,844.8 1007.5,806.8 998.7,845.9 982.7,861.8 1139.6,738.5 996.5,818.6 975.4,830.3 1046.4,782.9 1084.0,803.3 936.0,848.3 941.3,846.1 986.5,823.5 996.2,847.0 1012.9,818.7 975.5,820.6 980.1,826.2 944.8,894.7 989.7,819.2 1008.4,806.2 956.3,843.4 994.9,836.9 1059.4,760.1 1147.6,753.0 998.2,855.0 1060.4,836.3 1125.5,776.2 933.4,855.1"/>
<polyline fill="none" stroke="none" marker-start="url(#dot1)" marker-mid="url(#dot1)" marker-end="url(#dot1)" points="908.9,885.5 901.2,893.8 939.7,884.5 911.9,882.6 930.1,868.2 923.1,878.8 920.3,875.5 917.3,889.8 904.4,891.8 930.4,864.3 928.9,873.0 934.2,870.1 935.3,864.6"/>
<polyline fill="none" stroke="none" marker-start="url(#dot2)" marker-mid="url(#dot2)" marker-end="url(#dot2)" points="907.4,890.6 918.6,883.0 905.3,893.2 911.5,884.1 911.9,895.2 913.1,892.2 914.3,892.4"/>
<polyline fill="none" stroke="none" marker-start="url(#dot3)" marker-mid="url(#dot3)" marker-end="url(#dot3)" points="899.5,898.7 905.5,895.4 907.1,899.2 905.9,899.3"/>
<polyline fill="none" stroke="none" marker-start="url(#dot4)" marker-mid="url(#dot4)" marker-end="url(#dot4)" points="899.4,903.4 895.1,901.8"/>
<polyline fill="none" stroke="none" marker-start="url(#dot)" marker-mid="url(#dot)" marker-end="url(#dot)" points="970.2,830.3 916.1,869.9 1081.9,808.1 944.8,857.6 1067.4,819.3 941.6,898.2 942.3,885.6 993.0,858.4 982.9,832.4 990.6,855.6 1014.8,857.0 934.5,883.3 936.1,886.0 938.2,858.9 1114.5,781.1 942.0,872.2 1010.4,806.3 1077.3,824.1 1033.6,814.4 986.4,851.5 968.7,854.0 1076.4,816.8 976.7,848.2 1008.5,858.0 978.0,842.5 942.4,885.3 962.8,860.2 979.0,822.8 942.6,886.5 952.0,879.5 1027.6,803.4 1078.4,790.7 973.3,832.9 1097.3,788.5 1109.0,768.9 1109.8,755.9 1018.8,813.7 1136.4,767.1 957.6,858.6 959.5,886.2 913.9,902.8 976.5,837.9 920.7,864.1 1078.6,764.6 969.0,844.2 940.3,884.7 967.1,853.9 952.4,873.6 1069.7,792.3 917.1,874.8 1016.6,813.1 981.9,818.1 1012.5,809.8 948.6,877.1 970.4,852.0 1035.2,808.2 1041.7,796.7 942.5,892.0 1044.5,835.2"/>
<polyline fill="none" stroke="none" marker-start="url(#dot1)" marker-mid="url(#dot1)" marker-end="url(#dot1)" points="929.9,869.2 954.4,858.7 948.4,863.2 905.9,886.8 943.8,880.9 921.9,881.4 914.3,879.2 911.6,883.2 947.2,857.1 930.6,874.5 928.5,865.9 925.6,879.2 936.9,858.9 916.2,878.6 920.1,888.2 929.5,871.8 918.7,889.3 954.7,861.5"/>
<polyline fill="none" stroke="none" marker-start="url(#dot2)" marker-mid="url(#dot2)" marker-end="url(#dot2)" points="902.8,894.3 902.3,894.8 914.0,889.5"/>
<polyline fill="none" stroke="none" marker-start="url(#dot3)" marker-mid="url(#dot3)" marker-end="url(#dot3)" points="900.6,905.7 893.8,903.3 905.8,897.7 902.1,903.1 894.3,905.2"/>
<polyline fill="none" stroke="none" marker-start="url(#dot4)" marker-mid="url(#dot4)" marker-end="url(#dot4)" points="896.7,901.5 896.7,901.5"/>
<polyline fill="none" stroke="none" marker-start="url(#dot)" marker-mid="url(#dot)" marker-end="url(#dot)" points="1042.7,808.0 986.8,854.7 1060.2,813.8 962.3,831.8 969.4,831.0 1047.8,837.5 1007.1,866.5 1003.8,845.4 1017.8,853.0 985.6,831.2 1019.2,813.0 1016.5,823.1 964.6,832.2 1003.0,838.3 1027.5,812.3 940.3,871.7 1034.1,833.2 1018.6,826.0 948.0,883.6 1056.4,777.2 927.5,884.7 1013.0,804.0 1022.2,792.9 1092.3,777.7 1050.5,835.7 1098.4,807.9 1145.4,740.3 959.3,869.2 1121.5,757.9 1044.1,813.0 998.3,841.0 1068.4,789.4 926.9,899.2 958.4,860.4 946.6,883.3 948.9,880.4 995.4,819.1 1076.4,812.6 928.7,880.8 1062.8,768.0 1082.5,782.8 1046.5,817.0 1021.8,838.6 1127.2,761.6 986.7,830.2 1115.2,742.0 1011.5,822.3 986.1,828.6 1001.7,806.4 1132.4,763.9 1052.3,824.2 1018.8,828.0 1130.2,764.1 985.4,815.7 968.3,871.3 1141.8,768.4 992.0,838.6 1149.9,763.9"/>
<polyline fill="none" stroke="none" marker-start="url(#dot1)" marker-mid="url(#dot1)" marker-end="url(#dot1)" points="940.5,863.0 920.2,884.5 939.7,880.5 933.1,867.8 924.7,870.9 929.8,864.8 934.9,862.1 927.2,866.9 939.3,882.4 956.6,857.1 947.1,862.5 941.7,882.8 921.7,888.5 927.8,872.0 925.5,880.5 915.7,896.3 914.4,895.6 939.5,867.1"/>
<polyline fill="none" stroke="none" marker-start="url(#dot2)" marker-mid="url(#dot2)" marker-end="url(#dot2)" points="902.3,895.3 914.7,883.7 893.3,907.2 914.1,892.9 908.4,897.9"/>
<polyline fill="none" stroke="none" marker-start="url(#dot3)" marker-mid="url(#dot3)" marker-end="url(#dot3)" points="893.5,906.8 903.4,902.5 893.6,904.5"/>
<polyline fill="none" stroke="none" marker-start="url(#dot4)" marker-mid="url(#dot4)" marker-end="url(#dot4)" points="897.3,903.5 896.5,903.6 900.7,901.8"/>
<polyline fill="none" stroke="none" marker-start="url(#dot)" marker-mid="url(#dot)" marker-end="url(#dot)" points="950.0,888.6 918.2,872.5 956.9,858.4 985.1,839.6 1033.0,807.0 937.6,856.9 1045.4,796.7 1013.8,809.1 1034.6,805.6 979.8,828.4 973.4,874.8 1063.4,824.5 1070.4,806.5 928.2,860.4 1093.7,753.2 1017.2,811.6 999.7,841.1 948.1,875.6 1057.9,800.1 1070.7,805.0 1117.0,777.6 955.1,876.6 951.5,842.7 953.9,872.4 1079.1,751.8 1044.9,841.5 1005.2,824.1 1067.5,817.9 1005.7,834.6 1070.7,784.9 982.7,848.1 1046.8,789.9 968.7,843.0 928.2,895.7 1007.7,819.0 931.5,888.3 1006.7,824.4 974.1,856.0 963.2,884.5 1010.5,832.3 1031.8,823.1 1064.7,834.2 1045.7,806.6 942.1,870.6 964.4,833.9 957.6,863.9 918.1,871.2 1009.8,802.7 972.8,848.3 984.0,826.2 1080.6,799.5 1001.3,849.5 1044.8,809.1 932.4,897.0 1001.5,820.3 993.2,810.5 964.0,862.0 959.5,858.0"/>
<polyline fill="none" stroke="none" marker-start="url(#dot1)" marker-mid="url(#dot1)" marker-end="url(#dot1)" points="947.0,857.9 905.1,890.8 923.5,870.4 919.8,873.8 948.1,857.4 919.1,888.8 938.4,866.2 933.8,867.4 929.4,890.4 944.4,873.3 923.6,884.3 933.8,859.7 923.1,878.6 939.9,883.7 950.3,868.2"/>
<polyline fill="none" stroke="none" marker-start="url(#dot2)" marker-mid="url(#dot2)" marker-end="url(#dot2)" points="910.4,897.7 909.7,885.7 911.3,887.8 914.6,891.7 910.4,895.8"/>
<polyline fill="none" stroke="none" marker-start="url(#dot3)" marker-mid="url(#dot3)" marker-end="url(#dot3)" points="901.0,904.4 895.9,906.5 894.9,906.3 893.4,906.6 905.4,898.2"/>
<polyline fill="none" stroke="none" marker-start="url(#dot4)" marker-mid="url(#dot4)" marker-end="url(#dot4)" points="896.7,902.9 896.2,901.8 901.3,902.2 897.5,906.2"/>
<polyline fill="none" stroke="none" marker-start="url(#dot)" marker-mid="url(#dot)" marker-end="url(#dot)" points="1085.5,809.4 1012.1,815.6 1043.4,830.1 999.3,846.2 1006.4,819.1 1011.7,797.7 1018.8,825.5 1023.4,807.8 1076.9,800.4 992.4,837.2 1001.4,868.5 1096.0,821.9 1082.2,785.6 941.7,886.2 960.4,873.9 1077.7,810.0 1064.5,821.3 1050.5,789.8 921.4,866.3 1011.5,846.1 928.2,899.6 983.9,840.7 1058.4,801.6 1101.6,792.2 994.9,820.9 974.8,852.3 1004.0,820.9 982.8,856.2 1092.2,758.9 934.4,856.2 1023.7,845.0 941.6,852.4 1017.3,863.7 961.3,876.9 910.5,902.4 916.4,900.7 914.9,871.5 993.5,813.9 1008.4,859.9 938.1,893.7 1075.6,810.0 929.1,861.7 944.7,847.6 981.6,833.9 1029.0,824.3 924.4,898.6 998.3,816.4 941.3,862.0 1086.0,803.0 956.7,859.0 1014.0,840.0 1025.0,823.1 995.5,818.7 941.6,863.0 1066.2,791.6 1007.2,831.0 1106.3,771.9 1019.3,808.4 1077.6,767.2 984.3,835.2 1048.5,816.2 981.5,865.4 952.0,854.3"/>
<polyline fill="none" stroke="none" marker-start="url(#dot1)" marker-mid="url(#dot1)" marker-end="url(#dot1)" points="906.7,887.0 926.7,890.9 908.8,902.1 923.4,873.1 920.4,892.8 906.4,887.1 920.4,893.3 929.4,866.9 922.9,875.4 918.1,877.3 931.5,865.0 913.8,895.9 948.2,858.8 944.8,860.7 904.8,890.4 950.7,859.2"/>
<polyline fill="none" stroke="none" marker-start="url(#dot2)" marker-mid="url(#dot2)" marker-end="url(#dot2)" points="913.7,886.0 911.7,894.4 914.3,885.2 911.6,894.1 903.9,903.0"/>
<polyline fill="none" stroke="none" marker-start="url(#dot3)" marker-mid="url(#dot3)" marker-end="url(#dot3)" points="894.0,904.3 894.0,904.3"/>
<polyline fill="none" stroke="none" marker-start="url(#dot4)" marker-mid="url(#dot4)" marker-end="url(#dot4)" points="898.7,901.0 898.7,901.0"/>
<polyline fill="none" stroke="none" marker-start="url(#dot)" marker-mid="url(#dot)" marker-end="url(#dot)" points="1114.2,762.5 983.5,823.2 1018.8,856.0 920.7,868.9 940.6,871.8 923.9,869.1 1049.8,811.6 947.3,890.6 929.9,896.2 1000.8,806.5 988.4,852.4 967.6,855.1 1036.2,772.9 1067.0,816.5 988.3,827.7 1022.6,848.9 1097.9,808.5 1126.8,760.9 958.0,861.4 948.7,849.8 986.6,858.8 931.4,859.9 1033.9,826.0 919.6,866.8 994.4,849.4 962.7,850.4 1050.9,828.3 1031.8,826.2 1144.7,755.3 1016.6,852.1 945.2,880.2 1010.0,841.0 1042.5,815.3 956.4,843.3 992.3,810.9 1019.8,824.0 999.7,810.3 1007.6,822.0 997.4,856.1 943.6,858.9 1107.1,789.8 1079.6,765.9 968.6,845.1 965.8,841.3 993.9,835.5 946.2,856.1 976.3,871.6 1130.6,778.3 962.3,869.5 919.3,872.2 964.1,858.6 1090.5,750.1 936.4,892.9 970.9,866.6 909.4,903.1 1020.0,843.6 1112.3,770.5 1015.6,835.9 1056.0,806.7 1081.6,800.5 1041.8,838.1 957.0,879.0 994.3,845.8 1008.0,839.6"/>
<polyline fill="none" stroke="none" marker-start="url(#dot1)" marker-mid="url(#dot1)" marker-end="url(#dot1)" points="954.0,858.4 934.0,872.8 937.0,861.1 913.8,880.1 908.2,902.5 918.6,895.5 925.6,893.8 927.3,880.5 918.1,876.4"/>
<polyline fill="none" stroke="none" marker-start="url(#dot2)" marker-mid="url(#dot2)" marker-end="url(#dot2)" points="914.9,886.2 926.0,876.0 911.8,884.5 908.6,889.5"/>
<polyline fill="none" stroke="none" marker-start="url(#dot3)" marker-mid="url(#dot3)" marker-end="url(#dot3)" points="906.3,895.8 904.8,896.5 893.3,906.0 893.5,906.1 899.8,898.8 904.0,899.7"/>
<polyline fill="none" stroke="none" marker-start="url(#dot4)" marker-mid="url(#dot4)" marker-end="url(#dot4)" points="897.6,906.4 896.2,905.9 895.8,905.7 899.6,905.6"/>
<polyline fill="none" stroke="none" marker-start="url(#dot)" marker-mid="url(#dot)" marker-end="url(#dot)" points="1034.0,828.2 936.1,884.2 1022.8,794.3 991.5,813.3 1019.9,787.8 1096.7,769.8 1037.2,816.9 970.5,859.3 943.7,890.5 994.4,811.0 1035.2,819.1 1048.9,834.4 1128.2,787.7 1005.5,845.0 1027.1,830.7 914.5,900.1 1149.1,740.2 1128.2,762.8 944.5,859.4 1080.7,807.0 1124.1,773.5 1051.0,814.4 947.2,847.6 1064.1,775.6 993.0,824.3 1019.0,843.2 1074.0,773.3 929.3,887.4 965.5,864.2 914.4,876.1 990.1,847.6 942.6,849.7 969.0,855.7 940.2,856.0 996.0,839.1 1042.3,802.7 977.6,829.6 1114.7,756.0 1071.0,779.6 963.3,836.6 937.8,875.9 1016.4,818.5 956.0,847.1 981.7,866.0 978.2,831.7 1074.0,762.5 948.9,854.5 1120.8,774.4 981.4,837.3 1072.9,773.3 971.6,868.3 1055.6,835.2 1121.9,758.1 935.9,853.8 972.4,848.4 927.0,897.0 971.2,830.2 948.9,855.1"/>
<polyline fill="none" stroke="none" marker-start="url(#dot1)" marker-mid="url(#dot1)" marker-end="url(#dot1)" points="930.3,864.1 923.1,879.7 944.0,883.7 935.9,874.0 926.3,880.4 920.4,896.4 934.3,861.7 921.9,891.7 922.9,873.9 914.0,880.9 923.2,876.6 954.7,862.4 932.7,865.6 929.7,880.5 936.2,865.0 919.6,876.1 953.9,866.9 930.1,873.9 910.8,882.2 929.2,878.1"/>
<polyline fill="none" stroke="none" marker-start="url(#dot2)" marker-mid="url(#dot2)" marker-end="url(#dot2)" points="909.2,889.7 903.5,896.1 904.5,892.8 907.3,890.0"/>
<polyline fill="none" stroke="none" marker-start="url(#dot3)" marker-mid="url(#dot3)" marker-end="url(#dot3)" points="907.9,893.7 894.0,906.5 905.2,898.0"/>
<polyline fill="none" stroke="none" marker-start="url(#dot4)" marker-mid="url(#dot4)" marker-end="url(#dot4)" points="898.1,901.1 896.6,904.3"/>
<polyline fill="none" stroke="none" marker-start="url(#dot)" marker-mid="url(#dot)" marker-end="url(#dot)" points="1080.7,808.3 1128.1,786.0 1029.0,786.6 1050.0,818.0 1030.3,782.9 962.6,837.1 1011.1,841.6 912.9,879.1 926.1,864.5 1134.2,781.5 970.0,869.1 944.5,884.7 1149.2,748.2 1083.5,788.0 1098.8,789.4 964.8,834.0 950.1,848.3 950.6,876.5 1020.5,807.5 1035.8,816.9 1015.8,803.8 923.4,905.1 1012.5,821.7 986.9,857.3 939.5,852.5 993.3,837.4 1110.9,760.7 1013.9,808.8 1135.3,736.4 944.6,878.0 1001.1,805.9 999.9,848.8 1060.0,803.6 1061.6,800.6 966.6,855.4 945.3,878.4 1018.2,810.4 992.5,812.5 1023.5,846.2 963.8,848.8 976.1,862.3 1080.8,786.3 1084.0,783.1 1030.5,841.6 972.0,830.0 933.6,858.8 1013.9,794.2 921.8,899.3 1021.0,785.0 974.8,858.4 950.3,853.1 962.1,858.8 963.3,858.3 1005.2,843.7 1055.8,819.8 982.8,833.9 1002.9,821.6 1116.1,749.8 937.9,892.9 928.1,901.7 1030.6,796.0 938.0,881.0 990.7,849.0 1034.3,824.0 1000.2,822.0 938.3,880.7 1004.7,819.4"/>
<polyline fill="none" stroke="none" marker-start="url(#dot1)" marker-mid="url(#dot1)" marker-end="url(#dot1)" points="933.0,866.9 914.4,879.8 912.2,883.0 935.4,865.9 918.8,874.8 923.1,885.2 917.7,875.7 946.5,860.7 949.5,857.1 951.8,864.0 939.1,865.7"/>
<polyline fill="none" stroke="none" marker-start="url(#dot2)" marker-mid="url(#dot2)" marker-end="url(#dot2)" points="908.9,898.1 914.3,891.1 910.7,896.2"/>
<polyline fill="none" stroke="none" marker-start="url(#dot3)" marker-mid="url(#dot3)" marker-end="url(#dot3)" points="901.2,898.9 902.4,899.4"/>
<polyline fill="none" stroke="none" marker-start="url(#dot4)" marker-mid="url(#dot4)" marker-end="url(#dot4)" points="898.2,901.5 896.3,904.2 898.0,903.9"/>
<polyline fill="none" stroke="none" marker-start="url(#dot)" marker-mid="url(#dot)" marker-end="url(#dot)" points="978.8,857.6 964.9,843.3 945.6,850.8 1051.3,774.1 910.4,902.7 987.0,832.5 1007.3,811.2 1060.0,831.3 1044.8,788.3 1014.8,851.7 1050.0,813.6 1041.5,828.3 954.4,884.2 933.9,887.1 1128.2,760.6 1016.5,809.3 950.0,876.5 1072.4,824.3 956.8,891.3 975.8,864.2 1145.5,752.8 948.1,875.4 1008.6,836.6 1113.9,768.0 1021.9,821.4 932.0,898.6 954.3,869.5 1041.0,806.2 920.6,871.6 1021.1,849.2 1016.3,838.7 986.7,815.3 921.0,897.7 1007.6,818.8 930.2,890.5 961.6,859.7 994.0,851.5 1033.9,827.8 1051.6,811.7 927.0,903.9 989.5,838.4 988.5,826.1 945.8,876.5 998.0,823.4 1071.7,790.4 1018.4,796.6 950.7,877.6 957.6,850.7 994.0,819.8 956.0,871.2 1094.9,793.1 1045.1,790.7 1003.5,858.5 1011.0,853.9 963.7,858.9 1014.3,848.0 929.3,860.2 1007.5,832.1 943.8,866.1 1036.4,843.3 1017.6,849.4 991.7,805.6 942.0,865.7 1002.6,855.2"/>
<polyline fill="none" stroke="none" marker-start="url(#dot1)" marker-mid="url(#dot1)" marker-end="url(#dot1)" points="900.5,894.4 932.0,871.7 947.6,858.4 902.7,892.1 918.8,895.0 922.6,884.0 929.3,872.9 935.0,858.8 933.5,874.6 933.2,865.1 936.9,870.9 938.2,865.2 912.0,900.7"/>
<polyline fill="none" stroke="none" marker-start="url(#dot2)" marker-mid="url(#dot2)" marker-end="url(#dot2)" points="913.6,889.4 914.0,889.5"/>
<polyline fill="none" stroke="none" marker-start="url(#dot3)" marker-mid="url(#dot3)" marker-end="url(#dot3)" points="904.7,900.9 905.7,898.6 898.5,898.6 909.4,890.0"/>
<polyline fill="none" stroke="none" marker-start="url(#dot4)" marker-mid="url(#dot4)" marker-end="url(#dot4)" points="901.4,902.7 896.6,904.7 895.2,904.1 896.8,902.5"/>
<polyline fill="none" stroke="none" marker-start="url(#dot)" marker-mid="url(#dot)" marker-end="url(#dot)" points="955.0,886.1 999.7,829.2 942.3,857.6 1061.5,785.9 998.2,842.7 1020.7,838.4 1095.2,748.5 966.6,861.6 946.2,852.0 960.4,850.5 1006.6,805.7 1080.6,808.3 939.1,886.7 968.1,820.2 1026.7,845.1 966.4,849.5 1109.4,795.5 937.4,879.9 938.8,891.7 957.0,854.8 1004.3,843.4 996.8,813.0 1013.5,793.2 974.0,845.9 987.5,854.6 979.5,864.2 1021.0,831.0 959.8,856.7 946.2,853.3 959.3,839.0 1013.4,795.1 973.7,841.3 1102.9,761.6 1001.9,819.4 1109.3,756.8 992.3,819.6 981.2,854.9 1003.4,803.0 946.6,871.7 1052.0,784.0 917.6,899.2 968.1,864.9 985.1,820.7 1153.8,741.6 999.5,869.2 1081.1,782.7 1110.1,776.8 985.3,828.7 1151.5,762.5 1024.9,808.4 1026.9,851.9 1130.6,769.4 1111.7,794.4 975.6,853.9 941.6,855.6 998.7,827.7 1009.1,846.4 983.5,865.4 929.7,860.0"/>
<polyline fill="none" stroke="none" marker-start="url(#dot1)" marker-mid="url(#dot1)" marker-end="url(#dot1)" points="924.5,887.5 926.0,870.8 899.7,895.7 925.8,890.3 925.4,874.1 930.1,872.9 913.8,882.1 934.6,873.8 922.3,891.0 929.2,874.8 921.4,893.4 927.1,879.7 950.1,860.7"/>
<polyline fill="none" stroke="none" marker-start="url(#dot2)" marker-mid="url(#dot2)" marker-end="url(#dot2)" points="899.7,897.3 910.8,888.0 911.6,886.2 906.2,892.8 906.3,892.1 915.7,894.9 914.4,889.0 906.2,892.6"/>
<polyline fill="none" stroke="none" marker-start="url(#dot3)" marker-mid="url(#dot3)" marker-end="url(#dot3)" points="893.7,906.3 908.7,892.7 895.5,906.2 899.7,898.6 909.0,891.3"/>
<polyline fill="none" stroke="none" marker-start="url(#dot4)" marker-mid="url(#dot4)" marker-end="url(#dot4)" points="898.1,904.5 897.2,904.1"/>
<polyline fill="none" stroke="none" marker-start="url(#dot)" marker-mid="url(#dot)" marker-end="url(#dot)" points="1058.5,792.2 924.7,861.3 1042.4,807.4 1094.2,789.4 1147.9,745.1 1016.0,814.5 1099.4,795.6 914.9,875.3 972.0,875.1 1123.9,778.6 983.9,838.8 1092.9,785.1 960.2,875.5 1006.0,794.5 1054.3,820.6 948.9,844.9 1030.0,817.0 979.7,850.4 992.4,832.5 981.1,850.2 1066.6,806.9 1079.7,797.4 911.6,877.8 1017.9,852.2 1006.8,834.3 1095.8,751.9 1072.6,800.4 998.8,846.0 1081.5,778.6 1030.3,807.9 1050.8,792.3 977.4,826.3 996.5,845.6 1037.7,827.8 1011.2,829.4 951.6,883.5 994.1,827.0 1010.9,848.1 917.0,901.1 1017.7,851.5 971.1,837.4 996.3,840.8 947.9,875.8 1051.3,785.1 1083.0,823.2 928.9,889.7 946.0,882.1 1013.0,849.3 1055.0,831.3 970.5,871.8 1082.8,806.4 987.5,867.0 911.2,903.6 934.3,885.3 973.7,870.2 1124.0,790.9 1004.5,838.8 971.5,872.4"/>
<polyline fill="none" stroke="none" marker-start="url(#dot1)" marker-mid="url(#dot1)" marker-end="url(#dot1)" points="930.5,875.1 926.3,877.0 931.1,868.0 926.6,879.7 919.5,895.7 922.5,880.4 932.1,872.0 953.2,855.8 926.1,872.5 925.1,882.1 941.4,868.7 915.4,879.5 941.6,866.4 932.7,878.0 921.1,889.4 949.5,861.7 944.0,864.0 925.8,890.3"/>
<polyline fill="none" stroke="none" marker-start="url(#dot2)" marker-mid="url(#dot2)" marker-end="url(#dot2)" points="927.1,875.7 917.6,890.2 916.9,886.3 910.3,894.7"/>
<polyline fill="none" stroke="none" marker-start="url(#dot3)" marker-mid="url(#dot3)" marker-end="url(#dot3)" points="894.6,903.7 903.4,898.7 910.9,892.5 901.8,904.1"/>
<polyline fill="none" stroke="none" marker-start="url(#dot4)" marker-mid="url(#dot4)" marker-end="url(#dot4)" points="899.7,902.5 894.9,905.3"/>
<polyline fill="none" stroke="none" marker-start="url(#dot)" marker-mid="url(#dot)" marker-end="url(#dot)" points="1118.9,764.7 929.6,890.9 977.9,863.6 1118.2,742.8 943.0,850.8 993.2,833.4 985.9,861.3 953.0,870.2 955.0,844.6 933.2,857.7 988.8,866.0 1056.5,761.9 1044.3,792.3 987.9,852.7 954.0,841.8 1052.3,809.2 1014.9,806.3 1011.0,802.7 937.2,896.6 997.0,816.7 925.8,861.8 965.5,852.4 1024.5,813.2 1116.4,766.7 1035.0,798.1 985.7,849.8 958.6,880.2 965.5,856.1 1151.8,756.4 1112.0,765.5 953.0,879.3 1000.5,824.6 1018.4,828.6 993.3,824.2 909.6,903.0 1014.1,848.6 941.4,861.9 999.0,817.0 1019.3,846.4 952.8,841.4 994.7,822.8 982.3,826.9 976.1,848.5 931.5,883.1 958.9,830.0 934.9,881.3 1010.5,855.7 990.2,820.7 1105.9,797.9 1036.7,786.7 1006.3,828.9 1052.0,786.2 1055.4,791.4 1046.5,817.5 962.0,849.0 925.4,900.1 975.3,855.3 934.6,881.1 987.8,837.3 932.8,885.4 1027.9,861.2 1011.1,798.0 1011.2,840.8 1131.5,788.6 1053.9,826.9 1038.3,779.9 976.5,835.0"/>
<polyline fill="none" stroke="none" marker-start="url(#dot1)" marker-mid="url(#dot1)" marker-end="url(#dot1)" points="921.2,887.8 907.4,887.2 939.9,884.7 921.4,878.6 916.5,896.7 922.0,874.4 950.4,861.6 927.4,891.1 923.7,888.8 934.9,865.8 937.3,861.7 904.1,904.9"/>
<polyline fill="none" stroke="none" marker-start="url(#dot2)" marker-mid="url(#dot2)" marker-end="url(#dot2)" points="899.0,897.0 905.2,902.0 912.6,897.3"/>
<polyline fill="none" stroke="none" marker-start="url(#dot3)" marker-mid="url(#dot3)" marker-end="url(#dot3)" points="898.5,907.3 903.7,902.0 909.7,893.3"/>
<polyline fill="none" stroke="none" marker-start="url(#dot4)" marker-mid="url(#dot4)" marker-end="url(#dot4)" points="896.3,905.9 897.9,903.2"/>
<polyline fill="none" stroke="none" marker-start="url(#dot)" marker-mid="url(#dot)" marker-end="url(#dot)" points="995.4,835.0 1033.6,837.1 1071.1,768.1 972.9,831.8 1055.1,841.0 1056.3,827.8 979.9,823.0 934.1,890.4 990.5,818.9 1050.3,811.7 1047.2,801.5 1000.2,858.8 1053.3,818.4 977.9,836.7 1003.5,803.2 1047.3,807.0 943.5,871.6 1070.5,784.3 991.9,823.2 1085.3,796.6 971.4,835.8 1069.3,826.4 1009.9,843.8 962.3,870.6 953.3,875.5 1080.3,802.1 922.2,899.2 1152.8,754.1 918.0,870.7 988.1,837.9 939.4,886.2 947.6,877.5 1029.4,833.4 936.2,857.9 985.4,841.0 982.9,841.9 1104.6,807.1 1044.3,780.9 1060.8,779.6 1103.4,747.3 960.8,869.2 974.7,849.5 967.5,842.5 946.6,871.5 1079.5,773.3 997.2,838.3 1035.3,792.2 953.1,868.6 999.9,844.5 929.0,897.9 948.1,871.8 1111.3,794.0 1004.6,815.2 1008.1,808.8 1011.1,843.2 1058.5,810.9 967.4,831.9 959.0,866.0 942.6,887.5 1075.8,784.4 982.8,855.1 985.7,860.5"/>
<polyline fill="none" stroke="none" marker-start="url(#dot1)" marker-mid="url(#dot1)" marker-end="url(#dot1)" points="923.2,891.5 906.2,887.2 923.2,895.4 925.8,887.5 919.8,890.8 921.9,896.0 951.1,865.2 919.5,893.2 948.2,859.9 918.9,880.4 940.4,866.5 924.2,886.9 955.1,861.2 939.5,882.2 923.7,879.0"/>
<polyline fill="none" stroke="none" marker-start="url(#dot2)" marker-mid="url(#dot2)" marker-end="url(#dot2)" points="909.3,895.5 927.9,875.2 912.2,896.4 912.2,897.2 913.3,889.8"/>
<polyline fill="none" stroke="none" marker-start="url(#dot3)" marker-mid="url(#dot3)" marker-end="url(#dot3)" points="902.9,897.5 897.0,899.2 900.4,898.3"/>
<polyline fill="none" stroke="none" marker-start="url(#dot4)" marker-mid="url(#dot4)" marker-end="url(#dot4)" points="902.2,901.1 896.7,901.9"/>
<polyline fill="none" stroke="none" marker-start="url(#dot)" marker-mid="url(#dot)" marker-end="url(#dot)" points="895.3,906.1 1173.7,705.8 1180.8,698.1 1183.8,718.7 1180.0,727.6 1179.3,739.6 1192.7,739.6 1206.7,696.9 1384.5,590.1"/>
</svg>
<text x="885.29" y="960.64" font-size="29.40" textLength="14.72" lengthAdjust="spacingAndGlyphs" fill="#262626">0</text>
<text x="994.51" y="960.64" font-size="29.40" textLength="44.15" lengthAdjust="spacingAndGlyphs" fill="#262626">500</text>
<text x="1110.60" y="960.64" font-size="29.40" textLength="58.87" lengthAdjust="spacingAndGlyphs" fill="#262626"> 000</text>
<text x="1234.50" y="960.64" font-size="29.40" textLength="58.87" lengthAdjust="spacingAndGlyphs" fill="#262626"> 500</text>
<text x="1358.80" y="960.64" font-size="29.40" textLength="58.87" lengthAdjust="spacingAndGlyphs" fill="#262626">2000</text>
<text x="838.24" y="919.74" font-size="29.40" textLength="14.72" lengthAdjust="spacingAndGlyphs" fill="#262626">0</text>
<text x="808.87" y="848.24" font-size="29.40" textLength="44.15" lengthAdjust="spacingAndGlyphs" fill="#262626">500</text>
<text x="794.32" y="776.74" font-size="29.40" textLength="58.87" lengthAdjust="spacingAndGlyphs" fill="#262626"> 000</text>
<text x="794.32" y="705.24" font-size="29.40" textLength="58.87" lengthAdjust="spacingAndGlyphs" fill="#262626"> 500</text>
<text x="794.32" y="633.74" font-size="29.40" textLength="58.87" lengthAdjust="spacingAndGlyphs" fill="#262626">2000</text>
<text x="1099.53" y="991.10" font-size="27.29" textLength="77.42" lengthAdjust="spacingAndGlyphs" fill="#262626">REP2</text>
<text transform="rotate(-90)" x="-790.50" y="785.08" font-size="31.69" textLength="75.12" lengthAdjust="spacingAndGlyphs" fill="#262626">REP3</text>
<text x="921.53" y="610.20" font-size="30.0" textLength="107.69" lengthAdjust="spacingAndGlyphs" fill="#262626">ρ = 0.95</text>
<rect x="868.5" y="1046.7" width="539.0" height="352.3" fill="#eaeaf2"/>
<path d="M892.4 1046.7V1399M983.5 1046.7V1399M1074.6 1046.7V1399M1165.6 1046.7V1399M1256.7 1046.7V1399M1347.8 1046.7V1399M868.5 1384.4H1407.5M868.5 1312.2H1407.5M868.5 1240.1H1407.5M868.5 1168.0H1407.5M868.5 1095.8H1407.5" stroke="#fff" stroke-width="1.7" fill="none"/>
<svg x="868.5" y="1046.7" width="539.0" height="352.3" viewBox="868.5 1046.7 539.0 352.3" overflow="hidden">
<polyline fill="none" stroke="none" marker-start="url(#dot)" marker-mid="url(#dot)" marker-end="url(#dot)" points="1048.9,1276.6 979.9,1351.0 939.6,1361.5 1091.3,1223.6 1115.3,1258.5 976.2,1283.5 1090.0,1230.2 996.2,1294.2 1035.5,1293.1 980.1,1336.1 917.6,1373.8 1075.8,1275.2 970.6,1306.9 1011.3,1298.2 924.4,1336.1 976.7,1320.9 1059.9,1272.4 957.2,1335.5 992.3,1289.6 992.6,1299.6 1044.3,1288.4 1039.6,1269.2 1018.5,1318.2 905.4,1356.0 923.2,1373.2 998.0,1326.8 990.0,1281.5 1019.1,1316.0 998.7,1282.8 944.5,1316.8 919.1,1366.9 1014.5,1280.1 973.8,1336.7 938.9,1361.7 1033.6,1307.0 920.4,1341.0 964.9,1301.9 993.8,1297.0 967.9,1299.3 1014.5,1301.8 1060.4,1297.6 936.8,1357.1 987.6,1318.3 1013.5,1308.3 1013.6,1293.6 1010.2,1286.3 1023.0,1308.6 954.8,1320.1 988.7,1347.2 1113.2,1227.6 966.5,1322.2 990.0,1327.7 960.6,1315.8 937.5,1351.8 949.0,1357.3 990.6,1324.6 937.3,1336.4 1157.6,1212.7"/>
<polyline fill="none" stroke="none" marker-start="url(#dot1)" marker-mid="url(#dot1)" marker-end="url(#dot1)" points="927.1,1345.6 914.9,1363.6 929.6,1347.3 906.7,1356.6 933.7,1343.1 901.4,1381.7 913.6,1375.8 915.9,1369.7"/>
<polyline fill="none" stroke="none" marker-start="url(#dot2)" marker-mid="url(#dot2)" marker-end="url(#dot2)" points="901.6,1379.4 902.4,1380.0 908.7,1364.9 909.4,1366.9 911.2,1365.1 909.8,1361.4 898.2,1370.6 896.3,1382.0 894.7,1381.6 894.0,1373.9"/>
<polyline fill="none" stroke="none" marker-start="url(#dot3)" marker-mid="url(#dot3)" marker-end="url(#dot3)" points="895.6,1376.8 906.1,1373.1 902.7,1366.2 904.9,1367.2 904.8,1369.1 900.6,1379.5"/>
<polyline fill="none" stroke="none" marker-start="url(#dot4)" marker-mid="url(#dot4)" marker-end="url(#dot4)" points="896.7,1377.3 900.2,1374.4 898.8,1374.8 899.2,1373.2"/>
<polyline fill="none" stroke="none" marker-start="url(#dot)" marker-mid="url(#dot)" marker-end="url(#dot)" points="962.1,1312.3 955.1,1311.4 1100.4,1249.6 1058.7,1307.3 1047.0,1277.0 1023.8,1275.5 991.5,1329.3 1097.9,1216.5 1028.2,1299.6 977.3,1320.4 1018.1,1268.3 947.9,1349.5 972.3,1318.7 966.4,1319.6 950.9,1356.6 1014.2,1293.7 926.2,1372.3 969.1,1354.2 1087.6,1242.1 943.9,1348.5 1072.3,1292.3 1051.9,1249.4 1046.9,1308.0 930.6,1369.4 942.1,1366.5 925.2,1339.3 1127.1,1238.2 1053.2,1250.3 997.1,1287.3 921.4,1339.5 972.1,1336.4 1073.9,1277.4 1041.7,1276.8 1073.6,1265.3 1070.6,1274.7 932.8,1366.3 988.5,1328.2 954.0,1342.1 932.9,1370.1 956.4,1331.9 971.7,1338.0 932.6,1332.2 1019.5,1270.5 926.7,1332.5 978.7,1312.2 1012.5,1314.5 917.4,1376.6 1093.4,1210.4 937.4,1343.0 973.9,1329.0 967.1,1350.3 958.4,1340.9 957.5,1354.8 948.2,1342.9 979.1,1287.8 941.4,1333.1 991.0,1329.1 912.1,1377.8 967.2,1344.7 962.8,1329.4 1089.0,1232.7 969.8,1327.8 939.7,1360.1 973.9,1348.7 1069.4,1248.1 964.6,1319.7 1021.3,1257.9 957.1,1317.0 936.2,1352.2 1110.0,1259.2 941.9,1369.2"/>
<polyline fill="none" stroke="none" marker-start="url(#dot1)" marker-mid="url(#dot1)" marker-end="url(#dot1)" points="912.6,1372.3 924.5,1352.4 915.6,1370.7 951.3,1339.2 930.2,1346.0 918.6,1350.7"/>
<polyline fill="none" stroke="none" marker-start="url(#dot2)" marker-mid="url(#dot2)" marker-end="url(#dot2)" points="911.7,1363.4 898.1,1368.0 903.5,1362.3 904.5,1377.8"/>
<polyline fill="none" stroke="none" marker-start="url(#dot3)" marker-mid="url(#dot3)" marker-end="url(#dot3)" points="903.2,1373.3 895.6,1378.8"/>
<polyline fill="none" stroke="none" marker-start="url(#dot4)" marker-mid="url(#dot4)" marker-end="url(#dot4)" points="902.0,1373.5 902.7,1372.4 900.9,1374.0 903.0,1372.2"/>
<polyline fill="none" stroke="none" marker-start="url(#dot)" marker-mid="url(#dot)" marker-end="url(#dot)" points="963.4,1309.6 989.7,1346.6 1010.8,1306.3 946.1,1322.0 990.9,1303.5 928.1,1358.8 971.6,1323.3 917.7,1342.2 1013.1,1263.4 1093.4,1245.1 1033.7,1309.2 971.4,1326.0 983.4,1346.9 945.5,1360.8 1064.3,1247.3 1031.4,1319.3 1152.7,1212.3 1033.6,1308.7 1052.6,1260.1 958.1,1322.3 1057.7,1315.4 948.4,1356.2 932.8,1337.0 1012.1,1280.7 943.4,1338.1 1032.9,1308.4 1010.3,1333.5 934.0,1327.7 945.9,1358.6 1063.8,1230.3 950.1,1325.0 1069.5,1269.8 1044.8,1265.3 982.9,1290.1 955.7,1316.6 1061.5,1257.8 939.6,1342.6 1015.1,1300.9 962.3,1350.4 1015.1,1274.9 1061.7,1296.7 1001.7,1314.0 935.9,1336.6 984.2,1325.1 963.2,1312.8 953.4,1316.9 952.3,1348.6 1004.5,1304.0 965.1,1349.5 926.9,1330.6 951.4,1343.1 964.1,1303.8 1025.9,1278.5 1063.6,1277.4 949.2,1329.6 1013.8,1286.2 1060.4,1264.3 1033.6,1260.0 1052.9,1250.6 981.2,1334.4 930.2,1334.9 1118.8,1223.1 1088.5,1274.8 983.0,1287.9 945.6,1364.9 948.9,1333.0 1012.8,1287.8 980.0,1347.7 1057.6,1260.3 942.9,1361.2 1122.1,1240.8 973.2,1321.3 1014.4,1314.6 1007.2,1309.2"/>
<polyline fill="none" stroke="none" marker-start="url(#dot1)" marker-mid="url(#dot1)" marker-end="url(#dot1)" points="895.3,1382.9 919.2,1349.2"/>
<polyline fill="none" stroke="none" marker-start="url(#dot2)" marker-mid="url(#dot2)" marker-end="url(#dot2)" points="911.6,1361.1 893.4,1376.6 899.9,1367.8 910.8,1358.5 893.9,1379.2 893.2,1379.6"/>
<polyline fill="none" stroke="none" marker-start="url(#dot3)" marker-mid="url(#dot3)" marker-end="url(#dot3)" points="907.2,1368.3 896.6,1379.7 898.7,1380.2 904.1,1369.0"/>
<polyline fill="none" stroke="none" marker-start="url(#dot4)" marker-mid="url(#dot4)" marker-end="url(#dot4)" points="898.2,1377.6 898.2,1377.6"/>
<polyline fill="none" stroke="none" marker-start="url(#dot)" marker-mid="url(#dot)" marker-end="url(#dot)" points="941.8,1330.0 998.1,1281.5 1108.8,1232.3 1042.6,1310.2 1121.5,1224.3 1035.4,1273.5 950.5,1340.2 958.1,1336.5 994.1,1321.8 964.8,1350.4 1070.1,1267.8 1103.9,1236.1 975.8,1340.0 1008.9,1296.0 998.7,1309.8 1001.3,1320.5 1051.3,1288.9 981.7,1350.5 1130.5,1240.9 978.0,1335.6 949.5,1321.2 958.7,1332.8 1011.9,1291.0 926.0,1331.0 972.7,1344.0 1018.1,1296.2 928.1,1359.9 932.0,1351.7 948.1,1353.7 1080.0,1275.3 938.4,1326.6 913.7,1376.0 999.3,1305.7 991.0,1283.7 920.9,1363.2 965.5,1312.4 951.3,1317.3 910.1,1379.1 918.2,1374.1 1011.9,1303.1 1016.5,1261.6 959.3,1310.5 1044.1,1256.1 969.3,1328.3 987.0,1331.7 984.3,1327.0 1010.6,1306.1 1070.2,1290.7 1074.3,1280.8 924.5,1340.4 925.8,1362.0 1020.3,1298.5 949.1,1320.4 997.2,1313.2 1110.5,1251.5 1021.6,1323.5 921.0,1361.2 1110.4,1242.7 926.6,1363.1 962.6,1316.4 1104.6,1258.0 1031.6,1261.3 1052.1,1244.0 1080.3,1273.2 962.7,1321.6 1044.6,1245.6 1016.1,1261.3 939.7,1358.4 1053.8,1310.2"/>
<polyline fill="none" stroke="none" marker-start="url(#dot1)" marker-mid="url(#dot1)" marker-end="url(#dot1)" points="914.5,1349.1 923.7,1358.4 928.1,1344.3 915.0,1356.6 924.1,1355.2 915.6,1373.5"/>
<polyline fill="none" stroke="none" marker-start="url(#dot2)" marker-mid="url(#dot2)" marker-end="url(#dot2)" points="908.1,1362.5 911.3,1364.3 894.2,1378.3 909.8,1359.2 908.0,1362.3 910.6,1372.3"/>
<polyline fill="none" stroke="none" marker-start="url(#dot3)" marker-mid="url(#dot3)" marker-end="url(#dot3)" points="900.8,1378.8 907.3,1368.1 907.1,1367.4"/>
<polyline fill="none" stroke="none" marker-start="url(#dot4)" marker-mid="url(#dot4)" marker-end="url(#dot4)" points="898.5,1377.2 903.7,1370.7"/>
<polyline fill="none" stroke="none" marker-start="url(#dot)" marker-mid="url(#dot)" marker-end="url(#dot)" points="953.8,1336.7 1143.2,1218.0 1096.4,1224.7 978.4,1295.0 893.7,1384.7 1043.1,1281.1 947.2,1359.2 1067.4,1264.7 1088.7,1269.5 922.6,1369.0 1152.9,1220.1 942.2,1351.5 1108.3,1248.6 998.9,1276.5 935.5,1351.5 1056.8,1283.5 975.4,1296.4 1124.7,1223.8 930.3,1337.2 943.1,1350.7 959.4,1334.4 1039.8,1250.8 992.3,1317.5 932.2,1351.6 932.7,1359.5 1020.4,1290.9 1046.0,1289.8 1113.1,1246.1 935.8,1368.1 955.9,1323.9 986.4,1291.6 916.5,1373.6 990.8,1304.1 936.7,1342.1 937.3,1359.1 1014.5,1326.9 1001.8,1337.0 1015.1,1279.3 938.5,1322.7 1117.9,1224.0 1085.4,1257.5 1035.4,1247.8 945.0,1356.3 942.3,1322.3 973.2,1315.2 1067.7,1295.5 1042.7,1277.7 1017.2,1303.6 938.9,1353.9 948.9,1316.8 979.4,1306.6 996.9,1329.0 934.1,1356.1 966.6,1349.7 1024.2,1281.8 1056.8,1277.6 903.2,1356.9 1082.2,1291.6 1027.7,1296.3 942.7,1346.7 1054.8,1263.7 960.7,1344.5 936.5,1362.6 1029.5,1303.3 1019.2,1286.8"/>
<polyline fill="none" stroke="none" marker-start="url(#dot1)" marker-mid="url(#dot1)" marker-end="url(#dot1)" points="899.1,1363.6 925.3,1347.4 911.5,1374.8 932.5,1346.6 911.6,1352.7 914.3,1349.0 955.1,1338.7 921.3,1350.7 911.9,1374.7"/>
<polyline fill="none" stroke="none" marker-start="url(#dot2)" marker-mid="url(#dot2)" marker-end="url(#dot2)" points="900.0,1367.4 908.2,1373.0 898.1,1369.4 912.1,1363.7"/>
<polyline fill="none" stroke="none" marker-start="url(#dot3)" marker-mid="url(#dot3)" marker-end="url(#dot3)" points="903.1,1374.3 901.9,1374.7 901.6,1375.8 906.2,1369.7 903.7,1376.1 902.9,1365.5"/>
<polyline fill="none" stroke="none" marker-start="url(#dot4)" marker-mid="url(#dot4)" marker-end="url(#dot4)" points="904.4,1371.3 901.6,1370.8 903.7,1371.9"/>
<polyline fill="none" stroke="none" marker-start="url(#dot)" marker-mid="url(#dot)" marker-end="url(#dot)" points="918.0,1378.7 1047.6,1269.6 929.0,1364.5 992.1,1283.2 1071.4,1267.0 1075.6,1270.6 917.9,1342.1 1074.5,1269.5 969.7,1316.7 937.0,1330.4 1006.4,1304.1 1044.5,1247.0 963.5,1321.2 981.3,1327.6 1048.7,1284.7 964.5,1316.5 967.9,1345.1 913.1,1377.6 945.5,1356.3 1008.2,1290.1 970.5,1331.7 1011.5,1307.6 952.7,1345.3 1078.0,1264.0 958.8,1326.2 1072.3,1276.3 1038.2,1250.5 1006.2,1279.8 1028.5,1299.2 1031.6,1315.8 1030.1,1295.6 985.5,1304.9 957.2,1320.3 922.7,1334.6 1087.7,1275.5 910.1,1350.8 1059.7,1237.2 1053.0,1294.6 937.4,1356.5 939.8,1360.7 1000.4,1317.5 1063.3,1270.1 945.1,1328.9 968.5,1316.2 1024.8,1313.6 978.0,1309.1 1153.0,1226.2 979.9,1340.2 1106.0,1228.3 931.1,1362.1 1040.6,1290.8 944.5,1363.7 961.0,1362.2 975.3,1342.5 1090.2,1255.1 1104.9,1215.0 978.1,1332.8 1019.6,1276.4 1042.4,1293.7 1020.0,1297.7 923.5,1362.8 950.2,1332.4"/>
<polyline fill="none" stroke="none" marker-start="url(#dot1)" marker-mid="url(#dot1)" marker-end="url(#dot1)" points="908.9,1354.4 899.7,1362.8 926.3,1343.7 893.3,1383.3 927.5,1344.3 898.6,1364.9 908.2,1379.8 902.6,1381.5 927.7,1345.2 919.8,1348.2 913.5,1355.4 907.0,1354.7 915.6,1353.0 922.6,1360.3 906.7,1379.5 897.8,1366.3 925.1,1348.6 922.5,1351.8 920.1,1352.8 897.9,1366.4 930.7,1351.0"/>
<polyline fill="none" stroke="none" marker-start="url(#dot2)" marker-mid="url(#dot2)" marker-end="url(#dot2)" points="913.3,1360.1 902.2,1364.3 902.4,1379.4"/>
<polyline fill="none" stroke="none" marker-start="url(#dot3)" marker-mid="url(#dot3)" marker-end="url(#dot3)" points="908.2,1367.1 908.2,1367.1"/>
<polyline fill="none" stroke="none" marker-start="url(#dot)" marker-mid="url(#dot)" marker-end="url(#dot)" points="1045.7,1272.4 988.2,1329.0 930.3,1353.3 1038.0,1257.2 988.1,1335.3 1066.5,1268.8 954.6,1351.8 1002.0,1276.9 998.5,1318.3 976.5,1344.0 1084.3,1245.4 1067.7,1298.7 1081.6,1274.1 968.1,1354.4 969.3,1340.6 1031.4,1285.6 970.6,1299.1 1027.1,1276.2 1094.2,1275.5 942.5,1321.7 962.4,1313.5 957.6,1312.2 1067.5,1283.5 928.0,1356.7 950.7,1322.9 1132.4,1230.6 942.0,1346.8 940.0,1362.1 950.5,1312.0 1083.1,1274.9 981.1,1322.3 923.9,1336.4 960.1,1319.3 1045.2,1244.3 920.7,1339.6 1091.4,1218.2 1051.9,1265.6 970.7,1342.4 956.0,1345.5 1103.2,1250.9 1052.0,1275.2 986.5,1329.4 998.8,1303.0 1087.5,1282.8 1044.6,1246.6 1057.7,1274.0 1000.0,1286.3 953.7,1308.9 1092.9,1237.6 1040.3,1288.8 929.7,1362.1 1103.6,1216.9 963.3,1306.2 1116.8,1238.4 974.6,1346.5 1050.0,1310.0 967.2,1343.3 1099.0,1244.4 1071.4,1229.6 1102.9,1252.4 935.6,1325.2 1087.8,1276.1 1014.4,1310.5 953.1,1339.1 947.7,1334.2 991.2,1314.8 954.8,1341.2 1124.6,1245.1 1037.3,1236.8 972.0,1337.1 1107.9,1238.3"/>
<polyline fill="none" stroke="none" marker-start="url(#dot1)" marker-mid="url(#dot1)" marker-end="url(#dot1)" points="913.3,1360.4 909.4,1355.0 930.0,1344.5 951.4,1338.2 921.4,1356.5 928.7,1345.2 908.0,1379.8 913.3,1355.9 915.9,1358.0 916.1,1353.5 919.2,1360.6"/>
<polyline fill="none" stroke="none" marker-start="url(#dot2)" marker-mid="url(#dot2)" marker-end="url(#dot2)" points="899.4,1382.5 899.4,1382.5"/>
<polyline fill="none" stroke="none" marker-start="url(#dot3)" marker-mid="url(#dot3)" marker-end="url(#dot3)" points="902.1,1375.3 905.4,1369.8"/>
<polyline fill="none" stroke="none" marker-start="url(#dot4)" marker-mid="url(#dot4)" marker-end="url(#dot4)" points="897.8,1377.9 897.8,1377.9"/>
<polyline fill="none" stroke="none" marker-start="url(#dot)" marker-mid="url(#dot)" marker-end="url(#dot)" points="1156.9,1223.2 963.6,1327.7 970.6,1347.1 988.3,1314.4 964.4,1350.0 1112.8,1231.3 1006.5,1266.4 946.0,1341.6 979.6,1339.9 1044.6,1276.6 960.3,1312.2 1023.5,1327.5 958.0,1335.6 970.3,1346.1 1089.8,1254.0 950.5,1308.3 910.0,1380.5 1135.7,1237.5 893.8,1384.3 992.8,1281.4 941.2,1324.8 958.0,1309.3 916.0,1376.4 1141.3,1223.6 969.9,1320.2 1068.9,1280.0 1096.1,1267.3 1053.4,1298.4 1017.4,1280.9 1148.3,1218.7 926.0,1339.3 969.0,1301.7 944.8,1328.3 998.5,1329.4 946.6,1346.0 936.3,1339.4 964.9,1333.5 1055.1,1270.1 939.4,1338.7 1122.6,1248.9 1109.9,1236.6 934.4,1338.8 931.0,1355.5 959.7,1323.2 1119.5,1248.0 1044.9,1310.8 909.0,1351.4 970.3,1319.2 1042.2,1270.4 956.8,1329.6 977.4,1306.5 948.6,1347.9 925.8,1332.9 1115.6,1234.9 977.2,1341.5 995.4,1313.8 1019.1,1297.4 1015.2,1268.8 925.0,1362.7 991.9,1300.0 952.0,1321.4 925.5,1364.1 952.8,1359.0 925.7,1360.9 987.6,1305.4"/>
<polyline fill="none" stroke="none" marker-start="url(#dot1)" marker-mid="url(#dot1)" marker-end="url(#dot1)" points="901.6,1382.1 920.5,1349.0 954.0,1332.1 928.1,1352.9 915.3,1359.4 906.1,1358.7 894.1,1383.8 912.4,1356.4 919.3,1352.2 919.9,1351.2"/>
<polyline fill="none" stroke="none" marker-start="url(#dot2)" marker-mid="url(#dot2)" marker-end="url(#dot2)" points="908.3,1363.4 893.8,1374.9 894.0,1374.2 897.1,1371.5 910.6,1362.6 909.2,1361.0 895.8,1373.0"/>
<polyline fill="none" stroke="none" marker-start="url(#dot3)" marker-mid="url(#dot3)" marker-end="url(#dot3)" points="907.6,1370.5 905.7,1370.8 903.5,1375.7"/>
<polyline fill="none" stroke="none" marker-start="url(#dot4)" marker-mid="url(#dot4)" marker-end="url(#dot4)" points="898.8,1372.7 896.5,1377.4"/>
<polyline fill="none" stroke="none" marker-start="url(#dot)" marker-mid="url(#dot)" marker-end="url(#dot)" points="969.1,1340.5 941.9,1348.2 955.0,1336.9 939.8,1336.5 1077.6,1240.2 1067.0,1258.0 924.6,1359.7 1069.3,1259.2 939.1,1359.1 1051.7,1244.8 980.3,1324.6 1113.3,1261.6 995.6,1293.8 972.0,1339.6 976.2,1313.3 964.1,1358.6 981.9,1306.5 1003.4,1316.4 944.5,1363.6 1077.2,1245.3 982.3,1296.6 1045.9,1266.2 1004.6,1287.4 992.2,1340.0 955.4,1361.0 1028.0,1269.7 1061.1,1280.9 1035.6,1315.6 938.5,1328.6 949.2,1330.2 966.1,1341.0 962.4,1337.8 927.8,1359.7 924.8,1339.0 1002.0,1341.6 967.2,1337.3 924.3,1373.6 952.0,1358.1 994.4,1283.4 949.8,1348.9 981.0,1311.2 1004.4,1314.1 1003.7,1307.7 960.0,1312.3 1039.6,1280.9 962.4,1309.0 940.8,1343.3 906.4,1351.8 942.7,1358.9 992.2,1305.0 976.4,1329.3 989.3,1337.3 1031.1,1256.7 962.2,1296.0 933.6,1335.4 951.1,1315.4 911.8,1349.9 943.4,1351.9 1043.7,1271.9 1053.2,1261.2 1028.4,1301.6 971.2,1293.9"/>
<polyline fill="none" stroke="none" marker-start="url(#dot1)" marker-mid="url(#dot1)" marker-end="url(#dot1)" points="922.7,1355.8 904.2,1358.0 913.0,1360.3 928.4,1350.4 928.0,1343.1 936.6,1342.9 917.1,1356.2 914.4,1374.6 918.8,1351.3 927.9,1336.5"/>
<polyline fill="none" stroke="none" marker-start="url(#dot2)" marker-mid="url(#dot2)" marker-end="url(#dot2)" points="924.0,1348.5 911.0,1370.1 896.6,1383.0 909.4,1374.0 912.7,1365.2 893.5,1375.7 908.4,1369.6 898.4,1382.8 912.4,1370.6 894.9,1380.7 905.4,1361.4 909.8,1364.6"/>
<polyline fill="none" stroke="none" marker-start="url(#dot3)" marker-mid="url(#dot3)" marker-end="url(#dot3)" points="902.2,1374.1 902.2,1374.1"/>
<polyline fill="none" stroke="none" marker-start="url(#dot4)" marker-mid="url(#dot4)" marker-end="url(#dot4)" points="898.1,1377.6 899.9,1377.1"/>
<polyline fill="none" stroke="none" marker-start="url(#dot)" marker-mid="url(#dot)" marker-end="url(#dot)" points="940.4,1335.4 970.0,1341.0 939.1,1338.3 1082.1,1254.3 1042.3,1281.8 978.8,1298.4 1026.5,1322.8 1142.8,1227.1 983.2,1329.2 938.4,1329.0 997.3,1301.0 996.5,1294.2 959.1,1313.5 1019.9,1327.7 1024.3,1274.9 944.3,1366.0 958.8,1359.7 1012.2,1318.2 915.3,1375.3 1002.4,1299.3 996.3,1281.9 937.5,1322.3 949.5,1322.9 1012.7,1269.7 1012.4,1270.9 965.2,1327.7 992.8,1336.7 1000.2,1295.7 957.3,1325.3 953.7,1356.5 1027.8,1254.5 1084.5,1221.6 909.2,1351.0 1064.5,1300.4 1008.3,1313.7 978.4,1309.6 993.6,1333.0 968.8,1316.4 939.6,1344.3 1110.7,1234.5 1053.7,1294.4 956.3,1322.1 961.1,1311.8 1043.7,1275.5 930.9,1370.5 970.8,1307.8 986.7,1312.0 925.7,1341.5 1082.5,1287.7 976.4,1325.0 1038.3,1278.6 1053.2,1291.5 962.9,1352.9 917.7,1335.9 1030.4,1259.2 1002.0,1317.0 977.4,1322.3 936.2,1351.0 970.1,1351.2 1084.8,1226.7 1100.2,1271.0 966.6,1311.1 923.7,1366.9 993.7,1325.5 929.2,1355.8 966.9,1335.3 948.4,1348.5 971.0,1336.8"/>
<polyline fill="none" stroke="none" marker-start="url(#dot1)" marker-mid="url(#dot1)" marker-end="url(#dot1)" points="922.9,1348.3 919.4,1351.6 925.7,1352.5 917.0,1353.0 906.7,1360.1 903.1,1380.4 918.8,1357.8 927.4,1352.9 912.8,1360.5"/>
<polyline fill="none" stroke="none" marker-start="url(#dot2)" marker-mid="url(#dot2)" marker-end="url(#dot2)" points="909.0,1374.3 899.5,1366.0"/>
<polyline fill="none" stroke="none" marker-start="url(#dot3)" marker-mid="url(#dot3)" marker-end="url(#dot3)" points="903.2,1374.6 900.7,1379.7"/>
<polyline fill="none" stroke="none" marker-start="url(#dot4)" marker-mid="url(#dot4)" marker-end="url(#dot4)" points="902.1,1373.8 903.2,1370.0 898.6,1376.5 901.1,1376.6 899.9,1378.0"/>
<polyline fill="none" stroke="none" marker-start="url(#dot)" marker-mid="url(#dot)" marker-end="url(#dot)" points="985.8,1317.8 936.4,1345.7 988.8,1305.3 920.8,1364.7 1099.0,1269.1 950.9,1347.4 1122.3,1235.1 1075.0,1235.8 951.7,1317.5 949.5,1346.4 943.6,1328.7 1013.1,1296.6 1042.5,1257.7 954.3,1318.3 1028.6,1305.1 1037.4,1247.6 974.3,1351.9 917.5,1381.1 950.7,1336.3 1057.1,1304.6 1092.3,1225.8 938.7,1343.1 905.6,1352.4 978.8,1308.5 935.0,1339.2 1052.8,1299.7 1105.9,1247.4 1007.0,1336.3 944.2,1356.7 948.3,1343.4 947.9,1339.5 1046.5,1236.6 953.3,1349.5 1086.1,1267.2 1092.4,1237.1 937.9,1330.9 977.8,1337.5 1117.2,1218.8 939.6,1323.8 953.6,1328.3 994.4,1305.7 916.4,1342.0 1020.4,1314.4 943.6,1323.8 1050.1,1263.0 1111.8,1252.7 983.0,1332.9 968.4,1344.7 1014.4,1311.8 935.3,1346.2 971.9,1293.5 949.2,1330.3 982.4,1309.1 943.2,1334.9 944.5,1336.3 1014.2,1309.7 1097.4,1273.3 971.1,1343.5 935.3,1346.2 1035.4,1258.7 968.2,1310.6 1003.3,1302.9 942.0,1355.7 913.1,1380.9 919.4,1339.6"/>
<polyline fill="none" stroke="none" marker-start="url(#dot1)" marker-mid="url(#dot1)" marker-end="url(#dot1)" points="926.5,1352.1 927.6,1349.4 920.4,1350.4 920.0,1352.7 901.0,1362.8 900.3,1363.8 913.9,1359.9 915.5,1371.9 925.2,1342.0 923.1,1351.6 913.1,1360.7 927.5,1340.9 914.3,1368.6"/>
<polyline fill="none" stroke="none" marker-start="url(#dot2)" marker-mid="url(#dot2)" marker-end="url(#dot2)" points="908.4,1371.7 904.7,1378.1"/>
<polyline fill="none" stroke="none" marker-start="url(#dot3)" marker-mid="url(#dot3)" marker-end="url(#dot3)" points="894.8,1379.7 907.2,1372.3 901.6,1368.5 907.8,1369.4 900.5,1371.0"/>
<polyline fill="none" stroke="none" marker-start="url(#dot4)" marker-mid="url(#dot4)" marker-end="url(#dot4)" points="902.1,1369.4 903.2,1371.1"/>
<polyline fill="none" stroke="none" marker-start="url(#dot)" marker-mid="url(#dot)" marker-end="url(#dot)" points="901.5,1384.6 996.9,1310.7 951.1,1312.5 1038.2,1253.0 1037.0,1279.7 948.1,1351.3 1060.5,1300.3 942.6,1362.4 931.1,1330.4 973.6,1349.0 996.1,1323.2 977.2,1310.4 1126.2,1219.9 944.0,1322.8 966.3,1319.5 1020.1,1251.4 967.5,1321.6 946.3,1320.2 1072.9,1265.4 1043.5,1301.7 1039.7,1244.5 980.9,1297.7 920.5,1364.6 1119.6,1223.7 1007.5,1281.8 1034.7,1330.0 1057.6,1257.0 949.3,1348.6 1117.5,1240.7 1084.0,1232.4 979.9,1313.5 993.7,1311.2 957.8,1325.5 939.1,1341.5 991.7,1312.2 1025.2,1322.6 1052.1,1305.7 1070.1,1239.5 1014.4,1271.2 995.1,1318.1 1010.7,1332.2 972.1,1309.2 988.7,1328.1 1051.0,1273.0 1062.4,1287.7 965.8,1356.0 932.6,1363.4 994.9,1341.2 942.6,1330.7 974.7,1344.2 985.6,1285.8 940.1,1353.2 924.0,1340.2 1001.4,1274.5 990.7,1311.6 959.4,1314.4 1143.6,1215.9 975.3,1353.3 1041.7,1264.3 985.4,1316.8 918.5,1365.5 1072.7,1246.8 1071.2,1227.7 968.7,1348.5"/>
<polyline fill="none" stroke="none" marker-start="url(#dot1)" marker-mid="url(#dot1)" marker-end="url(#dot1)" points="918.5,1351.1 932.1,1350.7 914.2,1371.4 921.3,1343.9 913.8,1359.7 912.3,1376.1 928.3,1347.2 926.5,1340.8 902.2,1361.4"/>
<polyline fill="none" stroke="none" marker-start="url(#dot2)" marker-mid="url(#dot2)" marker-end="url(#dot2)" points="893.8,1379.8 907.1,1376.1 912.8,1368.1 909.7,1366.7 906.5,1376.9"/>
<polyline fill="none" stroke="none" marker-start="url(#dot3)" marker-mid="url(#dot3)" marker-end="url(#dot3)" points="903.4,1375.8 904.0,1368.1 903.6,1376.1 907.2,1368.5 900.0,1368.5 905.2,1373.5 908.7,1366.2"/>
<polyline fill="none" stroke="none" marker-start="url(#dot4)" marker-mid="url(#dot4)" marker-end="url(#dot4)" points="902.2,1373.5 901.4,1375.6"/>
<polyline fill="none" stroke="none" marker-start="url(#dot)" marker-mid="url(#dot)" marker-end="url(#dot)" points="1026.1,1301.7 916.0,1376.1 1078.1,1267.0 1049.5,1271.0 1118.3,1246.0 951.9,1302.6 1031.8,1284.4 1019.8,1268.7 899.8,1384.3 993.9,1300.5 1107.0,1268.5 963.4,1323.5 988.5,1318.4 1019.4,1299.3 944.6,1359.5 1024.4,1280.1 1070.2,1234.2 928.6,1374.7 954.0,1327.6 1038.5,1245.1 955.6,1335.3 1007.6,1313.4 1017.5,1267.3 938.5,1346.1 962.5,1343.3 989.6,1333.2 1000.8,1293.6 961.7,1311.4 1009.5,1265.5 932.5,1327.0 935.9,1324.9 989.9,1290.2 1017.0,1278.3 1003.7,1320.1 950.5,1352.1 974.2,1306.4 1020.9,1323.3 993.0,1321.4 969.6,1310.4 929.8,1332.6 1101.1,1222.1 956.5,1319.9 1013.9,1280.7 952.7,1330.7 964.7,1356.6 1031.8,1319.5 947.9,1313.7 921.5,1374.6 1010.3,1289.7 1027.3,1295.1 973.7,1306.9 941.0,1318.3 935.4,1367.3 1094.2,1262.6 934.6,1362.9 1109.6,1232.9 943.2,1331.8 973.7,1305.4 997.2,1301.8 949.8,1333.8 1129.9,1220.3 924.4,1341.4 1061.5,1259.5 1023.2,1288.4 1073.3,1248.2 1028.0,1318.1 911.7,1348.9 915.2,1342.6 1060.9,1305.1 949.7,1355.5 966.1,1353.8"/>
<polyline fill="none" stroke="none" marker-start="url(#dot1)" marker-mid="url(#dot1)" marker-end="url(#dot1)" points="912.9,1354.4 904.2,1360.7 896.8,1368.6 955.0,1339.4 916.8,1351.1 927.1,1346.1 917.6,1356.3 901.3,1361.7 901.2,1361.9 918.3,1349.0"/>
<polyline fill="none" stroke="none" marker-start="url(#dot2)" marker-mid="url(#dot2)" marker-end="url(#dot2)" points="893.2,1377.9 902.4,1379.5"/>
<polyline fill="none" stroke="none" marker-start="url(#dot3)" marker-mid="url(#dot3)" marker-end="url(#dot3)" points="895.8,1376.3 902.4,1378.2"/>
<polyline fill="none" stroke="none" marker-start="url(#dot4)" marker-mid="url(#dot4)" marker-end="url(#dot4)" points="897.0,1376.4 897.0,1376.4"/>
<polyline fill="none" stroke="none" marker-start="url(#dot)" marker-mid="url(#dot)" marker-end="url(#dot)" points="1015.3,1301.2 971.7,1336.2 1041.2,1289.5 1050.9,1267.2 936.0,1347.4 988.6,1299.9 924.8,1371.9 941.4,1366.5 1059.8,1291.4 993.7,1324.0 991.7,1281.7 1096.3,1261.3 1059.6,1274.4 1025.4,1295.8 914.3,1344.7 1026.4,1306.6 957.7,1343.2 1034.8,1312.1 1012.1,1307.6 986.8,1308.2 994.0,1278.2 995.5,1284.2 973.3,1331.9 1120.3,1217.2 1029.8,1318.1 1003.7,1288.2 983.3,1330.9 1053.0,1246.8 925.2,1365.6 928.6,1335.9 1007.3,1333.5 942.4,1324.5 1033.8,1296.7 1079.6,1256.3 908.3,1349.8 978.2,1343.2 1070.3,1226.8 954.9,1344.5 999.5,1339.3 1017.7,1295.5 944.9,1348.7 971.0,1333.5 1052.9,1255.4 934.0,1361.0 968.8,1321.8 973.5,1282.7 1011.0,1257.6 954.7,1328.3 913.2,1348.6 1091.6,1266.7 949.7,1318.2 1052.3,1284.7 922.2,1360.2 1008.7,1329.8 960.9,1297.8 977.5,1315.7 984.4,1283.9 981.2,1304.2 1002.6,1318.9 955.7,1351.2 1149.1,1226.1 1040.6,1303.8 970.4,1345.3 1006.4,1283.5 1015.3,1305.3 938.4,1327.6 997.4,1328.1 991.3,1299.3 960.9,1316.1 1035.7,1253.9 973.1,1298.4"/>
<polyline fill="none" stroke="none" marker-start="url(#dot1)" marker-mid="url(#dot1)" marker-end="url(#dot1)" points="929.0,1345.7 894.0,1383.4 918.3,1358.9 913.0,1358.2 920.9,1345.2 926.3,1355.0 915.5,1372.4 929.9,1345.5 908.5,1353.2 930.4,1349.8"/>
<polyline fill="none" stroke="none" marker-start="url(#dot2)" marker-mid="url(#dot2)" marker-end="url(#dot2)" points="894.4,1382.3 909.2,1366.8"/>
<polyline fill="none" stroke="none" marker-start="url(#dot3)" marker-mid="url(#dot3)" marker-end="url(#dot3)" points="904.0,1373.0 901.3,1368.8 899.3,1370.9 907.9,1370.2"/>
<polyline fill="none" stroke="none" marker-start="url(#dot)" marker-mid="url(#dot)" marker-end="url(#dot)" points="946.0,1328.7 1079.0,1237.8 980.7,1293.3 986.1,1309.3 1033.5,1269.1 905.8,1384.6 1025.2,1295.7 1102.2,1252.7 967.4,1335.3 949.9,1348.8 958.8,1332.9 977.8,1334.7 976.2,1314.6 989.7,1326.8 990.3,1324.2 951.6,1329.1 1044.0,1243.0 975.8,1326.6 1051.0,1272.9 941.4,1332.8 1015.8,1262.5 974.6,1305.4 930.4,1336.5 985.9,1325.5 944.2,1348.4 989.8,1294.8 989.2,1318.0 954.7,1307.3 957.7,1358.6 920.1,1371.1 1118.9,1226.8 932.0,1357.5 987.4,1284.0 1116.9,1229.5 1012.5,1298.8 977.7,1327.9 1064.7,1246.2 966.8,1355.6 970.1,1302.8 931.3,1338.4 1049.1,1261.5 1122.0,1236.3 1012.1,1321.2 963.7,1323.7 1013.0,1307.6 1154.2,1224.0 1046.7,1305.1 955.7,1321.0 1027.1,1289.0 1044.9,1291.7 972.9,1300.0 1001.7,1332.0 1010.9,1308.8 1108.4,1245.5 993.1,1281.7 1023.7,1293.2 1044.4,1256.8 989.0,1301.1 927.0,1332.7 1042.4,1278.6 1071.5,1293.5 1020.7,1295.0 974.1,1308.5 1037.9,1260.5 926.4,1367.4 1045.0,1280.0 1035.1,1256.9 995.7,1341.2"/>
<polyline fill="none" stroke="none" marker-start="url(#dot1)" marker-mid="url(#dot1)" marker-end="url(#dot1)" points="931.8,1344.1 921.3,1346.2 927.8,1351.8 925.2,1355.5 934.2,1346.5 904.8,1380.7 905.6,1359.7 927.9,1347.5 924.5,1352.3 925.4,1341.8"/>
<polyline fill="none" stroke="none" marker-start="url(#dot2)" marker-mid="url(#dot2)" marker-end="url(#dot2)" points="893.1,1377.9 912.5,1370.2 904.1,1363.8 893.2,1376.9"/>
<polyline fill="none" stroke="none" marker-start="url(#dot3)" marker-mid="url(#dot3)" marker-end="url(#dot3)" points="896.0,1376.4 904.7,1372.1 907.9,1370.0 903.4,1367.8 896.3,1373.6"/>
<polyline fill="none" stroke="none" marker-start="url(#dot)" marker-mid="url(#dot)" marker-end="url(#dot)" points="992.1,1318.6 959.9,1318.2 968.9,1340.9 961.5,1345.6 961.0,1330.4 967.5,1330.5 1072.7,1264.4 992.9,1311.6 977.7,1338.0 943.4,1317.1 1003.7,1308.9 997.9,1341.1 1084.2,1262.4 1005.0,1322.7 1039.7,1256.5 1085.5,1261.4 1011.8,1282.6 1087.2,1253.2 998.1,1322.9 941.8,1345.6 1092.2,1234.4 1039.8,1244.6 1126.5,1238.6 942.4,1338.2 953.1,1362.0 964.7,1333.8 900.2,1362.2 1112.7,1239.5 1099.5,1246.9 1019.9,1304.8 972.0,1323.9 943.4,1351.6 944.7,1316.0 939.1,1344.6 949.5,1364.0 1001.7,1311.4 963.4,1355.2 998.4,1320.0 935.3,1354.7 956.9,1342.6 1091.8,1283.8 1032.8,1258.9 1153.8,1213.5 944.1,1363.0 1055.0,1265.6 995.1,1302.9 1148.6,1224.8 945.7,1317.1 973.7,1297.9 1122.9,1237.6 947.0,1337.4 938.7,1342.9 1009.7,1287.7 1008.7,1266.7 936.1,1375.4 1007.1,1287.7 1029.4,1287.3 1096.1,1259.3 988.8,1292.7 1048.7,1296.2 1021.7,1279.1 932.6,1339.0 938.7,1348.7 947.5,1354.3 1039.3,1297.1 1039.4,1308.9"/>
<polyline fill="none" stroke="none" marker-start="url(#dot1)" marker-mid="url(#dot1)" marker-end="url(#dot1)" points="908.2,1355.3 905.8,1358.9 924.2,1353.8 908.6,1354.0 921.2,1346.2 908.1,1377.6 919.8,1350.9 916.6,1363.5 918.8,1346.7"/>
<polyline fill="none" stroke="none" marker-start="url(#dot2)" marker-mid="url(#dot2)" marker-end="url(#dot2)" points="909.7,1366.6 906.9,1362.8 908.4,1361.6 910.9,1365.4 894.6,1381.4 911.0,1362.8 908.4,1372.1 911.9,1364.5"/>
<polyline fill="none" stroke="none" marker-start="url(#dot3)" marker-mid="url(#dot3)" marker-end="url(#dot3)" points="894.8,1378.3 894.8,1378.3"/>
<polyline fill="none" stroke="none" marker-start="url(#dot4)" marker-mid="url(#dot4)" marker-end="url(#dot4)" points="898.1,1373.9 898.2,1374.1"/>
<polyline fill="none" stroke="none" marker-start="url(#dot)" marker-mid="url(#dot)" marker-end="url(#dot)" points="941.0,1326.1 1031.6,1321.7 1098.0,1277.6 987.4,1321.1 983.0,1284.7 932.4,1360.7 1090.5,1269.0 941.0,1357.0 916.0,1376.8 974.1,1293.4 965.4,1337.2 1090.7,1264.0 971.6,1296.4 1018.7,1308.4 1065.7,1278.4 1043.1,1257.7 1057.9,1291.5 1062.0,1253.2 962.1,1345.0 926.9,1334.4 968.7,1340.3 968.8,1323.0 963.5,1335.7 1004.6,1286.4 950.1,1335.3 1031.0,1262.9 976.6,1327.4 1093.5,1256.9 986.6,1322.3 951.0,1322.7 975.2,1320.1 967.4,1306.5 1051.0,1285.7 974.5,1333.1 955.9,1314.2 930.7,1366.6 1045.8,1261.1 932.3,1323.6 982.0,1335.1 965.3,1356.7 962.5,1352.9 953.4,1335.5 956.8,1357.2 973.3,1353.2 1101.1,1252.6 980.4,1301.4 955.8,1327.1 914.0,1346.2 942.8,1320.1 1038.7,1315.6 1025.0,1279.2 1025.8,1270.1 959.3,1336.7 973.5,1323.0 964.2,1341.1 986.6,1311.5 1023.3,1326.9 966.4,1358.0 987.7,1305.6 986.8,1335.4 932.3,1365.4 1018.7,1320.4 995.0,1314.6 1017.3,1263.2 1035.1,1275.3 1104.0,1244.9 958.0,1331.9 1087.4,1273.3 998.9,1269.3"/>
<polyline fill="none" stroke="none" marker-start="url(#dot1)" marker-mid="url(#dot1)" marker-end="url(#dot1)" points="901.1,1361.3 917.1,1368.8 897.5,1364.6 922.8,1346.8 917.3,1349.5 915.7,1355.6 911.5,1354.6"/>
<polyline fill="none" stroke="none" marker-start="url(#dot2)" marker-mid="url(#dot2)" marker-end="url(#dot2)" points="909.2,1361.0 910.6,1357.6 923.1,1348.7 900.0,1366.1"/>
<polyline fill="none" stroke="none" marker-start="url(#dot3)" marker-mid="url(#dot3)" marker-end="url(#dot3)" points="905.4,1365.9 908.2,1369.1 905.9,1369.0 902.8,1373.3"/>
<polyline fill="none" stroke="none" marker-start="url(#dot4)" marker-mid="url(#dot4)" marker-end="url(#dot4)" points="898.2,1376.6 897.9,1376.2 899.9,1373.0"/>
<polyline fill="none" stroke="none" marker-start="url(#dot)" marker-mid="url(#dot)" marker-end="url(#dot)" points="1157.6,1224.4 1013.4,1255.9 961.5,1357.1 1012.1,1262.3 964.0,1350.3 1068.7,1254.4 1000.1,1330.6 915.5,1344.5 996.0,1294.6 1055.7,1311.4 1013.8,1297.9 917.2,1370.4 941.9,1335.5 945.8,1338.8 1097.6,1268.2 1004.0,1283.9 1068.0,1264.1 1043.2,1258.7 1015.5,1325.4 929.9,1326.3 993.2,1327.5 974.2,1329.1 945.9,1329.0 976.4,1317.2 1126.8,1246.5 924.9,1359.9 972.7,1318.9 944.1,1332.5 978.1,1288.5 945.2,1365.5 944.2,1349.4 954.6,1327.7 978.8,1291.3 950.1,1340.9 1042.2,1268.3 1037.9,1280.6 938.6,1326.8 1005.1,1318.0 1008.3,1288.8 1021.1,1320.1 968.5,1292.6 1088.8,1218.7 1045.2,1282.5 1023.6,1281.3 972.8,1316.4 933.6,1330.3 1023.7,1265.5 1087.5,1244.4 1017.8,1292.3 974.1,1318.8 997.4,1327.1 946.8,1329.2 1048.5,1269.4 998.9,1344.9 1087.5,1256.2 940.5,1324.3 936.0,1367.0 1027.6,1315.8 936.0,1330.0 1102.1,1254.4 1034.3,1289.1 939.7,1343.3 961.1,1341.2 1089.4,1279.6"/>
<polyline fill="none" stroke="none" marker-start="url(#dot1)" marker-mid="url(#dot1)" marker-end="url(#dot1)" points="953.1,1336.5 910.0,1355.3 911.0,1354.6 917.0,1368.6 904.7,1380.1 914.9,1361.5 911.1,1354.4 908.3,1376.9 898.0,1366.7 897.7,1368.4 927.3,1341.3"/>
<polyline fill="none" stroke="none" marker-start="url(#dot2)" marker-mid="url(#dot2)" marker-end="url(#dot2)" points="893.4,1380.2 907.7,1374.2 910.2,1371.9 893.0,1377.2 894.1,1379.5 896.2,1372.2 893.1,1380.9"/>
<polyline fill="none" stroke="none" marker-start="url(#dot3)" marker-mid="url(#dot3)" marker-end="url(#dot3)" points="906.0,1367.8 901.6,1366.6 894.9,1375.6"/>
<polyline fill="none" stroke="none" marker-start="url(#dot4)" marker-mid="url(#dot4)" marker-end="url(#dot4)" points="898.0,1374.0 898.1,1377.9"/>
<polyline fill="none" stroke="none" marker-start="url(#dot)" marker-mid="url(#dot)" marker-end="url(#dot)" points="920.8,1366.8 1092.7,1279.2 951.5,1334.1 950.8,1317.1 938.6,1340.4 1019.1,1291.8 1005.9,1286.8 1041.8,1276.5 962.6,1333.9 1026.7,1318.9 1109.5,1250.7 1026.0,1311.1 1018.7,1318.9 977.3,1311.5 946.8,1326.0 1008.5,1292.8 977.1,1297.4 998.9,1298.4 939.6,1355.6 1041.0,1291.0 942.4,1328.2 1043.7,1265.4 1148.0,1219.7 975.4,1291.9 1024.4,1278.6 975.8,1303.1 1018.8,1329.1 1000.9,1302.7 1095.2,1270.7 983.2,1289.6 923.6,1359.0 983.8,1321.7 1018.9,1269.7 1054.8,1270.4 1094.5,1242.7 936.3,1369.0 947.9,1336.1 1006.3,1295.8 996.6,1280.4 952.2,1343.2 1003.2,1296.0 930.1,1329.2 1076.1,1260.2 984.9,1304.2 1121.8,1227.0 1051.3,1265.7 1008.0,1300.6 995.3,1316.6 1151.4,1226.7 948.0,1347.2 940.8,1334.6 1005.3,1331.1 927.8,1335.4 930.1,1325.6 915.2,1345.6 988.3,1340.0 963.1,1304.7 949.1,1334.7 927.0,1337.8 958.4,1315.8 970.4,1342.4 1059.7,1261.6"/>
<polyline fill="none" stroke="none" marker-start="url(#dot1)" marker-mid="url(#dot1)" marker-end="url(#dot1)" points="931.7,1340.8 931.2,1340.7 911.1,1351.5 908.0,1377.5 908.6,1375.6 921.1,1351.6 916.6,1350.0 920.1,1350.2 901.0,1361.3 931.6,1345.6 915.5,1365.8"/>
<polyline fill="none" stroke="none" marker-start="url(#dot2)" marker-mid="url(#dot2)" marker-end="url(#dot2)" points="902.8,1364.6 905.2,1376.2 899.7,1381.7 893.4,1378.0 893.6,1376.8 901.6,1365.9 907.9,1359.4"/>
<polyline fill="none" stroke="none" marker-start="url(#dot3)" marker-mid="url(#dot3)" marker-end="url(#dot3)" points="907.7,1369.3 904.7,1373.6 895.8,1375.9 901.3,1379.2"/>
<polyline fill="none" stroke="none" marker-start="url(#dot4)" marker-mid="url(#dot4)" marker-end="url(#dot4)" points="897.0,1377.5 902.2,1369.8"/>
<polyline fill="none" stroke="none" marker-start="url(#dot)" marker-mid="url(#dot)" marker-end="url(#dot)" points="963.1,1331.2 977.8,1348.7 912.0,1348.7 973.0,1317.8 992.3,1297.4 1012.9,1309.4 968.8,1355.8 1033.4,1308.5 1057.6,1301.9 959.9,1345.7 949.4,1349.1 1062.0,1260.7 1054.5,1264.6 952.4,1326.2 969.0,1305.3 1113.1,1240.1 955.7,1361.5 984.8,1288.5 913.2,1348.7 968.4,1311.2 1156.3,1212.9 1015.6,1268.2 918.6,1363.3 1084.6,1230.3 951.4,1327.5 954.2,1360.8 1055.6,1294.3 1041.5,1315.9 937.4,1360.7 941.3,1325.3 951.8,1316.4 1113.5,1219.4 958.6,1338.6 955.0,1334.9 1093.0,1237.1 1103.0,1252.7 1055.4,1287.9 1068.6,1234.3 1001.7,1318.5 912.1,1382.7 1027.2,1261.1 987.7,1333.8 1019.1,1296.8 1080.0,1231.2 999.3,1314.6 905.2,1356.0 1054.6,1281.4 959.2,1337.5 1087.7,1262.5 923.5,1361.0 951.1,1343.4 939.7,1343.3 1008.1,1334.7 1055.6,1269.0 949.6,1340.2 966.1,1299.6 967.5,1317.4 1088.5,1260.9 1030.9,1284.6 993.5,1326.2 917.1,1374.4 1000.5,1314.9 1063.2,1259.7 1107.6,1256.7 1017.8,1309.5 994.7,1319.2 932.3,1352.5 1138.6,1230.3"/>
<polyline fill="none" stroke="none" marker-start="url(#dot1)" marker-mid="url(#dot1)" marker-end="url(#dot1)" points="922.1,1348.4 923.8,1356.4 934.1,1341.7 917.6,1347.5 935.4,1343.0 952.0,1339.8 920.1,1346.0 929.9,1348.0 901.8,1363.5"/>
<polyline fill="none" stroke="none" marker-start="url(#dot2)" marker-mid="url(#dot2)" marker-end="url(#dot2)" points="910.9,1366.5 897.3,1382.8 910.3,1372.0 895.4,1381.4 924.1,1348.5 908.5,1360.3"/>
<polyline fill="none" stroke="none" marker-start="url(#dot3)" marker-mid="url(#dot3)" marker-end="url(#dot3)" points="906.6,1367.9 904.4,1367.0 904.0,1374.0 897.4,1372.6"/>
<polyline fill="none" stroke="none" marker-start="url(#dot)" marker-mid="url(#dot)" marker-end="url(#dot)" points="1001.9,1306.7 966.0,1327.6 1087.0,1264.0 933.9,1320.6 920.1,1339.5 934.5,1365.8 922.4,1362.1 971.7,1301.9 991.3,1284.2 980.6,1323.5 971.3,1349.8 1002.3,1306.3 981.6,1323.6 932.9,1366.3 933.8,1326.8 1153.7,1220.9 991.6,1283.0 956.2,1324.6 1023.0,1286.2 967.2,1321.5 940.7,1361.4 977.8,1333.4 947.4,1360.6 1005.6,1278.3 927.2,1331.1 1040.5,1277.3 931.2,1356.9 1038.5,1288.2 1070.6,1280.3 948.1,1338.8 1055.1,1252.5 1067.5,1255.6 1074.9,1243.2 1011.0,1305.7 972.0,1336.7 944.8,1349.4 1099.3,1265.0 911.1,1349.8 998.3,1316.4 926.1,1366.9 932.8,1339.0 929.8,1356.3 963.1,1332.4 980.9,1347.7 929.4,1336.2 916.0,1342.8 950.7,1347.1 1049.6,1290.1 997.5,1338.3 931.1,1366.0 1021.6,1262.2 929.0,1367.1 1144.0,1226.2 1054.0,1287.8 913.0,1377.2 947.4,1324.1 937.8,1344.4 925.1,1372.7 1057.2,1266.0 931.7,1338.5 957.8,1355.2 970.1,1356.5 996.6,1299.3 1029.7,1290.9 928.6,1337.8 1019.5,1260.5 971.1,1354.1 982.8,1335.8 960.6,1352.7 1000.8,1309.3 957.2,1355.7 1034.4,1277.9 893.4,1385.3"/>
<polyline fill="none" stroke="none" marker-start="url(#dot1)" marker-mid="url(#dot1)" marker-end="url(#dot1)" points="916.1,1366.5 893.2,1383.3 928.9,1343.8 914.5,1372.9 903.0,1361.6 932.2,1345.4"/>
<polyline fill="none" stroke="none" marker-start="url(#dot2)" marker-mid="url(#dot2)" marker-end="url(#dot2)" points="913.9,1362.2 893.6,1379.2 908.6,1371.6 909.3,1363.1"/>
<polyline fill="none" stroke="none" marker-start="url(#dot3)" marker-mid="url(#dot3)" marker-end="url(#dot3)" points="896.2,1376.7 895.5,1378.4"/>
<polyline fill="none" stroke="none" marker-start="url(#dot4)" marker-mid="url(#dot4)" marker-end="url(#dot4)" points="899.4,1372.4 898.3,1376.1"/>
<polyline fill="none" stroke="none" marker-start="url(#dot)" marker-mid="url(#dot)" marker-end="url(#dot)" points="958.7,1329.1 946.9,1326.9 956.3,1314.8 1144.8,1235.0 961.6,1327.4 943.0,1336.4 966.6,1344.2 949.3,1344.0 978.5,1305.2 1023.2,1278.2 999.9,1329.0 963.5,1357.1 933.4,1354.6 1049.4,1279.3 1043.5,1249.4 966.3,1325.9 918.2,1342.4 946.3,1347.5 906.8,1353.4 1010.7,1313.2 1107.7,1239.5 943.6,1329.4 1041.0,1322.5 1039.2,1283.8 916.8,1345.6 964.0,1330.2 945.6,1340.6 976.7,1301.9 1022.5,1308.7 947.0,1341.1 941.3,1351.1 971.5,1333.6 916.3,1370.0 1156.4,1220.0 1063.5,1247.5 973.4,1359.3 1005.2,1313.1 1082.1,1265.1 908.6,1382.2 916.2,1376.1 1055.7,1244.2 939.1,1322.3 1019.5,1303.6 1035.5,1310.5 1011.8,1290.8 939.9,1349.9 936.1,1356.5 955.8,1335.5 904.5,1383.4 1050.7,1294.5 950.7,1333.8 984.2,1333.8 939.6,1331.6 1037.2,1265.9 977.3,1318.4 962.4,1355.4 964.1,1339.2 942.9,1344.6 981.8,1349.5 996.7,1333.4 977.4,1351.9 960.7,1353.1 1101.7,1225.0 983.4,1305.4 1068.2,1280.5 940.5,1359.2 1058.2,1264.9 921.7,1363.1 936.6,1372.6"/>
<polyline fill="none" stroke="none" marker-start="url(#dot1)" marker-mid="url(#dot1)" marker-end="url(#dot1)" points="930.0,1346.9 907.1,1379.3 901.5,1361.7 925.6,1346.0 910.0,1355.2 914.1,1364.6 913.3,1366.8 897.5,1368.9 904.0,1359.6 916.7,1346.5 929.4,1347.2 915.4,1347.7"/>
<polyline fill="none" stroke="none" marker-start="url(#dot2)" marker-mid="url(#dot2)" marker-end="url(#dot2)" points="910.2,1359.2 904.4,1378.0"/>
<polyline fill="none" stroke="none" marker-start="url(#dot3)" marker-mid="url(#dot3)" marker-end="url(#dot3)" points="906.4,1370.1 904.6,1364.0"/>
<polyline fill="none" stroke="none" marker-start="url(#dot4)" marker-mid="url(#dot4)" marker-end="url(#dot4)" points="900.9,1376.6 900.9,1376.6"/>
<polyline fill="none" stroke="none" marker-start="url(#dot)" marker-mid="url(#dot)" marker-end="url(#dot)" points="1082.5,1258.8 1073.6,1287.8 936.5,1348.0 953.9,1342.6 1064.4,1237.4 947.5,1321.2 935.1,1329.7 1020.3,1285.7 1001.2,1295.7 949.6,1312.8 1049.9,1272.5 1014.5,1294.3 971.3,1298.7 952.0,1362.6 1044.8,1268.8 967.7,1350.9 1092.3,1276.5 942.5,1342.6 977.0,1304.8 945.3,1349.8 1094.6,1218.0 977.6,1322.7 939.8,1365.6 1077.6,1225.3 970.1,1333.1 991.3,1312.2 923.1,1334.7 1042.1,1292.4 954.0,1314.2 1104.1,1234.7 1063.5,1270.3 925.8,1363.4 934.4,1360.5 936.6,1347.1 1069.3,1231.0 1074.5,1250.5 924.4,1336.9 1077.2,1243.6 925.5,1359.7 1066.4,1247.1 999.5,1314.8 935.3,1359.7 955.8,1340.7 941.0,1323.0 1014.5,1286.1 979.0,1323.7 1009.1,1276.8 962.8,1356.4 1081.7,1234.8 1045.7,1248.0 945.3,1341.4 924.4,1337.2 924.9,1370.4 940.2,1363.1 988.7,1333.0 947.7,1336.3 994.7,1331.4 1037.6,1265.9 987.2,1329.5 953.8,1321.9 905.7,1352.3 985.9,1320.0 1018.2,1337.0 1055.6,1254.3 917.8,1365.3 1070.4,1259.0 995.0,1292.3 1050.2,1284.0 1026.0,1309.6 971.6,1300.6"/>
<polyline fill="none" stroke="none" marker-start="url(#dot1)" marker-mid="url(#dot1)" marker-end="url(#dot1)" points="919.8,1349.8 934.1,1342.9 920.8,1358.5 911.1,1353.6 913.6,1371.2 903.1,1380.7 920.5,1352.7"/>
<polyline fill="none" stroke="none" marker-start="url(#dot2)" marker-mid="url(#dot2)" marker-end="url(#dot2)" points="902.8,1379.7 906.8,1360.9 908.2,1361.8 899.1,1369.5 911.8,1368.2 903.5,1363.1"/>
<polyline fill="none" stroke="none" marker-start="url(#dot3)" marker-mid="url(#dot3)" marker-end="url(#dot3)" points="901.8,1377.8 906.6,1372.4 898.7,1381.3"/>
<polyline fill="none" stroke="none" marker-start="url(#dot4)" marker-mid="url(#dot4)" marker-end="url(#dot4)" points="899.3,1372.9 899.3,1372.9"/>
<polyline fill="none" stroke="none" marker-start="url(#dot)" marker-mid="url(#dot)" marker-end="url(#dot)" points="1040.9,1246.1 911.1,1349.6 1007.0,1326.4 1034.8,1261.1 929.9,1356.6 935.0,1338.2 989.2,1306.9 1114.0,1231.4 947.4,1336.6 993.6,1322.6 955.2,1352.2 971.3,1294.2 939.0,1345.6 1076.4,1299.6 1040.1,1288.0 993.8,1294.1 1036.5,1275.5 966.3,1305.8 1025.3,1324.5 931.9,1325.4 980.6,1336.4 925.5,1337.0 972.4,1300.1 1036.9,1268.8 953.2,1358.5 909.1,1381.7 1044.9,1276.2 944.1,1352.2 939.1,1321.4 949.3,1330.0 937.9,1344.2 941.4,1321.4 1042.1,1304.4 1078.3,1302.7 1037.7,1303.8 973.5,1314.8 1144.7,1217.6 935.2,1355.3 1004.4,1292.2 941.6,1350.8 1019.6,1320.9 989.1,1320.2 1023.3,1258.1 951.1,1311.8 1016.1,1328.3 1118.4,1245.6 947.4,1342.8 1025.6,1297.3 920.1,1369.0 965.0,1304.1 1055.3,1266.8 1052.6,1260.0 966.2,1324.9 1050.2,1277.9 982.7,1326.3 932.8,1367.6 968.4,1331.0 1012.9,1303.2 1036.7,1272.3 957.9,1309.2 919.8,1358.4 926.8,1329.5 982.5,1321.7 928.7,1365.3 931.4,1360.9 955.7,1333.0 977.6,1333.8 981.1,1310.5 999.5,1267.5 1145.6,1218.6 1004.6,1290.6 980.6,1284.8 988.6,1296.6"/>
<polyline fill="none" stroke="none" marker-start="url(#dot1)" marker-mid="url(#dot1)" marker-end="url(#dot1)" points="909.8,1352.8 925.6,1350.1 924.1,1350.2 907.3,1355.8 924.6,1350.7 927.4,1343.7 893.4,1383.8 918.9,1347.5"/>
<polyline fill="none" stroke="none" marker-start="url(#dot2)" marker-mid="url(#dot2)" marker-end="url(#dot2)" points="909.5,1372.5 899.6,1368.3 896.9,1371.1"/>
<polyline fill="none" stroke="none" marker-start="url(#dot3)" marker-mid="url(#dot3)" marker-end="url(#dot3)" points="900.3,1370.2 908.2,1369.2"/>
<polyline fill="none" stroke="none" marker-start="url(#dot4)" marker-mid="url(#dot4)" marker-end="url(#dot4)" points="901.8,1371.5 901.8,1371.5"/>
<polyline fill="none" stroke="none" marker-start="url(#dot)" marker-mid="url(#dot)" marker-end="url(#dot)" points="996.0,1306.0 1002.0,1285.6 1066.3,1297.0 952.0,1316.1 983.8,1291.0 1073.6,1295.3 976.0,1331.3 945.0,1372.2 1009.4,1326.7 1116.3,1240.9 1117.8,1240.1 955.7,1334.6 1082.7,1241.9 944.1,1357.4 1028.8,1288.5 1096.4,1249.1 988.6,1332.3 937.1,1332.7 983.3,1303.7 1022.6,1264.2 980.2,1296.1 1077.2,1264.1 936.0,1321.2 1033.6,1297.7 927.4,1373.9 1066.8,1258.1 1008.3,1322.6 914.2,1375.9 1119.4,1250.8 1011.5,1296.2 1116.6,1233.6 950.6,1331.0 980.1,1300.2 957.8,1340.8 962.5,1325.8 1025.7,1309.8 978.8,1326.9 980.3,1293.5 1144.1,1224.4 937.1,1338.9 975.7,1298.2 1043.2,1285.5 939.5,1324.1 966.1,1307.2 996.0,1291.1 1065.6,1259.3 926.2,1356.6 930.3,1328.6 964.1,1343.6 1021.5,1287.9 956.6,1329.2 1144.6,1224.3 1034.0,1316.6 948.8,1330.8 1091.1,1284.1 943.2,1328.5 1093.3,1238.5 1002.9,1301.8 947.0,1338.2 918.4,1337.6 1014.7,1325.0 1058.6,1291.3 1016.6,1291.2"/>
<polyline fill="none" stroke="none" marker-start="url(#dot1)" marker-mid="url(#dot1)" marker-end="url(#dot1)" points="922.2,1346.7 924.8,1346.0 913.3,1349.8 910.3,1354.8 914.7,1361.7 927.4,1354.5 918.2,1356.7 905.1,1357.2"/>
<polyline fill="none" stroke="none" marker-start="url(#dot2)" marker-mid="url(#dot2)" marker-end="url(#dot2)" points="907.6,1376.4 897.5,1370.3 909.8,1371.1 898.1,1383.2 895.4,1382.5 909.3,1358.6 893.9,1381.3 912.6,1365.9"/>
<polyline fill="none" stroke="none" marker-start="url(#dot3)" marker-mid="url(#dot3)" marker-end="url(#dot3)" points="908.1,1367.5 896.9,1373.4 901.8,1365.8 899.4,1368.4 907.1,1365.7 903.3,1376.2"/>
<polyline fill="none" stroke="none" marker-start="url(#dot4)" marker-mid="url(#dot4)" marker-end="url(#dot4)" points="899.7,1377.7 899.7,1377.7"/>
<polyline fill="none" stroke="none" marker-start="url(#dot)" marker-mid="url(#dot)" marker-end="url(#dot)" points="1043.8,1250.9 994.8,1305.7 1000.2,1337.6 1087.0,1283.9 1043.3,1277.6 931.5,1330.3 933.1,1335.0 1067.4,1258.8 959.2,1335.3 974.2,1297.3 949.5,1352.4 952.4,1350.6 1078.8,1286.1 974.1,1295.9 935.9,1362.2 972.8,1302.2 963.7,1302.0 956.2,1344.6 1055.0,1246.3 954.9,1323.2 928.0,1365.9 1017.9,1315.1 965.0,1352.8 1019.3,1268.7 959.5,1332.8 958.2,1347.0 1018.5,1280.6 997.4,1341.1 1086.0,1271.6 929.2,1329.4 1048.6,1266.1 923.4,1361.3 1104.2,1264.7 924.7,1361.0 918.6,1364.8 1125.3,1249.1 1039.2,1277.4 1016.5,1292.2 1061.8,1279.0 901.9,1359.0 995.5,1331.5 936.3,1323.8 964.2,1336.5 977.1,1345.5 1016.7,1296.2 1112.0,1247.9 956.3,1337.3 938.8,1327.1 941.0,1348.3 947.5,1356.5 998.7,1307.5 1004.6,1264.3 1037.0,1262.8 1157.7,1215.4 1071.3,1263.6 949.0,1326.2 941.7,1334.0 1014.8,1269.5 1134.7,1229.8 932.6,1357.8 935.4,1327.6 1017.2,1325.5 963.8,1315.9 1010.8,1256.5 946.7,1340.5"/>
<polyline fill="none" stroke="none" marker-start="url(#dot1)" marker-mid="url(#dot1)" marker-end="url(#dot1)" points="917.8,1346.5 912.1,1356.8 906.7,1356.4 930.2,1351.4 908.0,1356.3 925.6,1355.2 897.4,1384.4 926.7,1349.5"/>
<polyline fill="none" stroke="none" marker-start="url(#dot2)" marker-mid="url(#dot2)" marker-end="url(#dot2)" points="903.1,1379.1 907.7,1360.9 909.2,1364.3 895.0,1381.6 897.4,1369.2 912.2,1371.0"/>
<polyline fill="none" stroke="none" marker-start="url(#dot3)" marker-mid="url(#dot3)" marker-end="url(#dot3)" points="906.4,1367.6 905.8,1367.1 908.1,1368.0 897.1,1372.2 896.0,1378.9 904.1,1365.6 902.6,1367.1"/>
<polyline fill="none" stroke="none" marker-start="url(#dot4)" marker-mid="url(#dot4)" marker-end="url(#dot4)" points="899.9,1372.0 899.9,1372.0"/>
<polyline fill="none" stroke="none" marker-start="url(#dot)" marker-mid="url(#dot)" marker-end="url(#dot)" points="1035.9,1285.3 962.5,1315.3 974.7,1327.8 1072.5,1256.1 937.8,1332.6 941.2,1366.9 958.2,1341.1 961.9,1301.4 933.6,1370.4 1014.8,1312.3 929.6,1331.7 973.8,1291.5 963.6,1316.1 957.4,1343.6 959.7,1299.2 950.3,1356.8 1122.2,1243.0 1001.7,1317.7 985.7,1289.1 1012.3,1308.3 894.6,1385.6 1023.8,1270.5 1129.2,1235.2 950.4,1336.1 988.3,1352.0 1015.0,1320.6 993.3,1326.8 1010.5,1285.2 921.2,1369.2 919.8,1341.7 933.7,1327.2 1044.0,1255.7 1114.3,1245.3 928.6,1333.6 1156.3,1221.0 978.4,1302.9 1036.1,1268.2 1054.5,1250.4 924.4,1361.6 960.6,1339.8 983.2,1325.9 1095.8,1247.4 991.7,1324.7 943.1,1336.5 1073.1,1294.5 990.9,1320.1 962.5,1315.9 1076.4,1277.5 938.2,1322.2 930.5,1335.1 988.8,1304.8 945.8,1347.1 981.2,1300.0 994.1,1312.4 1045.1,1280.8 1030.2,1309.7 993.0,1343.7 995.6,1313.9 925.0,1376.5 1014.1,1315.9 939.2,1319.3 1031.5,1278.3"/>
<polyline fill="none" stroke="none" marker-start="url(#dot1)" marker-mid="url(#dot1)" marker-end="url(#dot1)" points="914.6,1362.4 922.3,1346.7 912.8,1354.0 923.1,1349.4 920.7,1350.8 916.7,1361.0 917.9,1356.8 915.8,1368.1"/>
<polyline fill="none" stroke="none" marker-start="url(#dot2)" marker-mid="url(#dot2)" marker-end="url(#dot2)" points="901.2,1364.4 911.9,1366.7 893.9,1380.8 898.1,1368.9 901.0,1364.5 896.1,1371.9 902.6,1363.8 913.3,1367.1 894.0,1380.1 910.8,1359.2"/>
<polyline fill="none" stroke="none" marker-start="url(#dot3)" marker-mid="url(#dot3)" marker-end="url(#dot3)" points="900.4,1368.7 905.3,1374.4 895.0,1377.6 899.8,1369.4"/>
<polyline fill="none" stroke="none" marker-start="url(#dot4)" marker-mid="url(#dot4)" marker-end="url(#dot4)" points="900.4,1373.6 898.7,1374.5 900.3,1374.2"/>
<polyline fill="none" stroke="none" marker-start="url(#dot)" marker-mid="url(#dot)" marker-end="url(#dot)" points="930.8,1338.9 959.5,1339.7 955.8,1353.4 1079.0,1275.1 1025.7,1303.8 931.9,1353.1 1114.2,1245.5 1020.1,1309.8 1006.6,1275.1 971.7,1296.6 1021.4,1274.3 943.1,1357.5 916.1,1340.2 1035.0,1296.7 1004.3,1302.3 959.0,1355.3 1021.3,1268.0 982.9,1303.4 970.0,1306.0 1115.0,1227.2 1031.0,1310.4 979.1,1286.0 978.6,1341.3 1021.6,1289.2 1031.9,1282.6 967.8,1351.0 965.1,1342.4 972.7,1288.6 930.1,1332.6 1011.1,1291.8 1115.9,1221.2 1041.3,1282.4 1104.0,1246.1 988.9,1281.8 999.7,1314.2 1010.3,1324.0 940.8,1359.9 1005.7,1319.3 1005.6,1310.7 947.2,1331.1 954.8,1361.6 931.0,1338.0 1080.4,1292.0 1046.7,1241.2 1039.8,1310.7 923.2,1360.1 1082.0,1227.8 917.7,1370.4 995.9,1304.9 987.7,1294.1 919.0,1372.2 1068.3,1292.8 1032.5,1302.2 945.1,1335.1 1006.5,1286.6 955.6,1317.4 1093.8,1246.8 953.3,1328.7 1047.3,1257.4 946.7,1343.3 931.8,1368.3 1065.4,1243.6 919.4,1339.9 1020.7,1318.5 918.3,1341.5"/>
<polyline fill="none" stroke="none" marker-start="url(#dot1)" marker-mid="url(#dot1)" marker-end="url(#dot1)" points="918.9,1357.0 925.5,1351.3 921.7,1354.3 914.6,1349.2 926.4,1351.8 928.2,1345.6 936.7,1342.5 930.2,1348.3"/>
<polyline fill="none" stroke="none" marker-start="url(#dot2)" marker-mid="url(#dot2)" marker-end="url(#dot2)" points="901.4,1365.4 895.0,1375.2 905.1,1361.5 904.1,1378.8 903.2,1378.7 911.0,1368.3"/>
<polyline fill="none" stroke="none" marker-start="url(#dot3)" marker-mid="url(#dot3)" marker-end="url(#dot3)" points="907.1,1366.8 903.5,1376.6 907.5,1368.6 895.6,1375.2 895.6,1380.0"/>
<polyline fill="none" stroke="none" marker-start="url(#dot4)" marker-mid="url(#dot4)" marker-end="url(#dot4)" points="900.3,1376.5 897.4,1379.7"/>
<polyline fill="none" stroke="none" marker-start="url(#dot)" marker-mid="url(#dot)" marker-end="url(#dot)" points="1030.4,1288.7 990.6,1346.6 938.9,1329.8 970.6,1352.8 1056.1,1284.9 915.3,1342.5 1066.8,1270.6 1075.9,1214.6 1050.1,1242.5 959.1,1324.6 1039.8,1303.1 958.4,1341.4 997.9,1342.3 1064.6,1261.8 1057.1,1307.8 994.6,1311.2 977.2,1350.3 945.4,1321.4 1006.0,1287.8 977.5,1304.1 1127.1,1236.2 912.6,1378.1 930.9,1328.6 967.1,1320.7 973.0,1307.9 1044.9,1260.1 989.6,1311.7 981.5,1283.4 966.5,1318.8 909.4,1379.2 1010.0,1331.4 1067.3,1283.5 1052.3,1250.5 1060.7,1302.5 926.1,1369.3 1055.8,1285.7 966.2,1318.1 1054.4,1250.1 951.0,1345.3 1001.1,1303.8 1068.7,1288.9 1017.2,1307.7 1008.1,1290.2 915.0,1375.4 950.7,1340.9 1103.2,1240.1 961.0,1354.2 957.7,1335.2 966.0,1312.7 1014.8,1335.7 972.6,1334.1 956.2,1311.7 1016.9,1323.2 1019.3,1298.6 938.1,1322.5 1008.5,1292.8 997.8,1331.9 996.7,1301.2 1040.2,1263.5 903.8,1382.2 943.5,1318.5 967.7,1336.2 990.1,1306.2"/>
<polyline fill="none" stroke="none" marker-start="url(#dot1)" marker-mid="url(#dot1)" marker-end="url(#dot1)" points="921.8,1354.3 931.8,1346.4 914.6,1367.8 917.4,1348.8 928.9,1345.8 907.1,1378.8 930.7,1343.7 914.5,1358.8 924.5,1344.6 917.0,1351.5 919.2,1360.9 912.9,1357.8 928.0,1349.1"/>
<polyline fill="none" stroke="none" marker-start="url(#dot2)" marker-mid="url(#dot2)" marker-end="url(#dot2)" points="910.3,1372.7 899.4,1368.2 894.5,1379.7 907.9,1358.5 910.0,1365.4 897.2,1382.4 902.0,1379.2"/>
<polyline fill="none" stroke="none" marker-start="url(#dot3)" marker-mid="url(#dot3)" marker-end="url(#dot3)" points="906.8,1369.1 896.2,1378.3 896.0,1377.2"/>
<polyline fill="none" stroke="none" marker-start="url(#dot4)" marker-mid="url(#dot4)" marker-end="url(#dot4)" points="897.9,1378.9 897.9,1378.9"/>
<polyline fill="none" stroke="none" marker-start="url(#dot)" marker-mid="url(#dot)" marker-end="url(#dot)" points="1078.2,1254.5 1080.5,1233.5 1036.4,1319.0 940.5,1344.0 1003.3,1295.8 1101.8,1274.6 1115.4,1251.9 1089.2,1287.0 1005.0,1291.6 962.3,1364.0 1149.7,1228.1 991.1,1341.7 957.4,1313.6 1102.0,1221.1 998.0,1302.6 957.7,1346.4 999.6,1296.2 957.7,1329.4 1105.8,1235.2 949.5,1314.1 974.0,1319.2 950.5,1358.3 930.3,1330.2 998.8,1288.4 942.5,1342.3 979.5,1347.5 943.6,1322.6 1014.2,1277.7 956.8,1336.1 991.7,1308.8 935.4,1336.4 991.8,1311.0 991.6,1296.4 952.3,1342.7 1098.9,1237.9 1076.7,1224.2 1047.0,1301.4 949.4,1352.3 1090.1,1272.7 1038.8,1300.1 1006.0,1319.3 997.4,1322.4 927.6,1365.7 1067.2,1272.4 1011.6,1308.5 942.7,1335.7 1050.8,1273.8 971.8,1346.4 934.2,1368.7 1011.1,1294.6 926.4,1359.4 996.9,1338.6 1013.5,1289.0 1042.0,1258.7 955.6,1324.3 948.1,1337.3 1005.8,1284.0 1022.0,1291.2 979.6,1287.1 1052.4,1261.1 967.3,1326.5 940.8,1360.0"/>
<polyline fill="none" stroke="none" marker-start="url(#dot1)" marker-mid="url(#dot1)" marker-end="url(#dot1)" points="953.8,1333.9 916.6,1354.2 935.5,1341.0 930.8,1350.8 893.9,1383.3 907.7,1357.2 895.3,1383.7 895.8,1370.4 912.0,1353.1 919.3,1361.0 904.4,1360.4 904.1,1357.8"/>
<polyline fill="none" stroke="none" marker-start="url(#dot2)" marker-mid="url(#dot2)" marker-end="url(#dot2)" points="912.3,1365.6 894.7,1376.7 893.5,1381.0 899.5,1366.9 909.5,1358.7 894.6,1381.9"/>
<polyline fill="none" stroke="none" marker-start="url(#dot3)" marker-mid="url(#dot3)" marker-end="url(#dot3)" points="902.7,1367.8 904.5,1373.5 894.4,1377.5 898.8,1370.9 895.1,1380.2 905.3,1365.9"/>
<polyline fill="none" stroke="none" marker-start="url(#dot4)" marker-mid="url(#dot4)" marker-end="url(#dot4)" points="900.0,1374.3 900.0,1374.3"/>
<polyline fill="none" stroke="none" marker-start="url(#dot)" marker-mid="url(#dot)" marker-end="url(#dot)" points="893.5,1380.9 1136.3,1179.1 1141.4,1200.7 1150.0,1206.5 1157.7,1209.6 1187.7,1171.4 1200.9,1170.2 1215.1,1192.5 1184.6,1200.7 1182.6,1213.4 1178.0,1225.6 1125.4,1274.4 1085.9,1294.7 1072.0,1307.4 1121.5,1262.9 1039.7,1318.1 1384.4,1062.3"/>
</svg>
<text x="884.99" y="1435.74" font-size="29.40" textLength="14.72" lengthAdjust="spacingAndGlyphs" fill="#262626">0</text>
<text x="961.39" y="1435.74" font-size="29.40" textLength="44.15" lengthAdjust="spacingAndGlyphs" fill="#262626">500</text>
<text x="1044.66" y="1435.74" font-size="29.40" textLength="58.87" lengthAdjust="spacingAndGlyphs" fill="#262626"> 000</text>
<text x="1135.74" y="1435.74" font-size="29.40" textLength="58.87" lengthAdjust="spacingAndGlyphs" fill="#262626"> 500</text>
<text x="1227.22" y="1435.74" font-size="29.40" textLength="58.87" lengthAdjust="spacingAndGlyphs" fill="#262626">2000</text>
<text x="1318.30" y="1435.74" font-size="29.40" textLength="58.87" lengthAdjust="spacingAndGlyphs" fill="#262626">2500</text>
<text x="838.24" y="1394.54" font-size="29.40" textLength="14.72" lengthAdjust="spacingAndGlyphs" fill="#262626">0</text>
<text x="808.87" y="1322.39" font-size="29.40" textLength="44.15" lengthAdjust="spacingAndGlyphs" fill="#262626">500</text>
<text x="794.32" y="1250.24" font-size="29.40" textLength="58.87" lengthAdjust="spacingAndGlyphs" fill="#262626"> 000</text>
<text x="794.32" y="1178.09" font-size="29.40" textLength="58.87" lengthAdjust="spacingAndGlyphs" fill="#262626"> 500</text>
<text x="794.32" y="1105.94" font-size="29.40" textLength="58.87" lengthAdjust="spacingAndGlyphs" fill="#262626">2000</text>
<text x="1100.57" y="1467.30" font-size="29.71" textLength="72.89" lengthAdjust="spacingAndGlyphs" fill="#262626">REP </text>
<text transform="rotate(-90)" x="-1264.30" y="785.08" font-size="31.69" textLength="75.01" lengthAdjust="spacingAndGlyphs" fill="#262626">REP3</text>
<text x="921.54" y="1082.60" font-size="30.0" textLength="107.39" lengthAdjust="spacingAndGlyphs" fill="#262626">ρ = 0.94</text>
<path d="M175.45 819.5h2.92V858.6H175.45ZM179.87 846.2h2.92V858.6H179.87ZM184.29 839.5h2.92V858.6H184.29ZM188.71 816.4h2.92V858.6H188.71ZM193.13 788.4h2.92V858.6H193.13ZM197.54 745.4h2.92V858.6H197.54ZM201.96 699.2h2.92V858.6H201.96ZM206.38 670.2h2.92V858.6H206.38ZM210.80 637.8h2.92V858.6H210.80ZM215.22 597.9h2.92V858.6H215.22ZM219.64 589.1h2.92V858.6H219.64ZM224.06 580.0h2.92V858.6H224.06ZM228.48 562.2h2.92V858.6H228.48ZM232.90 578.4h2.92V858.6H232.90ZM237.32 581.5h2.92V858.6H237.32ZM241.73 580.0h2.92V858.6H241.73ZM246.15 612.6h2.92V858.6H246.15ZM250.57 639.3h2.92V858.6H250.57ZM254.99 643.9h2.92V858.6H254.99ZM259.41 679.2h2.92V858.6H259.41ZM263.83 696.0h2.92V858.6H263.83ZM268.25 715.2h2.92V858.6H268.25ZM272.67 736.7h2.92V858.6H272.67ZM277.09 754.2h2.92V858.6H277.09ZM281.51 768.9h2.92V858.6H281.51ZM285.92 786.8h2.92V858.6H285.92ZM290.34 797.4h2.92V858.6H290.34ZM294.76 805.0h2.92V858.6H294.76ZM299.18 821.3h2.92V858.6H299.18ZM303.60 826.7h2.92V858.6H303.60ZM308.02 828.5h2.92V858.6H308.02ZM312.44 836.9h2.92V858.6H312.44ZM316.86 843.0h2.92V858.6H316.86ZM321.28 844.5h2.92V858.6H321.28ZM325.70 848.0h2.92V858.6H325.70ZM330.12 849.7h2.92V858.6H330.12ZM334.53 852.4h2.92V858.6H334.53ZM338.95 853.5h2.92V858.6H338.95ZM343.37 855.3h2.92V858.6H343.37ZM347.79 857.0h2.92V858.6H347.79ZM352.21 856.7h2.92V858.6H352.21ZM356.63 858.0h2.92V858.6H356.63Z" fill="#eadcd2"/>
<path d="M175.95 819.5V858.6M180.37 846.2V858.6M184.79 839.5V858.6M189.21 816.4V858.6M193.63 788.4V858.6M198.04 745.4V858.6M202.46 699.2V858.6M206.88 670.2V858.6M211.30 637.8V858.6M215.72 597.9V858.6M220.14 589.1V858.6M224.56 580.0V858.6M228.98 562.2V858.6M233.40 578.4V858.6M237.82 581.5V858.6M242.23 580.0V858.6M246.65 612.6V858.6M251.07 639.3V858.6M255.49 643.9V858.6M259.91 679.2V858.6M264.33 696.0V858.6M268.75 715.2V858.6M273.17 736.7V858.6M277.59 754.2V858.6M282.01 768.9V858.6M286.42 786.8V858.6M290.84 797.4V858.6M295.26 805.0V858.6M299.68 821.3V858.6M304.10 826.7V858.6M308.52 828.5V858.6M312.94 836.9V858.6M317.36 843.0V858.6M321.78 844.5V858.6M326.20 848.0V858.6M330.62 849.7V858.6M335.03 852.4V858.6M339.45 853.5V858.6M343.87 855.3V858.6M348.29 857.0V858.6M352.71 856.7V858.6M357.13 858.0V858.6" stroke="#c8ab99" stroke-width="1" fill="none"/>
<rect x="153.6" y="545.9" width="482.6" height="313.7" fill="none" stroke="#262626" stroke-width="3.0"/>
<text x="117.40" y="870.87" font-size="31.80" textLength="17.87" lengthAdjust="spacingAndGlyphs" fill="#262626">0</text>
<text x="64.08" y="803.65" font-size="31.80" textLength="71.45" lengthAdjust="spacingAndGlyphs" fill="#262626"> 000</text>
<text x="64.08" y="736.43" font-size="31.80" textLength="71.45" lengthAdjust="spacingAndGlyphs" fill="#262626">2000</text>
<text x="64.08" y="669.21" font-size="31.80" textLength="71.45" lengthAdjust="spacingAndGlyphs" fill="#262626">3000</text>
<text x="64.08" y="601.99" font-size="31.80" textLength="71.45" lengthAdjust="spacingAndGlyphs" fill="#262626">4000</text>
<text x="165.76" y="899.97" font-size="31.80" textLength="17.87" lengthAdjust="spacingAndGlyphs" fill="#262626">0</text>
<text x="246.13" y="899.97" font-size="31.80" textLength="53.59" lengthAdjust="spacingAndGlyphs" fill="#262626">500</text>
<text x="334.86" y="899.97" font-size="31.80" textLength="71.45" lengthAdjust="spacingAndGlyphs" fill="#262626"> 000</text>
<text x="433.06" y="899.97" font-size="31.80" textLength="71.45" lengthAdjust="spacingAndGlyphs" fill="#262626"> 500</text>
<text x="531.74" y="899.97" font-size="31.80" textLength="71.45" lengthAdjust="spacingAndGlyphs" fill="#262626">2000</text>
<text x="276.43" y="935.76" font-size="31.60" textLength="235.20" lengthAdjust="spacingAndGlyphs" fill="#262626">Mapped Reads</text>
<text transform="rotate(-90)" x="-863.36" y="46.14" font-size="27.45" textLength="320.70" lengthAdjust="spacingAndGlyphs" fill="#262626">Frequency of Guides</text>
<rect x="183.2" y="1362.2" width="120.4" height="32.1" fill="#0000ff"/>
<rect x="336.4" y="1119.7" width="119.7" height="274.6" fill="#ff8c00"/>
<rect x="167" y="1094.3" width="459" height="300.0" fill="none" stroke="#1a1a1a" stroke-width="2.3"/>
<text x="212.62" y="1359.72" font-size="27.75" textLength="77.25" lengthAdjust="spacingAndGlyphs" fill="#000"> 0.8%</text>
<text x="365.41" y="1116.53" font-size="27.32" textLength="77.26" lengthAdjust="spacingAndGlyphs" fill="#000">89. %</text>
<text x="518.40" y="1392.32" font-size="28.31" textLength="77.77" lengthAdjust="spacingAndGlyphs" fill="#000">0.09%</text>
<text x="234.58" y="1432.72" font-size="28.17" textLength="17.04" lengthAdjust="spacingAndGlyphs" fill="#000">0</text>
<text x="388.63" y="1433.20" font-size="29.13" textLength="13.71" lengthAdjust="spacingAndGlyphs" fill="#000"> </text>
<text x="528.07" y="1433.20" font-size="28.71" textLength="47.33" lengthAdjust="spacingAndGlyphs" fill="#000">≥ 2</text>
<text x="299.54" y="1468.23" font-size="32.23" textLength="193.60" lengthAdjust="spacingAndGlyphs" fill="#000">times aligned</text>
<text transform="rotate(-90)" x="-1332.02" y="47.18" font-size="32.03" textLength="174.75" lengthAdjust="spacingAndGlyphs" fill="#000">no. of reads</text>
<text x="132.91" y="1404.81" font-size="28.59" textLength="16.57" lengthAdjust="spacingAndGlyphs" fill="#000">0</text>
<text y="1305.60" font-size="32" fill="#000"><tspan x="59.4">1</tspan><tspan x="79" font-style="italic">x</tspan><tspan x="96.6">10</tspan><tspan x="136" y="1293.30" font-size="21">7</tspan></text>
<text y="1205.50" font-size="32" fill="#000"><tspan x="59.4">2</tspan><tspan x="79" font-style="italic">x</tspan><tspan x="96.6">10</tspan><tspan x="136" y="1193.20" font-size="21">7</tspan></text>
<text y="1105.40" font-size="32" fill="#000"><tspan x="59.4">3</tspan><tspan x="79" font-style="italic">x</tspan><tspan x="96.6">10</tspan><tspan x="136" y="1093.10" font-size="21">7</tspan></text>
<path d="M763 0L583 0L583-1102C540-1063 483-1024 412-983C341-943 277-913 221-893L221-1060C322-1105 410-1160 485-1224C560-1289 613-1351 644-1409L763-1409Z" fill="#000" transform="translate(546.91,283.20) scale(0.01399,0.01479)"/>
<path d="M763 0L583 0L583-1102C540-1063 483-1024 412-983C341-943 277-913 221-893L221-1060C322-1105 410-1160 485-1224C560-1289 613-1351 644-1409L763-1409Z" fill="#262626" transform="translate(1044.86,488.44) scale(0.01293,0.01436)"/>
<path d="M763 0L583 0L583-1102C540-1063 483-1024 412-983C341-943 277-913 221-893L221-1060C322-1105 410-1160 485-1224C560-1289 613-1351 644-1409L763-1409Z" fill="#262626" transform="translate(1135.94,488.44) scale(0.01293,0.01436)"/>
<path d="M763 0L583 0L583-1102C540-1063 483-1024 412-983C341-943 277-913 221-893L221-1060C322-1105 410-1160 485-1224C560-1289 613-1351 644-1409L763-1409Z" fill="#262626" transform="translate(794.32,286.94) scale(0.01293,0.01436)"/>
<path d="M763 0L583 0L583-1102C540-1063 483-1024 412-983C341-943 277-913 221-893L221-1060C322-1105 410-1160 485-1224C560-1289 613-1351 644-1409L763-1409Z" fill="#262626" transform="translate(794.32,206.44) scale(0.01293,0.01436)"/>
<path d="M763 0L583 0L583-1102C540-1063 483-1024 412-983C341-943 277-913 221-893L221-1060C322-1105 410-1160 485-1224C560-1289 613-1351 644-1409L763-1409Z" fill="#262626" transform="translate(1157.77,520.30) scale(0.01370,0.01408)"/>
<path d="M763 0L583 0L583-1102C540-1063 483-1024 412-983C341-943 277-913 221-893L221-1060C322-1105 410-1160 485-1224C560-1289 613-1351 644-1409L763-1409Z" fill="#262626" transform="translate(1110.60,960.64) scale(0.01293,0.01436)"/>
<path d="M763 0L583 0L583-1102C540-1063 483-1024 412-983C341-943 277-913 221-893L221-1060C322-1105 410-1160 485-1224C560-1289 613-1351 644-1409L763-1409Z" fill="#262626" transform="translate(1234.50,960.64) scale(0.01293,0.01436)"/>
<path d="M763 0L583 0L583-1102C540-1063 483-1024 412-983C341-943 277-913 221-893L221-1060C322-1105 410-1160 485-1224C560-1289 613-1351 644-1409L763-1409Z" fill="#262626" transform="translate(794.32,776.74) scale(0.01293,0.01436)"/>
<path d="M763 0L583 0L583-1102C540-1063 483-1024 412-983C341-943 277-913 221-893L221-1060C322-1105 410-1160 485-1224C560-1289 613-1351 644-1409L763-1409Z" fill="#262626" transform="translate(794.32,705.24) scale(0.01293,0.01436)"/>
<path d="M763 0L583 0L583-1102C540-1063 483-1024 412-983C341-943 277-913 221-893L221-1060C322-1105 410-1160 485-1224C560-1289 613-1351 644-1409L763-1409Z" fill="#262626" transform="translate(1044.66,1435.74) scale(0.01293,0.01436)"/>
<path d="M763 0L583 0L583-1102C540-1063 483-1024 412-983C341-943 277-913 221-893L221-1060C322-1105 410-1160 485-1224C560-1289 613-1351 644-1409L763-1409Z" fill="#262626" transform="translate(1135.74,1435.74) scale(0.01293,0.01436)"/>
<path d="M763 0L583 0L583-1102C540-1063 483-1024 412-983C341-943 277-913 221-893L221-1060C322-1105 410-1160 485-1224C560-1289 613-1351 644-1409L763-1409Z" fill="#262626" transform="translate(794.32,1250.24) scale(0.01293,0.01436)"/>
<path d="M763 0L583 0L583-1102C540-1063 483-1024 412-983C341-943 277-913 221-893L221-1060C322-1105 410-1160 485-1224C560-1289 613-1351 644-1409L763-1409Z" fill="#262626" transform="translate(794.32,1178.09) scale(0.01293,0.01436)"/>
<path d="M763 0L583 0L583-1102C540-1063 483-1024 412-983C341-943 277-913 221-893L221-1060C322-1105 410-1160 485-1224C560-1289 613-1351 644-1409L763-1409Z" fill="#262626" transform="translate(1157.93,1467.30) scale(0.01363,0.01451)"/>
<path d="M763 0L583 0L583-1102C540-1063 483-1024 412-983C341-943 277-913 221-893L221-1060C322-1105 410-1160 485-1224C560-1289 613-1351 644-1409L763-1409Z" fill="#262626" transform="translate(64.08,803.65) scale(0.01568,0.01553)"/>
<path d="M763 0L583 0L583-1102C540-1063 483-1024 412-983C341-943 277-913 221-893L221-1060C322-1105 410-1160 485-1224C560-1289 613-1351 644-1409L763-1409Z" fill="#262626" transform="translate(334.86,899.97) scale(0.01568,0.01553)"/>
<path d="M763 0L583 0L583-1102C540-1063 483-1024 412-983C341-943 277-913 221-893L221-1060C322-1105 410-1160 485-1224C560-1289 613-1351 644-1409L763-1409Z" fill="#262626" transform="translate(433.06,899.97) scale(0.01568,0.01553)"/>
<path d="M763 0L583 0L583-1102C540-1063 483-1024 412-983C341-943 277-913 221-893L221-1060C322-1105 410-1160 485-1224C560-1289 613-1351 644-1409L763-1409Z" fill="#000" transform="translate(212.62,1359.72) scale(0.01331,0.01355)"/>
<path d="M763 0L583 0L583-1102C540-1063 483-1024 412-983C341-943 277-913 221-893L221-1060C322-1105 410-1160 485-1224C560-1289 613-1351 644-1409L763-1409Z" fill="#000" transform="translate(403.27,1116.53) scale(0.01333,0.01334)"/>
<path d="M763 0L583 0L583-1102C540-1063 483-1024 412-983C341-943 277-913 221-893L221-1060C322-1105 410-1160 485-1224C560-1289 613-1351 644-1409L763-1409Z" fill="#000" transform="translate(388.63,1433.20) scale(0.01204,0.01422)"/>
</svg></body></html>
